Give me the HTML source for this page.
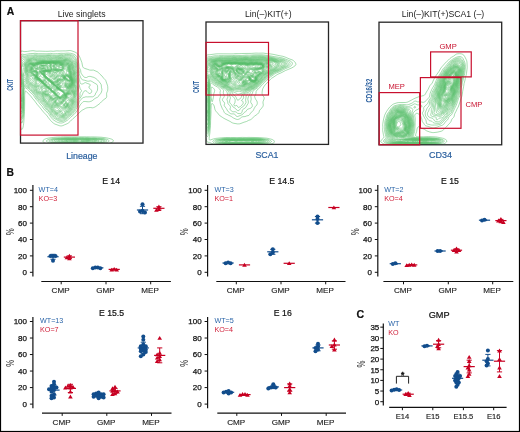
<!DOCTYPE html>
<html><head><meta charset="utf-8"><style>
html,body{margin:0;padding:0;background:#fff;}
svg{display:block;will-change:transform;}
text{font-family:"Liberation Sans",sans-serif;}
</style></head><body>
<svg width="520" height="432" viewBox="0 0 520 432">
<rect x="0" y="0" width="520" height="432" fill="#fff"/>

<clipPath id="c1"><rect x="20.5" y="20.7" width="122.5" height="122.39999999999999"/></clipPath>
<g clip-path="url(#c1)"><g transform="scale(0.1)" fill="none" stroke="#5cc06e" stroke-width="5.5" stroke-opacity="1">
<path d="M435 643l-3 1-4-2 2-2 2-1 4 3-1 1M390 717l-2 2-6-1-8-6-5-5-1-3 0-2 0-2 2-2 5-3 5-1 5 1 5 3 2 4 1 5-1 6-2 4M438 778l-3 1-3 0-7-2-8-5-8-8-3-4 0-8 2-6 2-3 2-1 3 0 5 2 5 5 5 5 5 8 3 8 1 4-1 4M390 775l-5-2-3-3-1-3 1-3 3-2 3-1 5 1 3 2 2 3 0 3-2 2-4 2-2 1M680 783l-3-1-1-2 2 0 2 2 0 1M602 966l-2 0-5-1-3-3-3-5-1-5 5-8 1-4 0-6-2-2-4-5-6-2-11-3-3-3-1-5 2-4 5-6 5-2 6-1 5 1 12 5 13 7 11 8 5 5 3 5 0 5-2 5-14 9-10 11-6 4M442 650l-7 1-8-1-7-3-3-3-1-2 1-2 3-3 5-2 5-1 8 1 6 2 3 3 2 2 0 2-2 3-5 3M490 656l-2 0-3 0-5-3-3-3-2-6 1-2 3-2 6-2 5-1 5 2 2 3 0 2-2 6-3 4-2 2M610 681l-2-1 0-3 0-5 2-3 2 4 1 4-1 3-2 1M498 695l-6 0-3-3 0-2 0-3 1-3 2-3 3 0 3 1 3 5 1 3-1 2-1 2-2 1M425 799l-3 0-2-1-2-2-6-6-4-4-6-3-14-4-6-2-5-5-2-5 0-3 2-4 5-6 7-4 3-4 3-4 0-8-1-2-9-6-13-11-6-5-4-6-1-4 1-3 6-4 10-4 7 0 5 1 6 4 3 6 0 2-4 20 0 8 4 2 16 5 7 5 10 11 13 19 2 5 1 5-1 5-2 3-14 4-6 5M432 702l-2 0-4-2 1-3 3-3 8-2 3 0 1 1 1 1-1 3-2 2-8 3M692 798l-4 0-6-2-6-4-9-8-5-4-2-5-1-3 1-5 4-3 6 1 8 3 7 6 7 8 4 8 0 4-2 3-2 1M605 970l-3 1-4 0-6-2-4-5-6-7-3-7 0-6 3-4 0-3-2-1-8 0-4-2-8-6-4-6-1-5 2-5 8-10 7-5 6-2 4 1 8 1 8 4 12 7 18 12 6 4 4 6 1 2 0 5-1 5-2 2-4 4-12 8-10 11-5 3M448 653l-6 1-4 0-8-1-8-1-6-2-4-3-2-3 0-2 1-2 3-3 8-4 10-1 10 2 9 3 4 3 4 2 2 2-7 6-6 3M500 700l-7 0-5-2-5-4-1-2-1-5 3-13 0-4-5-8-16-18 3-2 9-5 7-2 8-1 8 2 1 1 3 3 1 2 0 2-7 16-1 4 0 3 1 3 9 12 2 5 1 5-3 5-5 3M558 670l-6 0-2-2-2-4-1-2 1-5 2-3 2-2 3-1 3 1 3 2 2 6 0 4-1 3-2 2-2 1M605 692l-5 0-6-2-2-3 0-3 3-10 4-12 1-2 2-3 6-1 4 1 4 3 2 2 2 4 2 6 1 10-3 5-2 2-6 2-7 1M428 807l-6 0-2-1-5-4-11-12-6-4-16-7-4-3-3-4-3-7 1-5 2-4 8-12 1-2 0-5-2-7-4-6-4-4-15-13-4-5-1-2 0-3 2-3 4-2 20-8 5-1 3 0 7 4 12 13 0 2-5 5-2 6-1 7 2 4 5 6 14 7 8 7 19 26 5 10 3 7-1 5-2 2-14 7-10 6M435 705l-7 1-6-1-6-3 0-2 2-3 7-5 10-5 7-1 6 1 2 3 1 2 0 2-2 3-7 5-7 3M695 803l-5 0-8-2-8-7-12-10-4-5-3-7 0-5 1-3 2-3 2-1 2-1 6 1 4 2 10 5 8 8 7 9 3 8 0 5-1 3-1 1-3 2M485 822l-4-2 1-2 3 1 0 3M518 858l-3 1-3 0-2-4 0-3 0-4 2-4 3 0 5 1 3 2 2 3-1 2-2 2-4 4M608 973l-6 1-4 0-6-2-4-4-10-11-11-15-15-18-3-4-2-6 1-2 14-16 6-4 4-1 8 1 10 3 8 3 34 22 6 4 3 6 1 4 0 6-2 4-2 5-4 3-12 7-10 11-4 3M498 702l-6 0-6-2-5-3-3-3-1-2-1-2 3-13-1-7-4-8-6-7-6-2-2 0-18 4-7 0-7-2-13-3-6-2-4-3 0-3 1-2 5-5 4-3 8-2 7-1 12 1 13 4 7 2 18-5 8 0 7 0 5 1 2 2 4 4 0 2-1 5-4 10-2 7 2 6 6 10 3 4 1 8-2 5-2 3-5 1-4 1M562 677l-7 0-5-2-3-3-3-5-1-5 1-8 3-4 3-3 5-1 5 2 5 4 3 5 2 7 0 6-3 4-2 2-3 1M610 695l-10 0-8-1-4-2-4-2-2-3-1-3 1-2 7-10 4-10 3-5 4-3 5-2 5 1 4 1 6 6 4 7 3 13 0 4-1 3-2 3-4 2-10 3M432 810l-4 1-6-1-2-1-5-5-13-13-4-3-18-8-5-6-3-4-1-8 1-7 7-13 1-5-2-7-4-8-9-8-13-9-10-5-4-3-2-5-1-5 1-5 2-4 2 1 4 5 4 4 2 1 5 0 15-5 5-2 7-6 3 0 5 2 15 14 5 2 2 0 6-1 14-7 8-3 8 0 3 1 3 3 2 3 0 2-1 2-5 6-8 4-7 3-7 1-16-2-2 1-5 2-2 3-1 2 0 6 2 4 4 4 14 9 8 7 20 28 6 10 4 8 1 4 0 3-1 1-2 2-16 3-10 7M698 805l-3 1-5 0-8-3-10-6-12-11-4-6-3-8 0-8 0-2 2-3 3-2 2-1 5 1 5 1 10 5 10 9 8 10 4 10 0 5 0 3-2 3-2 2M515 870l-3 1-2-1-4-3-4-4-3-6-2-13-4-4-6-6-13-4-4-5-2-5 0-6 0-4 2-4 2-1 3 0 5 2 5 2 6 5 17 18 17 10 5 5 1 5-1 4-10 11-5 3M678 862l-3 1-3 0-2-3 1-6 1-2 3-1 3 0 2 4 0 5-2 2M608 975l-6 1-4 0-6-2-4-4-17-18-27-35-2-5 1-2 9-9 10-12 6-2 4 1 13 3 10 4 40 25 5 3 3 4 1 5 0 8-2 5-2 5-5 5-10 6-13 11-4 3M515 878l-3 1-4-3-14-14-3-5-1-10-2-3-3-3-5-2-5 0-3 3 0 5-2 1-3-1-5-4-1-3 0-3 2-7 0-10-2-8-1-2-2-3-6-1-4 0-6 1-10 6-2 1-5-1-5-3-5-3-15-16-5-3-13-6-7-6-4-6-2-8 2-8 4-10 2-4 0-8-2-5-6-7-9-8-8-4-14-6-4-2-3-6-1-7 0-10 2-6 3-1 3-1 2 1 3 2 7 10 4 2 6 1 8-2 4-3 3-6 0-2-1-10 0-2 1-3 3-4 2-1 5-2 10-3 13-10 10-5 7-1 7-1 6 0 20 5 4 1 20-4 10-1 10 3 6 3 1 3 0 2-6 15 0 7 1 6 8 12 1 5 0 5-1 5-2 3-4 2-4 1-7 0-10-2-9-4-6-5 0-2 4-10 0-8-1-5-3-4-4-3-4-2-4-1-10 2-8 1-32-8-8 0-2 0-4 5-2 5-1 5 1 5 4 8 8 7 6 4 2 0 6-1 20-9 7-1 5 0 4 2 7 5 1 3 0 2-5 5-12 7-7 4-10 2-16-1-4 1-3 2-1 2 0 6 0 2 4 4 14 10 8 8 18 23 20 27 4 5 10 5 8 6 18 18 7 6 10 6 5 3 3 4 2 5-1 5-14 17-5 4M608 697l-10 1-8-2-9-4-11-6-15-5-8-4-5-5-2-5 0-5 0-5 3-7 2-3 5-3 5-1 5 1 4 3 3 3 4 4 7 13 2 1 2 0 3-2 9-12 3-2 3-1 5-1 5 1 5 1 4 2 4 6 4 7 3 13 0 4 0 3-2 3-6 3-7 3-7 1M698 808l-8 0-8-2-7-5-16-14-5-7-3-8 0-10 1-6 3-2 5 0 10 2 10 5 10 8 9 13 3 7 2 5-1 8-1 2-4 4M678 867l-6 0-2 0-2-3-2-4 2-8 2-5 2-3 3-1 3 1 2 1 2 4 2 5 0 6-1 2-2 2-3 3M608 977l-6 1-4 0-6-3-4-3-18-19-12-16-16-17-3-6-1-4 0-3 3-3 9-6 8-12 2-2 5 0 5 1 15 5 10 4 30 18 15 8 4 4 2 6 0 10-2 7-4 7-3 3-12 7-13 10-4 3M518 890l-3-1-5-4-10-11-8-7-7-4-15-8-5-4-5-5-3-4-2-5 0-5 2-8 0-4-2-6-2-2-3-1-5 0-7 4-6 1-7-1-5-3-5-4-16-16-19-10-6-5-5-7-1-8 1-8 5-14 0-8-1-5-5-7-8-6-8-3-14-5-4-2-4-3-3-7 0-14 0-8 1-2 2-3 5-2 5 1 3 1 4 3 5 7 3 2 5 2 5-1 3-3 1-3-1-10 0-4 3-6 4-4 5-3 18-6 11-7 6-2 10-2 13-1 17 4 7 1 20-3 10-1 11 2 6 2 3 3 1 3 0 2-6 12-1 8 1 5 7 13 2 7-1 7-2 6-3 2-5 3-5 0-5 0-10-2-15-5-5-1-5 1-20 10-8 3-7 1-10-1-5 1-2 1-2 4 1 5 2 2 13 10 6 5 40 51 7 6 15 11 20 20 18 13 8 7 3 7-1 6-1 2-7 8-5 7-5 12-2 1M608 700l-10 0-8-1-20-8-18-6-8-5-5-6-2-2-1-5 1-13 1-4 2-3 2-3 4-2 4-1 5-1 7 2 5 2 11 12 2 1 2 0 3-1 9-6 8-3 6 1 6 2 5 2 3 2 5 6 3 7 3 13 1 7-1 3-2 2-4 2-7 3-12 3M418 687l7-3 13-6 7-3 5 0 10 4 5 1 3-3 1-3-1-4-3-4-5-3-15 1-30-7-7-1-6 1-2 3-3 4 0 6 2 7 4 5 5 4 4 2 6-1M700 810l-8 1-4-1-6-1-7-5-17-15-4-5-2-4-3-10-1-10 1-6 2-2 1-1 6-1 7 2 7 2 10 6 10 9 9 13 3 8 2 4 0 6-1 4-3 4-2 2M678 870l-6 1-4-1-3-3-2-5 0-8 5-12 2-4 2-2 3-1 5 3 4 4 2 5 2 7-1 6-1 4-4 4-4 2M608 980l-6 0-4-1-6-2-4-3-19-20-13-17-16-17-5-8-3-5 0-3 0-2 3-2 7-3 4-3 3-4 4-8 2-3 3-1 4 1 30 12 10 6 23 13 17 7 4 3 2 2 1 5-2 15-2 8-4 7-3 3-13 7-13 10-4 3M608 982l-6 0-4 0-6-2-4-4-20-20-14-19-17-17-15-20-12-10-11-13-7-6-20-11-10-8-4-5-5-7-3-8-1-10-1-2-3-1-7 1-6-1-10-4-8-5-16-17-20-11-6-5-4-7-2-10 1-8 4-15 0-5-1-5-3-5-7-6-8-3-17-4-5-3-4-4-2-8-1-20 1-4 2-6 4-2 2 0 8 0 7 2 11 6 2-1 2-7 4-8 5-4 3-3 5-3 13-4 20-8 13-3 13-1 17 4 7 0 20-3 13 0 14 3 5 2 3 3 1 3 0 2-7 12-2 6 1 4 1 3 7 13 1 4 0 6-1 4-2 6-4 3-2 2-5 2-7 0-10-2-18-5-8 0-7 3-23 10-7 1-10 0-3 0-3 3 0 3 1 2 2 2 10 8 6 5 27 35 13 15 7 6 17 14 18 18 5 4 16 11 7 7 5 10 1 10-1 3-5 2-3 2-3 4-1 4 0 2 1 5 3 1 3 0 2-1 3-5 3-12 2-2 4 1 8 3 15 8 25 11 25 14 7 3 16 4 4 2 3 2 1 2 0 2-5 10-5 20-4 8-4 4-13 7-13 9-4 2M608 702l-10 1-8-1-38-13-8-5-7-4-4-6-1-4 2-20 1-6 3-2 7-3 7-1 6 0 4 1 6 2 12 8 5 0 10-4 7 0 12 2 5 3 4 2 5 5 4 7 6 18 1 5 0 3-2 2-5 4-7 2-17 4M424 682l5-2 7-6 1-2 1-2-1-3-4-3-5-2-10-2-8 0-5 2-3 3-1 5 1 4 3 6 3 2 4 2 6 0 6-2M700 813l-5 1-5 0-5-1-5-2-8-5-17-17-5-9-4-13-1-15 0-2 3-3 2-1 5 0 17 5 10 6 6 4 4 6 6 6 5 9 3 8 2 7 0 5-1 5-2 3-5 3M680 872l-8 2-4-1-6-3-2-6-1-4 1-6 5-20 3-4 2-1 2-1 6 1 2 1 4 4 4 8 2 8 1 7-2 7-4 5-5 3M610 985l-5 0-7-1-6-2-4-3-22-22-10-15-6-8-15-14-13-16-14-13-13-14-7-6-18-10-10-9-8-9-7-13-3-3-4-4-13-5-7-4-6-4-14-16-6-3-14-8-7-6-4-7-2-10 0-10 3-16 0-4-2-6-5-4-6-4-20-4-7-2-3-3-4-5-1-5 0-27 1-6 2-2 4-2 5-1 18 2 5-1 5-4 9-9 9-5 38-12 9-2 7-1 30 4 23-3 13 0 14 3 16 7 2 0 20-3 10 1 7 1 11 5 4 1 16-1 12 2 12 4 8 6 6 10 10 20 1 6 0 4-2 3-5 2-18 3-17 4-7 0-6-1-20-7-20-6-22-9-2 0-3 4-4 10-4 5-5 4-4 2-10 1-26-6-10 0-10 3-20 9-7 1-10 1-3 3 1 2 2 2 13 11 22 29 15 18 10 9 18 13 19 21 23 16 5 6 10 15 8 8 17 10 25 11 21 11 9 3 12 1 8 1 15 5 3 2 1 3-1 3-10 9-5 5-2 6-5 20-1 3-3 4-4 3-10 3-13 10-5 2M523 670l2-2 1-4 1-7-1-5-1-1-3-1-2 1-4 3-1 3-1 5 1 2 3 4 2 2 2 0 1 0M420 680l6-3 2-3 2-2 0-2-2-3-6-3-7 0-5 1-2 2-1 3 1 3 2 4 2 2 3 1 5 0M672 877l-4 0-6-1-2-2-2-2-2-5 0-10 4-27 2-4 3-3 9-6 0-3-5-7-15-15-6-10-9-35 0-3 1-3 2-2 3-1 5 0 5 1 23 11 7 5 7 8 10 14 5 10 3 10 0 5-1 5-1 4-3 3-5 3-10 3-4 2 0 2 5 13 2 7 1 13-2 7-3 6-4 3-5 2-8 2M615 987l-5 2-8-1-10-2-4-3-13-14-10-9-11-18-6-8-13-12-15-17-14-13-11-13-7-6-16-9-10-7-9-10-10-15-3-4-22-13-6-4-11-11-5-6-18-10-7-4-5-8-3-12 0-13 2-15 0-5-2-3-3-3-5-2-5-2-15-2-7-2-6-3-4-6-1-4 1-18-1-15 0-5 2-2 3-3 6-1 20 1 4 0 6-3 11-10 9-4 37-11 10-2 7-1 30 3 23-2 10 0 15 2 20 5 8 0 14-1 10 1 18 4 18 1 14 3 13 5 5 4 4 3 11 17 5 5 7 6 3 5 0 10 1 5 6 10 2 5-1 3-9 7-1 3 1 2 4 5 19 12 8 8 8 10 7 13 4 10 2 7 1 7-2 8-2 4-11 8-2 3 2 23-1 7-1 7-3 6-4 4-6 3-4 2-10 2-8 0-5-3-3-6 0-10 2-18 1-14 1-6 8-10 1-2-2-5-11-13-2-4-4-8-6-21-8-17 0-4 1-3 2-3 7-7 2-3-1-4-2-8-3-5-6-2-7-1-10 2-13 5-4 0-26-11-34-10-6 0-2 0-2 2-10 13-3 2-5 3-5 1-5 0-28-6-10 0-10 2-20 10-12 4-1 1 1 2 10 12 18 24 14 17 10 9 23 18 17 19 24 17 4 4 13 18 15 12 7 5 7 4 33 12 10 2 5 0 10-1 5 1 23 10 4 3 3 2 1 2 0 3-1 3-5 4-10 7-5 6-3 7-4 18-3 7-5 4-12 4-13 10M420 672l-2-1-2 1 2 1 2-1M592 825l-2 0-2-2-1-6 3-5 2-2 3-2 3 0 2 2 2 2 0 2 0 3-4 5-6 3M618 993l-3 1-5 0-18-4-4-2-3-2-10-14-12-10-2-2-6-13-6-10-16-15-13-15-15-14-12-13-6-6-17-9-8-6-7-8-13-17-4-5-16-9-7-5-15-15-6-6-18-10-6-4-4-6-2-4-3-13-1-13 2-14-2-6-3-2-5-2-14-1-10-3-8-4-5-5-1-5 1-20-3-20 1-2 1-3 4-2 4-1 23 1 5-1 5-1 13-10 7-3 34-10 13-4 13-1 27 3 23-2 10 0 13 1 22 5 8 0 14-1 10 1 30 3 13 3 15 5 9 4 6 5 10 11 5 3 5 1 7 1 3 0 3 2 2 6 1 6-1 15 0 5 3 5 10 13 3 4 0 6-4 7 0 3 2 4 16 24 8 14 5 15 1 10-2 5-2 5-6 7-3 6-2 27-2 7-2 6-3 3-4 4-8 4-16 6-3 3-1 2 0 2 2 3 13 9 4 4 2 4-1 6-4 4-14 8-5 5-3 7-4 22-3 6-5 3-10 4-4 3-10 11M608 884l4-7 3-3 3-1 2 0 2 1 8 4 5 1 5-1 2-2 2-2 3-7 2-20 0-7-1-16 2-4 6-8 1-2-2-6-5-8-2-5-10-29-11-18-1-2 1-5 5-10 2-5-1-8-1-2-2-2-5-1-7 1-6 2-10 6-4 0-3-1-8-7-4-3-8-4-10-3-20-5-10-1-5 1-12 14-3 2-5 2-8 0-30-6-10-1-4 1-8 3-10 4-12 8-2 2 1 3 9 15 9 13 15 18 12 12 23 18 18 19 25 18 4 4 12 16 7 7 13 10 14 6 7 3 7 1 3 0 3-3M588 832l-6-2-1-3 0-5 3-8 4-6 4-4 3-1 5 1 5 3 2 3 2 4-1 3-3 5-7 7-6 2-4 1M610 1010l-5-2-7-7-10-5-6-6-5-10-5-6-4-4-11-6-2-2-1-12-2-6-3-4-5-6-13-12-13-15-14-13-12-13-7-6-15-9-9-6-9-10-11-16-5-4-21-14-20-19-7-5-15-8-5-4-4-8-9-30-1-2 0-3 3-5 0-2-1-3-4-3-14-1-13-5-10-6-2-2-2-3 0-5 2-12 0-8-2-8-5-14 0-3 2-3 2-2 5-1 27 2 8-1 5-2 13-9 7-3 37-11 10-2 13-1 27 3 30-2 16 1 24 4 28 0 32 2 23 7 13 5 5 3 12 10 5 2 5 1 13-1 2 1 2 3 3 5 2 12 0 7-1 10 1 5 3 5 9 13 3 4 1 6-2 12 0 5 3 7 11 20 6 13 4 13 0 10-2 7-8 15-4 28-3 10-7 7-16 10-3 3-1 2 0 2 1 3 12 13 2 4-2 6-4 5-18 10-4 5-3 7-3 18-2 8-5 5-10 4-5 4-3 4-4 10-3 3-5 5-5 2M601 882l9-14 5-5 3-2 4-1 6 0 7 3 2-1 3-5 1-5 0-8-1-7-5-7-9-10 0-3 3-3 11-4 5-3 1-3 0-4-4-20-4-14-6-8-10-11-2-5 0-8 4-12 0-2-2-2-2-1-2 1-10 6-6 2-4 1-6-1-2-1-2-3-4-10-6-5-6-3-10-3-17-3-7-1-6 1-2 2-5 4-7 9-3 2-3 2-7-1-30-7-13-1-7 1-7 3-9 5-6 5-1 2 0 6 5 12 13 17 15 17 30 25 20 21 18 12 7 6 16 20 13 12 9 5 10 5 7 1 3 0 3-1M588 837l-6 0-6-3-2-2 1-5 7-16 6-7 4-4 3-1 5 1 5 2 6 5 7 7 1 3-3 3-18 14-6 2-4 1M615 1015l-7 1-6-1-20-12-2-4-5-15-4-7-6-4-13-3-4-3-1-3 1-2 3-10 0-2-1-6-5-7-14-13-12-14-14-13-16-17-7-5-14-8-8-6-8-9-12-16-5-5-21-14-16-17-6-4-20-10-4-4-5-8-6-20-5-7-4-5-9-5-2-3-4-7-3-3-17-10-5-4-1-6 3-12 0-8-2-10-6-10-1-4-1-6 1-2 2-2 5-2 2 0 28 3 10-1 4-1 15-9 6-3 38-10 14-3 13 0 24 2 23-2 10 0 13 1 27 4 23-1 32 2 10 2 28 9 6 3 11 8 5 2 5 1 10-1 5 0 3 0 3 3 2 5 2 10 1 12 0 16 2 4 9 15 3 5 1 8-1 12 0 6 3 7 11 23 5 12 3 10 0 10-2 6-7 16-5 28-3 8-5 7-13 10-3 3-1 2 0 2 1 3 8 10 2 5 0 5-1 3-4 4-3 3-16 9-5 4-3 7-3 20-2 7-4 5-10 6-6 4-7 16-5 6-5 4M597 880l3-4 8-13 4-7 12-9 3-3 1-4-1-6-2-2-3-2-4-2-6 2-10 7-4 3-6 1-7 0-8-1-7-3-2-3 0-2 0-2 15-26 5-4 2-2 5-2 5 1 5 2 13 7 7 2 7-2 6-2 3-4 1-6 0-7-2-7-2-9-3-5-5-7-9-7-6-5-6-10-1-1-6-1-10 1-4 2-10 6-6 4-4 1-6-1-1-1-2-3 0-2 1-2 2-3 12-7 4-3 2-6 0-7-3-4-7-4-12-4-13-2-7 0-6 2-3 2-5 6-2 4 0 3 1 3 5 7 1 3-1 2 0 1-6 2-4-1-3-2-7-10-3-2-5-3-10-3-15-4-10-1-7 1-10 4-9 6-2 2-2 5 0 5 3 8 4 7 5 7 15 18 10 9 23 19 22 22 19 12 6 6 16 20 12 11 8 5 7 3 7 2 5-1M570 1025l-2-1-3-1-2-3 0-3 0-3 2-4 6-8 2-5 0-5-1-5-2-5-2-2-6-4-7-1-7 1-13 4-5 0-2-1-3-2-2-3 0-4 2-3 3-2 7-3 5-3 7-7 1-2-1-6-5-7-12-11-12-15-15-14-14-15-7-5-14-8-9-7-7-7-12-17-5-5-22-16-15-15-6-5-7-4-13-5-4-4-4-4-7-20-5-9-4-5-10-6-4-3-7-10-3-3-14-8-4-4-2-2 0-6 3-14 0-8-2-5-8-13-1-4 0-8 2-3 2-3 2-1 6-1 24 4 13 0 7-2 13-7 7-3 40-10 13-3 13 0 24 2 23-2 10 0 13 1 27 3 47 0 10 1 37 12 19 9 7 1 13-1 4 0 6 2 3 3 2 8 3 38 1 4 8 13 3 7 2 8-1 12 0 8 2 8 14 30 3 10 1 7-1 10-7 20-5 23-2 7-2 5-4 5-10 10-4 5 0 2 1 3 8 13 1 4 0 3-3 5-6 5-18 10-6 5-3 8-1 17-2 7-5 7-10 7-4 4-8 15-6 7-7 5-7 2-6 0-12-4-5 0-3 1-7 5-5 2M555 732l11-5 6-5 3-5 0-3-1-2-2-2-5-3-7-2-15-3-7 1-4 1-4 3-3 5 0 2 1 3 4 6 13 11 5 0 5-2M595 877l3-5 6-12 1-8 0-2-2-3-5-1-26-4-4-1-3-1-3-3-1-3 0-2 2-2 10-13 11-17 6-6 5-2 5 1 5 2 10 6 7 2 8-1 5-3 3-5 1-4 0-6-3-12-3-5-3-4-5-4-17-9-8-3-8 1-27 10-5 1-2-1-4-4-6-11-3-3-3-1-2 0-20 4-5 1-3-1-3-3-5-13-3-5-3-2-4-3-16-5-10-1-10 0-9 3-7 6-2 2-2 5 0 5 2 8 2 4 5 8 15 18 10 10 23 18 23 23 7 5 13 8 7 6 15 20 10 10 8 4 7 4 5 0 5-1M572 1032l-4 0-6-2-2-3-2-6-1-7 2-4 6-10 3-6 0-4-1-3-2-4-5-3-5 0-5 0-15 5-7 0-3-1-4-2-3-6-2-6 0-6 2-5 2-4 2-3 3-2 10 1 5-2 2-2 0-3-2-4-10-8-2-2-8-13-4-5-16-15-12-14-8-6-18-9-4-4-6-6-12-18-5-6-23-15-16-17-6-5-8-4-12-4-5-3-4-6-3-13-3-7-4-8-6-4-13-8-12-15-13-8-6-5-2-2 0-3 0-3 4-12 0-8-1-3-2-4-7-10-2-7 0-6 1-4 4-6 4-2 5-1 25 5 12 1 8-2 14-8 8-3 50-11 13-1 27 2 23-2 10 0 13 1 27 3 47-1 10 0 8 2 15 6 17 5 13 5 5 2 5 0 13-1 7 2 5 2 4 4 3 8 2 40 2 4 8 16 3 7 1 7-1 13 0 7 3 8 12 30 3 8 1 7-1 10-6 20-7 30-3 7-11 13-3 5 1 5 9 15 0 5-4 5-6 5-22 12-6 4-2 4-1 5 0 18-2 7-5 6-10 8-3 3-8 16-6 7-7 5-8 3-8 2-14 0-10 4-6 1M558 724l7-3 3-4 1-3-1-2-3-2-7-3-13-2-7 2-4 3-2 2 1 2 2 4 5 4 5 3 5 1 8-2M592 874l3-4 3-8 0-5 0-3-2-2-4-2-4-2-20-3-8-2-7-3-1-3 1-3 3-4 14-13 5-7 7-14 3-3 5-4 5-1 5 0 5 3 10 6 5 1 8 0 4-3 3-3 1-8-1-7-3-5-2-4-5-4-5-3-12-3-10-2-16 2-10 4-12 5-5 1-3 0-3-4-5-12-2-2-4-3-6 0-4 1-16 6-4-1-4-1-2-2-1-3-1-15-1-5-4-5-3-2-5-3-15-4-10-1-9 2-8 6-2 2-1 5 0 7 1 8 7 11 12 15 10 9 26 21 20 22 10 6 24 14 3 7 4 7 6 8 7 7 10 6 6 1 4-2M488 935l-3 0-5-1-5-2-1-2 3-3 3-1 5 1 3 3 1 2 0 2-1 1M660 1058l-2 1-3 0-3-2-2-3 0-2 1-5 1-4 3-2 3-2 2 0 2 1 2 2 2 5-1 5-3 4-2 2M578 1037l-8 0-8-2-4-3-3-5-1-7 1-8 2-8 4-7 2-5-1-3-2-3-2-1-6-1-20 5-4 0-6-1-4-4-3-4-3-8-4-18-3-5-5-3-42-11-5-3 0-2 1-3 4-2 7-2 13-6 4-1 6 2 14 12 3 1 5-1 8-4 1-2 0-2-2-5-3-5-14-12-10-13-6-5-8-5-14-5-4-4-4-4-12-20-6-7-6-5-20-14-15-16-8-5-6-3-13-3-6-4-2-5-2-12-3-8-5-8-5-4-15-9-4-4-8-10-20-13-3-2-1-2 0-3 5-13 1-7-2-7-9-10-2-8 1-8 1-4 3-6 2-2 6-2 5-1 25 5 12 1 8-2 12-7 8-3 52-11 13-1 27 3 23-3 10 0 13 1 27 3 50-2 10 1 23 7 17 5 13 4 4 1 16 0 7 1 7 4 5 4 1 2 1 5 1 15 2 28 2 4 9 18 2 8 1 7-2 13 1 7 3 7 11 28 2 8 1 7 0 10-6 23-6 27-3 7-9 13-2 5-1 2 2 6 9 12 1 2 0 3-4 5-7 5-26 12-6 5-2 3-1 5 0 20-3 8-3 4-13 11-2 5-7 12-5 7-8 5-12 6-8 2-22 5M558 720l4-3 1-3-2-2-4-2-7-2-5 0-5 2-2 2 0 2 2 3 5 3 7 1 6-1M548 830l14-10 6-4 4-7 10-18 3-3 5-4 5-1 5 1 5 2 10 7 5 2 5 0 5-3 2-2 1-6-1-5-2-6-5-5-5-2-10-2-12-1-18 2-8 2-14 7-6 1-3-1-4-2-2-2-3-12-2-3-3-1-3-1-4 1-10 4-8 2-8-1-4-2-3-3-3-2-1-5 3-13 0-4-1-6-3-2-3-2-12-5-10-1-7 1-6 2-4 3-2 2-2 5 1 13 2 4 2 6 11 13 11 11 27 22 16 18 6 6 8 5 10 4 4 2 3 0 3-1M590 872l3-5 1-5-1-5-3-4-5-2-7-2-13-1-4 2 0 2 2 5 4 5 5 6 6 3 4 2 6 0 2-1M660 1062l-5 1-5-1-2-2-2-3 0-5 1-8 3-4 5-5 5-1 5 2 3 3 1 3 0 5-1 5-2 5-4 3-2 2M588 1042l-10 0-10-1-10-3-5-4-2-4-1-10 2-10 3-13 1-3-1-2-3-2-2 0-22 3-6-1-2-1-5-5-10-23-4-6-3-3-8-4-12-6-23-5-6-5-3-4 0-3 2-3 2-2 12-4 6-2 14-10 6 0 3 1 3 3 6 7 5 3 5 0 2-3-3-5-11-11-9-11-5-6-8-4-14-3-4-3-4-2-4-5-7-17-7-10-8-8-18-12-18-18-4-3-6-2-14-3-5-2-3-2-2-3-1-5-1-10-2-8-2-4-4-6-6-3-15-9-5-5-6-7-6-5-20-11-2-2 0-5 7-15 0-5-3-5-7-8-2-4 0-6 0-7 2-7 3-6 4-4 6-2 7-1 25 6 12 0 8-2 13-7 7-2 45-9 15-3 8 1 22 2 25-3 13 0 40 4 52-2 10 1 20 7 28 6 17 1 7 2 10 3 4 2 3 3 3 5 0 4 1 16 2 28 3 7 7 15 3 8 0 7-1 15 1 8 13 34 3 13-1 10-5 23-4 24-3 8-9 15-1 5 0 2 1 4 10 13 2 3 0 3-2 4-3 3-37 16-4 4-3 2-2 4-1 4 1 18-2 8-4 7-9 8-4 5-8 14-4 6-7 5-20 11-10 4-7 2M547 824l15-8 7-6 5-8 10-22 0-3 0-3-4-1-5 0-20 6-7 1-6-1-2-2-4-5-3-8-3-2-2 0-13 3-7 1-10-1-8-2-5-3-4-3-2-3-2-4 2-6 6-7 3-4 0-3-2-6-2-2-4-2-8-3-4-1-6 0-4 1-6 3-2 2-2 5 0 5 2 10 2 8 5 7 5 6 10 9 26 20 4 5 11 15 8 8 9 5 8 2 4-1 5-2M626 790l2-3 1-5-1-5-3-4-5-2-5-1-6 2-3 2 0 3 1 3 7 7 6 3 2 0 4 0M587 870l2-3 1-5-2-5-3-2-5-2-8-1-4 1-2 1 1 6 5 4 3 3 4 3 3 1 3 0 2-1M660 1066l-2 1-6 0-4-2-4-3-2-2-1-6 2-10 5-8 4-5 8-2 5 1 3 2 3 5 1 7-1 8-2 5-4 5-5 4M592 1048l-7 0-10-1-20-5-5-2-2-3-1-5 2-30-1-2-1-3-5-1-17 0-5-1-2-1-6-6-10-21-3-5-6-5-7-5-8-4-8-3-12-2-6-2-4-3-3-4-3-4 0-3 1-5 2-2 3-2 12-3 5-3 6-5 7-10 7-3 1-2-1-2-3-3-4-3-13-1-7-3-8-6-3-2-4-5-1-5-1-10-2-5-3-5-5-5-22-15-14-15-5-5-8-3-14-2-6-2-4-4-3-3-1-4 0-12 0-5-2-5-4-6-6-3-14-8-6-3-3-2-8-10-3-3-6-3-13-4-4-3-2-3-1-2 0-5 5-13 1-4-2-6-6-10-1-4-1-6 2-7 2-7 2-6 5-4 6-4 7-1 26 6 7 0 7 0 8-2 12-6 8-2 48-10 12-1 8 0 22 2 25-2 13-1 40 3 52-2 10 1 18 5 7 2 30 3 10 2 20 7 5 4 2 2 2 4 1 4 1 18 2 28 3 7 8 17 2 8 0 5-2 15 1 8 3 10 10 27 2 10 0 10-5 25-3 22-3 8-6 12-2 6 0 4 2 3 7 9 3 5 0 3 0 6 0 2-3 4-5 3-31 11-7 3-4 3-2 4-2 4 2 18-1 5-1 5-5 8-9 8-3 4-8 18-2 2-5 4-16 8-16 11-8 3M464 744l12-12 2-2 0-3-1-3-2-2-6-2-7-1-4 1-4 2-1 2-1 6 3 9 3 5 2 3 2-1 2-2M543 822l9-4 8-3 5-5 3-3 4-7 2-8 0-5-2-4-2-1-2-1-18 4-8-1-7-2-10-9-5-1-15 1-4 1-4 3 0 3 0 2 8 12 7 13 6 7 6 6 6 2 8 1 5-1M581 867l1 0 2-3 1-2-2-2-3-3-2 0-6 0 0 3 1 2 2 2 6 3M658 1070l-8 1-4-1-4-3-2-3-3-4 0-8 5-15 4-7 3-3 3-2 8-1 5 0 5 2 3 4 2 7 0 10-2 7-4 8-7 6-4 2M655 1075l-7 0-6-2-5-3-5-6-3-4 0-3 4-13 0-4-1-3-2-2-2 1-6 1-6 5-11 9-5 2-5 1-10 0-20-5-15-1-5-1-3-3-2-4 0-6 3-12 0-10-1-6-2-3-5-2-13 0-4-2-3-1-5-6-6-15-4-7-5-6-5-4-7-6-8-3-23-7-4-2-5-5-3-5-2-5-1-5 1-2 2-3 2-2 13-3 5-3 5-5 1-2 1-5-2-5-2-2-8-6-15-8-5-4-1-2-1-6 2-14-2-6-1-2-5-5-17-9-4-4-5-4-7-10-6-6-6-2-10 0-4 0-6-3-4-3-5-4-3-5 0-5 1-12-1-6-3-4-2-3-5-3-18-7-7-4-5-3-5-8-3-2-17-7-4-3-2-3-1-3-1-4 4-16 0-4-6-16-1-10 1-7 2-7 3-6 5-5 7-5 8-1 8 1 20 5 12 0 8-1 14-7 8-2 48-9 12-1 8 0 22 2 25-2 13-1 40 3 54-3 10 1 23 6 7 0 18 0 8 1 30 12 4 3 3 3 3 5 1 5 0 20 2 26 3 7 8 17 2 8 0 8-2 12 1 10 3 10 9 25 2 10 0 10-5 25-2 22-2 8-6 12-1 6 0 2 2 5 8 13 1 4 0 6-2 7-5 6-5 2-20 4-10 3-6 2-3 3-3 5-1 8 2 14-1 10-2 6-2 4-12 11-2 5 0 2 1 2 4 2 3 0 7-2 3-2 5-8 3-2 4-1 5-1 5 2 3 2 1 6-2 4-9 8-2 2-1 6-2 17-2 7-4 7-2 4-5 5-5 3-5 2M533 820l5-1 7-2 10-4 5-3 3-3 3-5 2-5-1-5-2-2-3-1-20 1-7-1-13-4-4 1-3 4 0 4-1 8 2 5 3 5 3 3 6 3 5 2M655 1080l-7 1-6-1-4-3-16-9-7-3-20-3-30-8-7 0-13-1-5-2-4-4-2-5 0-8 3-14-1-6-1-2-2-2-3-1-12-3-7-4-3-5-6-15-4-8-6-6-7-7-6-4-7-3-17-5-5-2-5-4-4-3-3-6-4-7-1-5 0-5 2-4 3-2 4-2 8-2 5-3 3-2 1-2-1-3-1-3-2-2-5-3-5-2-13-2-2-1-3-2-2-4-1-4 0-22-1-5-2-3-6-4-19-10-2-3-4-12-2-3-6-3-10 0-4-1-8-5-10-9-4-4-2-6 1-4 2-8 0-5-2-5-2-2-4-3-7-2-24-7-6-2-4-4-5-8-13-9-4-5-3-8 2-20-5-20 0-10 1-8 3-7 3-5 5-5 6-4 4-2 8-1 5 1 23 6 12 0 8-2 12-5 8-2 52-9 10-2 8 0 22 3 25-3 13 0 40 3 57-4 8 1 22 5 10 0 15-2 8 0 4 2 13 8 17 7 6 4 3 6 1 7 1 20 2 26 3 7 8 17 1 8 0 8-2 14 1 10 4 13 7 20 2 10 0 10-4 25-1 22-2 7-5 13 0 6 1 4 7 16 1 4 0 6-1 7-2 5-3 4-2 2-8 3-20 2-8 2-7 3-3 4-1 2 0 6 7 25 4 5 10 5 6 4 3 5 0 8-1 4-2 4-8 7-4 5-6 20-3 8-5 6-7 9-5 3-5 2M540 812l7-2 5-4 3-2 2-2 0-2-2-2-3-1-17-1-5 1-4 3-2 2 0 5 1 3 3 2 4 1 8-1M380 840l-2 0 0-3 2-2 2 0 1 2-1 2-2 1M652 1087l-4 1-6-1-20-11-4-1-16-2-20-8-12-4-10-2-15 0-5-1-2-1-5-5-3-8-2-7-1-10-1-5-4-4-12-8-4-6-4-6-4-15-6-8-8-8-9-7-7-3-18-6-5-3-6-6-7-10-4-10-1-8 2-10 0-4-7-9-3-7-1-4-3-18-1-5-3-5-6-4-5-1-5 0-15 5-5-1-5-2-2-3-2-4 1-18-1-4-1-3-6-7-19-18-3-5 0-5 3-12 0-3-2-3-3-2-10-4-7-1-16-2-4-2-6-4-8-12-12-15-2-8 0-22-4-20 0-10 1-8 2-7 3-5 5-5 11-8 7-2 7 0 23 7 13 0 7-1 20-7 20-3 45-7 8 0 22 2 25-2 13-1 40 3 32-2 28-2 7 0 15 3 8 1 7 0 17-3 8 1 5 2 14 9 16 6 5 5 4 6 2 8 2 40 1 8 3 7 7 15 2 8 1 7-3 20 1 10 3 10 7 20 2 10 0 10-5 25 1 25-6 20 1 7 6 16 1 4 0 8-2 8-2 7-3 5-3 3-5 2-5 1-25 2-5 2-2 2-1 3 1 5 9 18 4 4 10 10 4 7 2 6 0 7-2 6-3 4-9 10-3 5-10 21-8 13-7 8-7 4-6 2M655 1097l-5 2-5 0-5-3-12-8-8-3-5 1-3 1-7 5-3 0-2-1-9-11-6-5-5-3-8-2-10-3-22-1-5-3-4-3-5-8-9-22-12-13-5-7-3-8-5-15-4-7-8-8-10-7-18-7-7-5-7-7-10-14-6-10-3-8-7-24-3-20-1-5-2-3-4-3-4-2-23 1-7-2-6-3-3-6 0-17-3-10-2-6-5-4-7-6-10-7-5-5-2-5-1-13 0-2-2-2-4-3-16-2-7-3-7-8-18-26-3-6-2-8 1-22-4-20-1-10 1-10 3-8 3-4 5-6 15-10 7-3 7 1 20 8 10 1 10-1 20-7 23-2 45-7 8 0 22 2 28-3 10 0 40 3 34-2 28-3 8 0 20 3 10 0 17-3 7 0 8 3 10 8 18 7 4 3 5 8 3 12 2 12 1 28 2 8 3 7 7 14 2 9 0 7-3 20 0 7 2 13 8 23 1 10 0 7-4 17 0 8 2 25-5 20 1 7 5 16 0 7-1 10-2 13-1 4-3 6-7 5-17 7-3 3-2 5 0 4 1 6 9 14 4 10 1 6 0 7-3 9-5 8-10 11-5 7-12 23-6 8-7 7-10 7M648 1113l-6 1-2 0-10-12-5-3-5 0-8 5-4 3-6 0-4-1-7-4-3-5-6-10-6-5-6-2-8-2-22-4-5-2-5-4-4-6-11-19-13-14-4-7-7-12-5-18-4-5-7-7-11-8-14-8-8-6-7-9-25-33-5-5-9-7-1-2 0-2 5-13 1-7 0-6-2-4-3-3-4-1-17-2-7-1-6-2-5-4-3-3-2-4-1-18-1-5-3-5-2-3-5-4-12-4-8-6-5-6-9-17-14-11-4-6-21-33-5-10-1-10 0-20-5-28 1-7 1-7 2-6 2-4 6-6 14-13 6-3 4-2 8-1 5 2 15 8 6 2 6 0 10-2 13-6 5-2 25 0 45-6 8 0 22 3 8 0 20-3 10 0 30 2 10 1 34-3 28-4 8 0 14 3 8 0 8 0 22-4 5 1 5 2 15 9 15 6 5 3 2 3 5 10 3 14 2 13 1 23 2 7 3 7 7 14 2 9 0 10-3 20 0 7 2 13 6 23 2 10-1 7-3 17-1 8 4 25-1 5-3 15 0 5 4 12 0 6-1 30-3 10-4 8-5 5-12 9-2 5 0 5 5 18 3 12-1 10-3 10-5 8-12 13-6 7-4 8-7 16-5 8-6 5-9 7-13 9M635 1140l-5-1-3-2-2-5-2-12-1-3-2-2-3-1-17 0-6-2-12-5-4-1-3 0-10 3-5-1-2-2-3-4-7-12-6-6-10-5-4-5-4-4-6-13-6-7-12-11-5-5-5-9-10-23-4-5-14-10-17-18-5-6-18-24-12-14-8-6-14-6-6-4-2-5 0-4 1-6 6-12 0-2 0-3-5-3-20-8-11-6-6-8-4-15-3-5-18-8-9-7-7-7-2-6-6-14-11-17-11-21-12-18-4-10-1-7 0-25-5-28 1-7 1-7 3-8 4-8 7-5 14-13 10-5 6-1 4 1 8 2 12 8 8 2 8-2 3-1 9-8 2-1 6-1 17 3 7 1 48-6 8 0 22 4 8-1 17-3 10-1 10 1 20 3 10 1 40-4 27-5 8 0 15 4 7 0 8-1 18-3 4 0 9 1 17 10 14 5 4 3 4 4 5 11 5 20 2 10 1 20 1 7 3 8 7 12 1 6 1 4 0 10-3 20 0 10 2 13 6 23 1 10 0 7-4 15 0 8 0 7 4 15 1 8-3 17 3 23-3 34-1 8-4 8-5 8-8 9-2 5 0 8 3 17 0 10-1 10-4 10-6 9-12 12-5 6-3 8-5 15-5 8-7 7-20 15-7 7-8 13-5 3M222 757l-2 0-2-3-1-2 0-5 1-5 2-4 2 0 3 2 1 2 1 5-2 7-3 3M755 1412l-5 2-8 0-7-2-3-2 5-3 3-1 10 0 4 1 4 3-2 2-1 0M885 1415l-5 1-8-1-5-3-1-2 4-3 2 0 9 0 6 3 1 2-1 2-2 1M635 1147l-7 1-8-4-3-4-5-13-2-3-5-2-13-3-7-1-15 3-5 0-5-2-7-5-5-7-8-13-15-14-10-18-4-5-5-5-11-8-5-5-5-7-6-12-4-6-5-5-8-5-4-4-10-16-11-14-12-20-7-11-8-7-5-4-5-3-15-6-5-3-4-4-4-5-1-5 0-5 2-13-1-4-3-3-23-15-5-5-11-15-5-4-22-14-6-4-4-6-4-7-5-17-12-30-4-8-10-15-4-10-2-13 0-24-5-23 1-7 1-8 2-8 4-7 4-5 6-7 15-12 10-5 10-2 9 1 16 7 5 0 15-9 7-2 8 1 15 4 7 1 33-2 17-2 8 0 15 3 7 0 10-1 13-3 7-1 10 1 23 4 13 1 39-5 10-2 11-4 7-1 5 1 15 5 7 0 10 0 18-4 5 0 5 1 6 2 12 6 17 7 5 4 3 3 3 5 3 7 5 20 2 13 1 20 2 7 2 6 7 12 2 10 0 8-2 22 0 10 1 10 6 25 1 13-1 7-3 17-1 8 1 8 6 17 1 7-1 13 0 17-2 20-2 23-1 7-3 8-5 9-7 11-1 5-1 7 2 18 0 10-2 8-4 10-4 7-14 15-4 5-3 7-4 16-2 4-3 6-6 5-17 11-5 4-6 7-10 15-4 3-5 2M222 768l-2 0-2-3-3-8-2-10 1-7 2-6 2-3 2-2 2-1 3 1 4 5 2 6 1 4-1 6-2 7-4 8-3 3M758 1417l-13 1-25-2-35 1-15-3-6-2-3-2 1-3 3-1 4-2 9-1 12 0 30 1 25-2 7 0 11 2 6 3 2 3 0 2-4 2-9 3M885 1420l-8 0-10-3-9-5-2-2 2-3 10-3 10-1 7 1 7 3 3 3 2 2-1 2-3 3-8 3M638 1152l-6 1-7 0-6-1-6-2-6-6-5-8-2-4-5-3-7-1-16 0-7 0-7-3-8-5-6-8-11-15-13-15-8-15-4-5-5-5-11-8-4-4-6-6-10-17-4-4-11-8-5-5-9-18-12-17-8-16-7-10-6-5-8-6-17-8-5-3-7-5-4-5-3-5-2-5 0-15-1-5-2-2-5-6-16-11-12-14-5-5-25-14-8-7-5-7-4-9-16-47-3-6-8-12-5-10-3-15 0-20-1-9-3-7-2-4-2-1-3 4-2 7-3 27 1 8 5 15 1 7-3 10-8 20-3 10-1 10 2 36-1 10-1 4-2 3-2-2-3-13 0-15 0-7 4-18 0-5-7-27-1-13 1-10 5-15 1-8-2-24 0-13 2-8 2-6 2-2 3-1 3 1 7 3 3 0 2-3 9-21 5-8 8-10 12-10 11-6 10-4 10 0 15 2 5 0 5 0 15-5 7-1 8 1 15 4 7 1 33-1 20-2 25 4 8-1 17-6 7-1 10 2 21 5 7 1 8 0 37-5 7-2 15-6 8-1 7 1 13 6 7 2 8-1 22-4 10 1 18 8 15 6 7 4 4 6 4 7 3 7 6 20 2 10 0 20 2 8 1 5 8 15 2 8 0 7-2 20 0 10 1 7 5 28 2 18-1 10-3 14-1 8 2 8 7 17 1 13 0 17-5 27-2 26-3 12-11 22-2 6 0 7 1 23-3 12-3 8-5 8-13 16-3 6-3 7-4 13-3 7-4 5-4 6-7 4-12 8-7 4-4 6-7 12-3 4-6 4-4 2M760 1420l-12 0-28-1-30 1-10-1-16-2-9-3-7-2-3-2 1-3 5-3 10-2 9-1 15-1 35 1 25-2 10 1 12 2 17 5 3 3-2 2-5 2-8 3-12 3M885 1422l-7 0-8-1-25-8-25-1-8-2 2-3 8-3 8 0 18 1 17-4 10-1 10 2 9 2 10 6 1 2-1 2-2 3-4 2-8 3-5 0M945 1410l-3 0-2 0 2-1 4 1-1 0M638 1157l-8 2-8-1-9-1-8-3-5-3-10-10-5-3-5-2-18-4-4-1-7-4-6-6-15-19-12-15-13-21-4-4-16-13-6-7-13-18-17-14-4-7-7-13-12-18-8-15-6-7-5-6-6-4-23-14-8-6-6-6-3-4-3-6-1-4-2-13-2-5-1-2-17-15-15-15-8-5-19-11-8-7-6-10-8-15-13-40-6-8-4-3-3 0-3 2-2 3-5 9-3 9-3 10-1 13-1 15 0 25 0 7-2 7-3 5-2 2-2-2-3-6-3-13 0-23 2-30-1-7-4-20 0-10 0-10 4-20-1-30 1-13 1-10 3-7 3-5 5-1 7 0 6-2 2-3 15-23 7-9 7-4 13-7 13-4 7-1 23 0 17-4 8-1 10 1 15 4 7 1 33 0 20-2 23 2 7-1 17-6 8-1 10 1 22 7 10 2 8-1 15-3 20-3 20-7 10-2 7 1 16 7 7 2 7 0 20-4 8 0 5 1 33 13 7 6 5 6 7 13 6 17 3 13 0 22 1 8 3 7 6 13 2 7 0 7-2 20 0 10 6 28 2 28-1 10-3 14 0 8 2 8 7 14 2 8 1 12-1 13-7 27-1 23-1 7-3 10-9 23-2 7-1 8 1 15-1 7-1 8-3 8-7 12-15 20-8 22-6 10-5 6-4 4-20 13-6 6-9 14-5 5-6 4-4 1M898 1423l-8 1-10 0-10-1-18-5-7-1-43-1-10 1-24 4-13 2-37-1-33 0-17-1-48-8-3-1-4-2 4-3 9-3 39-6 17-1 38 1 25-1 13 1 30 4 10 1 27-3 23 1 20-3 10 0 10 2 20 5 7 2 7-1 16-3 7 0 8 1 5 3 3 3 0 2-2 2-7 3-10 0-14-2-8 0-5 1-17 7M640 1163l-10 1-12 0-10-1-8-2-7-4-8-8-6-5-7-3-12-3-8-3-4-3-6-5-7-7-23-30-12-20-20-18-18-22-17-18-13-20-12-15-10-17-5-6-11-10-24-17-13-13-6-10-5-17-5-7-26-26-7-4-17-8-3-3-6-5-7-10-9-17-14-31-2-4-2-2-3-1-3 1-3 4-3 8-2 8-3 20-1 32-2 12-6 14-2 3-2-1-6-14-2-16-1-26 1-30-4-37 0-10 3-20 0-30 2-25 2-10 2-4 3-4 4-3 10-2 6-3 4-6 10-16 8-7 12-6 20-7 10-1 20-2 26-4 10 0 17 4 7 2 33-1 20-2 20 2 7-1 18-7 8-1 10 2 24 7 10 1 20-4 23-2 20-6 10-1 10 1 15 6 8 2 7-1 20-3 7 0 6 1 32 13 8 5 6 8 11 20 5 12 2 13 0 20 1 7 2 8 6 15 2 7 0 8-2 25 1 7 5 20 1 10 1 30-1 26 1 7 6 15 3 9 1 13-1 13-2 7-4 16-2 7-1 23-1 7-12 37-2 10 0 23-2 7-3 8-7 12-15 20-9 25-7 11-10 10-19 12-4 5-9 13-7 6-5 4-7 3M220 1015l-2 0-3-7-2-11 1-13 4-7 2 1 2 4 2 10-1 12-1 4-2 7M902 1425l-12 2-10 0-10-1-22-5-13-1-40 1-27 3-13 1-73 0-42-5-40-3-10-3-5-2-2-2 1-3 6-3 35-5 35-3 22-1 38 1 25-2 50 4 30-1 25 0 25-1 10 0 20 5 7 0 8 0 18-2 7 0 6 1 9 2 10 5 2 3 1 2-2 2-3 3-8 3-12 1-26-1-7 1-13 4M635 1170l-27 1-8-1-5-2-7-5-8-9-6-4-6-4-18-6-6-3-6-5-8-9-11-16-24-32-20-21-18-22-15-15-15-23-19-20-15-20-7-7-26-22-8-8-6-10-10-20-5-7-19-18-7-5-17-9-6-4-4-5-8-9-20-37-2-3-3-1-3 1-2 3-3 9-2 12-2 33-7 25-1 10-1 35-2 43 4 24 1 16-3 30-2 32-2 17-2 6-3-9-1-9-1-17 0-26-3-27 1-10 3-23-2-27 0-35 1-22-1-10-4-20-1-16-1-20 1-32-4-35 1-10 2-23-1-24 1-18 1-12 2-10 3-8 3-6 5-5 12-8 12-16 6-5 10-4 35-10 25-3 30-5 10 0 15 4 7 1 30 0 20-2 20 1 8-1 19-6 9-1 7 1 23 7 12 1 42-4 23-5 13-1 7 0 17 6 8 1 8 0 20-4 7 1 7 1 23 8 10 5 7 6 7 8 14 23 5 12 1 10 0 22 0 8 2 8 6 14 2 8 0 8-2 17 0 10 6 30 3 60 8 30 1 17 0 10-1 8-6 20-1 8-1 27-2 7-6 18-5 15-1 10-1 20-2 10-3 7-8 13-16 23-8 20-4 7-3 5-7 7-22 18-16 17-7 7-5 4-5 2-10 3M905 1427l-13 2-12 0-10-1-22-4-13-1-37 1-40 4-76 0-42-5-48-3-14-4-9-4-2-2 0-3 3-3 2-1 8-2 8-2 17-1 25-3 38-3 17 0 33 1 27-1 50 3 27-1 28 0 25-1 37 5 26-3 7 1 13 2 24 6 6 3 2 3-1 2-8 5-11 5-8 1-12 2-28-1-17 3M630 1177l-25 2-7-1-6-1-4-3-6-3-10-11-4-4-6-3-17-6-7-5-7-5-6-7-11-18-5-8-37-43-17-22-19-19-14-20-7-8-18-15-4-5-8-12-5-8-26-25-9-10-7-10-10-17-7-8-9-9-7-6-23-14-7-6-7-7-16-24-4-5-3 0-3 2-2 7-4 27-5 23-2 12-3 75 3 27 1 13-2 33-2 34-2 38-1 10-3 5-2 1-3-2-3-7 0-7-3-40 0-38-1-30 1-27-1-27 1-63-5-45-1-20 1-28-3-32 0-12 1-26 1-34 1-20 2-13 3-13 6-13 9-17 6-6 8-4 12-4 22-3 26-6 24-3 30-6 8 1 15 3 7 0 46-2 24 2 8-1 20-5 8-1 10 1 20 6 10 1 17-2 25-1 25-4 10-1 10 0 20 5 7 1 8-1 15-4 7-1 8 1 8 2 12 4 12 6 8 4 8 6 8 10 14 24 5 14 2 12-1 20 0 8 2 7 6 15 2 8 0 7-2 17-1 10 6 28 2 28 2 17 1 13 7 32 4 35-1 10-5 17-1 8 0 8 2 14 0 8-2 5-10 17-7 16-2 12 0 20-3 10-10 18-16 22-4 8-6 14-4 8-9 10-25 21-17 17-10 9-5 3-5 3-5 1-10 1M888 1432l-13-1-25-4-15-1-35 1-42 3-78 0-38-3-42-2-12-1-13-3-24-7-6-2-2-2 0-3 4-3 7-2 18-5 10-2 23-1 25-2 38-2 50 0 27-1 47 3 30-1 26 1 27-2 37 4 33-2 10 2 25 4 32 4 7 2 3 3 1 3-1 2-4 3-23 4-30 8-13 1-30-1-24 4-10 1M620 1190l-10 1-8 0-10-3-10-4-10-6-12-11-22-12-13-10-8-11-12-22-5-6-12-12-8-8-31-42-19-20-18-22-7-6-15-11-5-4-4-7-5-12-5-8-33-34-26-33-13-13-27-17-17-18-5-4-2 1-3 3-3 5-7 23-3 13-1 14-1 60 2 33 0 13-4 107-2 13-4 11-2 4-2 1-3-3-3-5-2-8-2-10-1-10-1-46 0-32-1-25 1-30-1-27 1-66-5-44-1-18 1-30-3-30-1-15 1-23 0-32 2-28 2-12 4-18 9-27 5-11 4-4 6-2 40-2 25-6 33-3 20-5 7-1 27 4 38-2 30 1 10-1 20-3 10-1 8 1 17 5 7 1 23-1 20 0 10-1 23-4 10-1 10 1 17 3 7 1 8-2 15-5 10-1 7 1 10 2 10 4 13 6 17 10 7 6 5 7 5 8 3 9 8 20 3 11 1 10 0 18 0 7 2 7 7 18 2 8 0 7-3 17 0 10 6 26 2 27 5 27 7 26 8 32 3 8 10 12 2 4 0 4-2 4-9 10-4 8 0 5 0 17-1 6-3 7-5 7-14 18-5 7-2 5-2 10 1 20-3 10-10 18-18 25-4 7-4 13-4 7-10 10-28 25-26 24-7 6-5 3-8 3-22 5M895 1435l-17 0-30-4-13-1-30 1-45 2-40 0-32 1-46-3-47-2-17-2-40-7-8-3-5-3-2-2-1-2 1-3 2-3 4-2 6-2 43-8 27-1 25-3 38-2 47 1 30-1 45 2 30-1 28 1 27-1 37 3 26-1 10 0 27 4 30 2 15 2 8 3 5 2 3 2 2 3 0 3 0 2-2 2-2 3-6 3-8 2-22 2-36 7-12 0-25 0-30 4M625 1202l-10 2-7-1-10-2-13-5-15-8-25-16-13-9-7-6-5-5-6-8-12-21-3-6-7-6-13-11-7-8-11-15-12-20-8-10-20-20-16-20-7-7-16-10-5-6-4-7-9-17-10-13-35-37-14-18-7-8-8-6-18-12-14-12-6-3-2 0-2 1-3 2-5 9-3 9-2 12-2 70 2 33 0 15-4 110-4 28-2 20-2 10-3 5-2 2-3-3-3-8-2-24-4-25-2-15-2-105 1-30-1-27 1-66-4-44-1-18 0-30-4-32-1-16 1-50 2-32 2-15 4-20 10-35 3-7 5-6 2-1 6 0 14 2 16-1 10-1 24-7 13-1 23 0 7-1 13-4 7 0 7 0 13 3 7 1 30-1 40 0 38-4 10 1 22 4 26 0 17 1 10-1 23-4 10-1 10 0 17 3 7 0 23-6 13-1 10 1 10 2 12 4 12 5 10 6 7 4 6 6 5 7 5 9 3 8 11 38 2 10 0 17 1 10 2 7 7 18 2 8 0 10-2 17 1 7 7 26 3 22 5 15 3 17 2 8 3 3 5 4 5 1 7 0 8-2 5-2 14-9 6-1 5 2 12 6 20 6 5 2 5 5 1 5 0 2-2 3-11 7-3 6 1 3 2 5 12 9 10 12 4 5 1 6 0 7-3 7-5 6-7 4-4 1-3 0-5-1-2-2-6-4-12-14-8-5-4-2-6 0-4 1-6 3-4 6-7 10-3 7-5 13-4 7-17 26-17 19-5 8-2 5-1 5 0 20-3 10-9 17-17 26-10 22-5 8-10 10-33 26-30 29-8 5-10 6-10 4-7 2M900 1437l-20 1-32-4-18-1-22 1-46 2-40 0-34 1-40-3-58-2-40-5-25-5-8-2-5-3-4-3-1-2 0-2 2-3 6-5 10-5 10-3 30-4 15-2 22 0 30-3 46-2 37 1 30-1 40 2 33-1 27 1 27-1 40 3 36-1 30 3 30 2 14 2 10 3 10 4 4 2 3 2 1 3 1 3-1 2-5 5-7 5-10 3-30 4-33 5-13 0-27 0-25 3M618 1215l-10-1-8-1-8-2-12-6-38-21-10-7-10-9-7-8-6-8-12-22-5-7-4-5-15-11-7-7-16-20-15-26-20-20-17-22-8-8-13-10-7-7-5-7-11-20-16-21-8-8-17-17-15-17-7-7-31-24-8-4-2 0-2 1-3 2-3 4-2 8-2 16-3 61 2 33 0 17-3 106-5 54-3 16-4 10-2 4-2 1-3-2-3-3-2-7-2-11-2-30-4-35-2-57 0-176-5-60-1-32-4-35-1-17 0-43 3-43 2-17 3-15 9-35 4-10 4-5 4-3 2-1 5-1 17 3 10 0 8-1 20-6 12-2 13-1 23 1 7-1 13-4 7 0 27 4 80 0 36-3 7 0 23 4 40 1 10-1 27-5 10-1 17 3 8 0 25-5 15 0 12 0 10 2 23 7 15 7 10 8 7 10 7 15 3 10 10 40 1 25 1 7 3 8 7 18 2 7 1 7 0 20 1 8 15 36 4 9 8 7 8 5 20 4 24 8 8 1 5 0 17-3 6 0 4 2 10 5 20 13 20 11 6 4 4 6 3 7 1 15 0 18-3 17-3 8-9 9-4 6-6 20-6 7-10 7-10 4-7 0-18 0-25 1-17-1-10 4-16 3-7 4-7 7-10 12-12 12-3 4-3 8-3 18-6 14-8 16-15 26-10 18-8 11-12 12-35 27-23 23-8 7-17 11-10 6-7 2-10 2M905 1440l-13 0-12 0-35-3-17-1-66 3-40 0-34 0-40-2-63-2-37-4-38-7-10-3-7-4-3-3-1-2 0-2 1-3 3-3 11-4 16-6 15-4 43-5 24-1 30-2 46-1 34 0 33-1 37 2 33-1 30 1 27-1 38 3 35-1 30 3 30 1 20 2 21 5 9 4 8 4 3 2 2 3 0 3-1 2-7 5-18 9-12 4-32 3-33 4-15 1-25 0-20 2M615 1230l-10 0-10-1-10-3-10-3-12-6-23-14-8-5-4-4-23-27-21-33-4-4-19-16-20-22-8-10-11-18-20-22-16-22-18-19-8-9-9-12-14-23-8-10-7-7-20-17-17-21-8-8-17-13-5-3-3-1-2 0-2 2-3 5-3 10-1 13-2 45 2 52-3 108-4 58-4 25-6 27-2 5-2 4-2 0-3-4-5-14-4-16-3-13-1-12-4-62-1-53 0-87-1-98-7-60-2-28-7-42-1-20 0-28 3-32 1-28 3-22 7-28 7-17 4-7 5-8 3-4 6-4 2-1 5-1 15 3 8 0 54-9 28-1 20-2 10 1 22 3 40 0 48 1 25-3 10-1 23 3 10 1 17-1 20 0 35-4 28 1 24-2 23-1 10 1 10 1 13 3 20 6 10 5 10 7 8 10 8 13 5 17 9 43 2 27 2 10 14 28 1 8 2 14 2 8 5 8 18 24 4 4 4 3 8 3 8 1 7 0 15-8 5-2 10-1 7 0 8 2 29 8 9 5 10 6 10 8 7 6 13 14 21 27 2 4 2 6 1 22 5 20 0 8-1 7-4 13-4 10-5 7-13 15-7 12-3 3-6 5-25 12-8 6-18 15-8 5-9 3-13 4-13 1-30-3-10 0-7 1-5 3-5 5-13 13-10 12-7 13-12 28-4 7-26 33-15 16-34 28-20 20-9 8-37 21-13 5-10 2M900 1445l-20 0-55-4-60 3-40-1-40 1-33-2-64-1-30-2-50-7-18-4-9-4-9-4-6-6-1-2 0-2 2-6 3-2 10-5 12-4 38-8 45-5 27-1 33-2 45-1 32 1 33-1 37 1 33-1 27 1 28 0 40 2 35-1 30 2 35 1 30 5 30 7 8 3 6 4 4 3 2 4 0 3-2 4-5 6-5 2-8 3-35 10-10 1-25 2-32 3-43 2-25 2M220 1294l-2 0-3-1-3-4-4-9-3-13-3-17-8-70-3-73-1-55-1-128-2-54-5-24-7-24-7-18-10-17-3-7-2-8-3-35 1-33 6-52 1-10-2-18 0-4 2-8 11-28 12-22 24-40 5-6 5-4 3-1 4 0 16 4 10 1 27-2 30-5 25-2 10 1 18 3 10 1 24-1 63 2 25 0 28-2 24 2 33-4 30 1 30-1 33 0 40-4 10 1 10 3 32 12 12 6 13 11 12 14 9 15 7 17 16 43 7 37 4 8 5 6 5 3 7 3 25 8 23 8 13 2 20-1 7 0 5 2 32 14 6 3 5 4 18 20 19 16 16 22 15 15 6 7 17 48 3 12 1 20-1 13-1 10-2 7-6 13-2 7 0 8 1 18 0 7-2 7-5 7-20 14-14 12-11 10-14 15-9 8-34 25-13 7-10 4-7 2-8 0-10-3-8 0-14 1-18 2-12 4-17 10-16 8-13 10-30 28-23 24-27 22-28 28-19 17-7 5-8 4-22 9-20 9-13 3-7 0-10-1-48-17-8-4-7-5-21-18-9-10-21-27-20-27-26-26-18-22-20-25-30-35-22-31-21-24-19-25-20-21-23-24-5-5-2-1-3 0-3 3-2 7-3 26 0 67-2 103-3 55-5 60-3 22-4 20-5 13-3 4-2 3M915 1452l-30 1-65-2-58 1-37 0-35 0-38-1-62-1-40-2-52-6-20-4-23-5-10-4-10-7-4-5-1-5 0-2 1-6 4-4 10-7 17-7 23-5 53-7 32-3 35-1 30-2 53 0 177 0 40 1 40 0 67 3 50 6 23 5 17 4 15 5 8 4 7 6 2 5 0 5-2 2-2 3-5 4-27 12-18 5-52 8-76 5-37 1"/>
</g></g>
<clipPath id="c2"><rect x="206.0" y="22.0" width="122.5" height="122.4"/></clipPath>
<g clip-path="url(#c2)"><g transform="scale(0.1)" fill="none" stroke="#5cc06e" stroke-width="5.5" stroke-opacity="1">
<path d="M2348 671l-6 1-4-1-16-8-4-2-6 0-10 3-7 1-13-2-7-2-5-2-4-4 0-3 0-2 2-2 3-3 7-3 7-1 10 1 20 7 5-1 12-4 8-1 5 0 7 1 9 4 3 2 1 2-1 3-3 5-5 5-4 3-4 3M2415 673l-5 1-2-1-3-1-3-2-2-2-2-6 1-2 1-2 4-3 6-1 6 1 5 3 2 2 1 2-1 3-2 5-6 3M2468 680l-8-1-5-3-4-4-3-4 0-3 1-3 2-2 7-2 7 1 7 2 6 4 1 3 0 2-2 5-5 4-4 1M2348 678l-6 0-4-1-16-7-4-1-6-1-12 1-8 0-19-4-13-5-3-2-1-3 0-3 4-4 7-6 11-3 10-2 7 1 20 5 7-1 18-3 14 1 10 2 6 3 4 3 6 4 0 3-10 6-18 14-4 3M2470 688l-5 0-7-3-16-9-4-3-6 1-10 4-7 2-7 0-6-1-4-4-4-3-11-17 5-3 8-2 9-2 7 0 8 1 15 4 15-1 10 0 12 3 8 2 5 3 2 2 2 3 0 5-3 5-6 7-5 4-5 2M2542 673l-10 2-7-2-4-3-2-2 0-6 2-2 3-2 4-3 4-1 13-2 7 0 6 1 2 2 2 3 0 2-1 2-1 3-8 5-10 3M2535 798l-5 0-5-2-3-1-4-3-3-3-1-4 0-5 2-2 4-3 5 0 7 2 6 3 2 4 2 4 0 4-2 4-2 1-3 1M2470 695l-5 0-5-1-15-9-7-4-6 0-17 4-7-1-6-1-4-2-5-3-11-10-4-2-3 0-5 2-5 3-13 11-2 1-5 1-5-1-15-7-7-3-23 0-37-7-18 2-2-2-2-1 0-3 2-2 5-5 10-7 7-6 13-4 7-2 8-1 7 1 20 4 7-1 18-2 12 0 13 2 15 5 8 1 24-1 38 3 32 6 6 2 12 6 2 0 6-2 9-7 5-1 36-5 4 1 5 3 3 2 3 6 0 4 0 3-2 3-3 3-10 4-23 6-7 1-6-1-7-3-10-7-3 0-2 1-5 3-17 17-8 3M2610 665l-5 1-4-1-2-3-1-2 1-2 2-3 4-1 3 0 3 1 2 3 1 2-1 2-3 3M2535 803l-5-1-8-2-5-2-5-6-3-4-1-8 2-5 2-3 3-2 5 0 10 1 8 2 5 5 3 4 1 6 0 7-2 4-3 2-2 1-5 1M2240 783l-2 1-4-2 0-2 1-3 3-1 2 0 1 2 1 2-2 3M2470 703l-5 1-5-1-2-1-11-10-5-3-4-2-8 0-18 1-7-1-5-2-6-3-12-8-4-2-6 0-4 2-4 4-9 9-3 2-4 2-6-2-14-8-8-3-8-1-14-1-28-5-12-1-16 5-7 0-5-2-2-2-2-3 0-3 2-5 5-5 21-13 8-3 10-3 8-2 8-1 7 1 20 3 7 0 18-2 12 0 10 1 20 5 8 1 22 0 33 1 27 5 28 4 5 0 15-5 18-1 17-3 5 0 8 2 14 10 3 1 3-1 10-5 7-2 8 2 3 2 4 6 0 4-2 5-6 4-4 2-8 0-10-2-5 0-17 7-16 3-17 5-5 1-10-1-15-6-5 1-8 4-14 14-8 4M2242 734l-2-1-1-3 0-2 1-2 2 1 2 3 0 2-2 2M2240 791l-5-1-3 0-2-2-3-6 1-6 2-6 2-2 6-3 4 1 6 4 2 3 1 5 0 4-2 3-4 4-5 2M2540 805l-8 0-10-2-7-3-5-5-4-7-1-8 1-8 2-3 1-1 3-2 6-1 14 2 8 2 5 4 3 5 2 6 1 6-1 5-2 6-3 2-5 2M2458 719l-3 1-3 0-2-2-2-6-1-7-2-5-4-5-3-2-8-2-18 0-10-2-9-4-11-7-4-2-6 0-4 3-4 3-9 13-3 2-2 1-5-2-16-11-9-4-5-1-17-1-23-6-7 0-8 0-5 1-13 6-7 0-7-3-6-4-1-3 0-5 3-5 4-5 4-4 7-3 23-11 16-4 10-1 7 1 20 3 7 0 18-3 12 1 13 1 20 5 7 0 20 0 33 0 27 6 23 2 7 0 16-4 20-1 22-3 8 2 12 6 5 1 5 0 12-4 8 1 8 4 2 2 3 6 1 4-1 3-3 4-5 4-7 3-23 2-15 4-17 3-15 5-8 2-8-1-17-5-5 0-2 1-6 3-12 15-22 14M2242 751l-2 1 0-2-5-7-3-11-1-4 1-6 3-4 3-2 2 0 2 0 5 4 4 5 3 7 0 6-2 4-10 9M2280 770l-2 2-3 0-5-1-3-1-4-2-1-3 1-10 1-5 3-5 5-3 3-1 3 1 2 2 2 6 1 5 0 7-1 6-2 2M2245 793l-7 1-6-1-2-1-4-4-2-6 0-7 4-9 4-7 8-6 2 0 4 5 13 10 1 2-1 8-3 7-5 5-6 3M2545 806l-7 1-10-1-10-3-8-4-4-7-3-10-1-10 1-4 2-3 5-3 8 0 20 1 4 2 3 2 3 3 3 8 1 6 1 6 0 5-2 5-2 2-4 4M2455 728l-5 1-2-2-3-3-2-6-3-16-2-3-3-3-3-1-4-1-16-1-10-2-8-3-16-8-6 0-4 2-2 3-7 13-4 9-3 3-2-1-9-11-5-6-8-6-8-3-5-1-15 0-20-6-12-2-6 1-4 1-13 7-3 1-4 0-8-2-10-6-3-4 0-4 2-6 5-7 6-5 4-2 17-8 11-4 16-4 10-1 7 1 20 3 7 0 18-3 12 0 13 2 20 4 7 1 53 0 7 1 20 5 13 1 13-1 20-3 20 0 17-3 7 0 6 1 12 5 5 1 5 0 12-3 8 1 5 2 5 4 5 5 1 3 0 4-4 8-4 4-8 4-5 1-17 2-16 4-16 3-18 6-8 2-8-1-14-5-8 0-4 2-3 3-8 13-3 2-12 7-10 8-5 3M2192 689l-2 1-2 0-3-1-3-3-2-4-2-4 0-3 2-2 5-1 5 1 4 2 3 3 1 2-1 2-2 4-3 3M2245 795l-7 1-8-2-5-4-2-2-1-6 0-4 1-8 6-15 1-5 0-5-2-15 0-8 2-4 1-3 4-4 3 0 4 0 6 4 12 15 2 3 3 0 3 0 12-4 2 3 3 11 2 12 0 15-2 5-2 3-5 2-10 1-3 1-10 9-5 3-5 1M2542 808l-7 1-10-2-10-3-6-4-4-5-3-7-2-10 0-10 0-3 2-4 6-2 22 1 11-2 2-3-2-10 0-5 1-4 3-1 3 0 2 0 5 3 3 2 1 2 1 3-3 5-9 8 0 2 6 22 1 8-1 8-2 3-2 3-2 2-6 2M2378 743l-3 0-3 0-2-2-8-11-14-14-11-18-5-6-7-4-9-3-16-1-20-6-12-2-8 2-5 2-13 8-4 1-6-2-16-9-4-3-1-3 1-2 4-8 5-7 4-4 5-4 18-7 14-5 16-3 10-2 7 1 20 3 7 0 18-3 12 0 40 7 53-1 7 1 18 5 12 1 13-1 20-3 23 1 17-3 7-1 6 1 12 5 5 1 5 0 12-2 8 1 6 2 6 5 3 2 3 6 0 4-3 8-7 7-8 4-20 2-18 5-14 2-8 3-12 6-8 2-8-1-14-5-7 0-3 3-2 2-1 5-1 7-14 4-5 3-5 3-12 10-8 3-5-1-3-4-2-5-4-20-4-5-2-2-5-1-15-3-8-2-22-9-5 0-3 0-4 5-5 7-2 7 0 8 1 5 3 7 13 16 1 2-1 3M2190 696l-2 0-3-1-3-3-12-17-2-3-8-5-2-2 0-3 2-1 10 5 21 4 8 2 4 3 1 3-4 7-5 7-5 4M2252 795l-10 2-10-1-3-1-4-3-3-3-1-4-1-5 1-8 5-24-1-23 0-5 2-5 5-7 6-3 2 0 5 3 15 15 5 3 3 0 4-2 13-12 5-2 2 0 2 2-1 3-4 13-1 4 0 8 2 28 0 7-2 5-2 2-4 2-12 3-18 8M2545 809l-5 1-5 0-10-1-10-3-7-5-5-6-2-7-4-18-1-8 2-4 2-2 2-1 6 0 17 2 5-1 2-1 3-3 0-2-1-12 1-6 3-3 4-1 8 2 6 2 8 6 3 2 1 2 0 3-1 3-10 10-3 4 0 6 2 17 0 10-2 5-2 3-2 3-5 3M2542 810l-10 1-10-2-10-3-5-4-4-4-2-6-8-30-1-4 1-3 2-2 3-2 7 0 13 2 4 1 6-1 2-3 1-5-2-7-4-8-3-2-17 0-5-2-10-5-8-1-4 1-6 2-12 11-5 3-7 2-6 0-2-2-1-2-6-27-3-5-2-3-6-2-20-4-20-8-4-1-3 0-5 3-5 7-2 7 0 8 3 8 4 4 12 13 3 5 1 2 0 3-2 3-4 1-5 1-3 0-2-1-2-3-9-14-14-14-11-20-5-6-7-3-7-2-13 1-4-2-8-4-8-3-7-1-7-1-8 2-5 3-15 14-2-1-9-7-7-4-7-4-5 0-2 1-3 2-13 16-2 2-2 0-3-1-3-3-12-17-5-4-10-7-3-4-1-5 1-2 2-3 4-1 2 1 15 9 23 6 7 0 3 0 2-2 12-17 8-5 30-11 18-4 10-1 7 0 20 3 7 0 18-2 12 0 40 6 53-1 7 1 18 4 10 2 12-1 23-4 23 2 22-4 8 1 12 5 5 1 17-2 6 0 4 1 6 3 7 5 4 5 1 5-1 5-3 5-4 5-4 4-6 2-4 2-18 2-35 9-5 2-12 7-10 5-4 2 0 2 1 6 3 3 2 1 15 2 7 3 13 7 5 1 5 0 10-6 3 0 1 1 1 2-4 6-8 5-6 4-11 11-3 4-2 3 0 5 1 18-1 10-2 4-2 3-4 3-6 2M2250 798l-12 0-8-1-6-5-2-2-2-5-1-7 0-8 5-28-1-20 1-4 2-6 4-6 5-5 3-2 2-1 18 20 4 3 6 1 4-3 11-9 7-5 5-2 3 1 1 4 0 2-7 18-2 7 2 37 0 6-2 4-2 4-3 2-13 2-12 5-10 3M2422 758l-2 1-2-1-1-3 1-3 2-1 2-1 4 0 1 2-1 3-4 3M2545 810l-10 1-12-1-11-3-4-2-3-3-4-7-6-21-7-16 0-6 1-2 3-3 6-2 4 0 16 4 4 0 2-1 1-3-2-5-2-2-6-3-10 0-5-2-10-7-5-2-3 0-4 1-6 2-12 11-19 10-8 10-6 4-7 4-5 0-3-1-2-3-2-4 0-6 2-2 4-2 16-8 2-4 2-4 0-7-2-10-2-6-2-4-6-4-42-14-5 1-3 1-3 3-3 8-1 8 2 4 4 8 17 18 4 4 1 3 0 3-2 2-6 2-10 3-5 0-2-1-3-3-8-16-15-17-3-6-4-10-3-4-4-4-6-3-4-1-6 0-7 2-2 3 0 7 0 6-10 22-1 5 0 7 2 36-1 4-2 6-6 3-25 7-18 1-7 0-5-1-5-3-5-5-2-5 0-7 0-23 3-15 0-20 2-8 8-12 0-2 0-3-1-3-5-4-5-3-5-2-5 1-2 1-5 5-8 13-3 3-2 1-2 0-3-2-3-2-7-13-5-7-5-4-10-5-4-4-1-2-2-6 0-4 0-3 2-3 2-1 6 0 4 2 10 7 8 3 18 4 7 0 5-3 12-15 8-5 30-10 18-4 10-1 7 1 20 3 7-1 18-2 12 0 40 6 53-1 7 1 18 4 10 2 12-1 20-4 8 0 18 2 22-4 8 1 12 4 5 1 17-1 6 0 4 1 8 4 6 5 5 5 1 3 0 2-1 5-3 5-6 6-4 5-8 3-20 4-35 9-9 5-5 6-2 2 0 2 1 3 2 3 16 9 7 3 5 1 2-1 10-5 6-1 4 1 3 3-1 4-4 7-5 4-15 10-8 7-2 3-2 7 0 20-1 8-2 4-3 4-2 2-5 2M2269 718l6-4 23-19 0-3-1-2-6-5-4-3-7-2-8-1-4 0-6 1-4 2-8 8-3 5 0 3 1 4 3 6 5 4 4 4 5 2 4 0M2198 751l-6 1-4-2-3-2-1-3 0-3 1-2 3-2 2 0 5 1 3 2 2 4 1 3-1 2-2 1M2450 826l-2-1-1-3 3-1 2 1-1 3-1 1M2548 810l-10 2-16-1-12-4-4-2-2-3-4-7-8-23-8-12-2-5 0-3 0-3 7-9 1-2 0-3-2-3-3-2-5-2-5 2-13 11-15 9-11 10-6 5-10 5-5 2-3 0-2-1-1-1-7-10-2-3-2-2-6 0-4 1-18 4-5 0-3-2-1-3-3-13-2-4-4-6-13-14-9-18-5-5-5-2-2 0-6 1-3 4-4 12-7 12-3 8-1 5 0 7 3 36-2 7-2 5-3 2-5 2-19 6-24 1-7-1-5-1-8-5-2-3-2-3-1-8-2-18-2-10 0-2 4-8 1-4 0-20 2-6 7-12 0-5-1-3-4-3-4-2-6-1-2 1-4 3-3 5-5 12-3 4-3 3-2 0-2 0-3-1-3-3-6-15-6-9-5-4-13-7-4-5-2-5-1-5 0-5 1-3 2-2 2-2 2-1 3 1 7 2 10 8 8 3 12 4 10 0 6-1 2-2 10-13 2-2 6-4 32-10 18-3 10-1 30 3 22-2 12-1 40 6 56-1 7 1 15 4 10 1 12-1 20-4 8 0 18 3 22-3 8 0 17 5 17-1 6 0 4 1 8 4 8 6 4 5 1 3 1 2-2 5-2 5-5 6-7 7-8 3-21 4-31 10-5 2-3 3-3 5 0 2 1 3 2 3 7 4 5 3 6 1 2 0 12-5 8-1 5 1 2 1 1 3 1 3-2 4-5 8-7 6-17 12-7 7-2 7 0 18-1 9-4 6-2 3-4 2M2272 712l15-12 4-5 1-3 0-2-2-2-5-4-7-3-8-1-8 2-4 3-6 7-1 6 0 2 2 5 4 5 3 3 5 2 3 0 4-3M2415 742l10-4 3-3 2-5 1-5-1-7-2-7-3-4-3-3-4-2-33-12-7-1-6 3-3 6-2 7 2 7 4 8 7 7 20 17 2 1 6 0 7-3M2205 753l-5 1-5 1-8-3-3-2-4-5 0-5 1-2 2-3 5-2 2-1 5 2 5 4 6 7 2 5-3 3M2450 830l-2 1-3-1-2-2-1-3 1-3 2-4 3-2 2 0 2 0 3 2 2 4 0 3-2 3-5 2M2542 813l-10 0-12-1-10-3-6-4-5-7-5-18-3-8-3-4-9-8-4-5-1-5 2-8-1-2-23 12-12 10-8 6-14 8-6 2-2 0-3 0-2-3-5-10-2-3-6-2-4 0-6 1-14 5-6 0-2-1-3-3-1-2-1-15-2-7-4-6-14-14-7-16-3-3-5-2-3 1-3 2-5 10-8 12-4 8-1 8 0 7 3 35-1 8-3 4-3 2-4 3-13 5-5 2-32-3-10-2-6-4-4-5-2-8-2-14-2-5-2-4-2-1-13-1-7-2-6-3-3-4-3-6 0-4 2-6 3-7 0-3-7-24-4-8-5-5-14-7-6-6-2-4-1-6 0-4 1-6 2-3 3-2 3-2 4 0 7 3 13 9 7 3 13 3 7 0 7-3 11-14 2-2 6-2 32-10 18-3 10-1 30 3 22-2 12 0 40 5 56-1 7 1 15 4 10 1 10-1 22-4 8 0 18 2 24-2 8 1 15 4 20-2 5 1 5 2 9 5 6 5 4 5 1 3 1 2-2 5-6 10-8 8-8 5-4 2-16 2-9 3-23 9-4 4-1 2 0 2 1 3 2 3 4 2 6 1 2 0 12-4 10-1 6 1 2 2 2 1 0 2 1 3-3 7-8 10-7 6-15 11-6 6-3 7-1 20-3 10-4 6-3 2-8 3M2271 710l7-4 6-6 3-5 1-3 0-2-2-2-3-3-5-3-8 0-4 0-4 2-4 5-4 6 0 3 1 4 3 5 2 2 5 2 6-1M2212 738l2-3 0-3 0-14 2-6 6-10 1-4 0-3-2-3-3-2-3 0-3 0-2 1-2 2-3 4-2 5-1 10-4 10-1 3 3 5 5 5 5 3 2 0M2410 740l5-1 5-3 4-4 2-2 1-5 0-5-2-7-3-4-4-4-4-3-24-9-5-1-5-1-5 2-4 5-2 7 2 7 3 6 8 8 16 11 4 3 8 0M2452 833l-4 1-3 0-3-2-2-2 0-5 1-5 3-5 4-2 4-1 3 2 3 2 2 4 0 5-1 3-7 5M2545 813l-10 1-10 0-13-2-7-3-3-2-2-5-8-22-4-8-8-6-15-9-5 0-5 2-40 23-7 2-3 0-3-2-1-2-3-10-2-2-3-3-3-1-8 1-10 5-4 1-6 0-5-1-4-2-3-6-1-4 2-8 0-5-2-7-4-6-12-12-8-13-3-2-2 0-2 1-3 2-10 12-3 5-3 7-1 13 3 27 1 10-2 8-3 5-5 4-20 9-4 0-13-3-20-3-7-2-8-5-3-5-2-5-3-15-2-5-2-3-3-1-13-2-7-3-5-4-4-4-3-6-1-4 0-6 1-10 1-7-1-10-2-7-2-6-5-4-4-3-12-6-5-4-3-5-1-8-1-4 1-6 3-4 3-3 5-2 5 0 6 2 14 10 7 3 10 3 8 0 4-1 4-2 10-13 7-4 35-9 18-4 10-1 30 4 22-3 12 0 40 5 56-2 7 1 17 5 8 1 10-1 22-5 8 0 18 3 24-3 8 1 15 4 20-1 5 1 5 2 11 6 9 7 3 6 0 2-2 5-4 7-7 9-5 5-5 4-7 4-13 1-8 3-8 4-5 6 1 2 3 1 27 2 3 2 1 3-1 2-4 10-9 12-7 7-18 13-5 5-3 8-2 20-2 7-3 5-3 2-7 4M2273 705l5-3 4-4 2-6 0-2-2-2-4-3-6-1-4 1-6 2-2 3-2 5 0 5 3 5 4 2 5 0 3-2M2414 735l6-4 2-3 1-3 0-5-1-3-1-5-3-3-10-7-18-7-5-1-5 0-2 1-3 2-3 5 0 6 3 7 4 5 11 9 10 6 8 1 6-1M2216 702l1-2 0-2-2-2-3 0-1 2-1 2 0 4 2 1 4-3M2452 835l-4 2-6 0-3-2-2-3 0-2 0-8 3-6 2-4 6-3 4 0 6 3 5 6 1 4 0 3-4 5-8 5M2538 815l-10 0-13-1-7-1-6-2-2-2-2-4-6-19-2-6-2-4-3-3-5-3-10-4-8-1-7 1-25 12-17 10-8 1-5 0-2-2-4-5-2-7-2-3-2-1-6 0-10 4-7 2-7-1-8-3-8-5-3-6 1-4 5-10 1-6-2-4-4-6-15-15-5-3-5 1-5 4-5 6-3 7-1 6 0 7 3 27 1 10-2 10-3 6-2 2-20 12-6 1-4 0-16-7-17-3-7-2-7-3-5-6-3-7-2-13-3-5-6-3-12-4-8-3-5-5-6-7-3-5-1-8 0-7 3-15-1-8-1-4-3-5-3-3-4-3-13-5-6-4-2-6-2-7 0-7 1-6 3-4 5-6 6-2 5 0 7 3 13 9 7 4 10 3 8-1 3 0 4-3 10-13 5-3 38-8 28-4 30 3 22-3 12 0 40 5 58-2 8 1 14 4 8 1 10-1 22-5 8 0 18 4 24-3 8 1 15 4 20-1 10 2 7 4 14 9 3 2 2 6-1 4-2 6-17 22-4 8-1 2 1 2 3 8-1 5-25 30-6 6-16 12-4 5-3 4-1 6-2 14-2 8-4 8-2 2-4 2-5 2-7 1M2273 700l5-5 0-3-1-2-2-1-5-1-2 1-3 2-2 4 0 3 2 3 3 1 2-1 3-1M2413 730l3-2 1-3 1-5-1-2-2-6-5-4-8-6-12-4-8-1-2 1-3 2-2 5 1 5 2 5 5 5 9 7 8 3 8 1 5-1M2445 840l-5 0-4-2-2-3-1-3 1-4 2-10 4-8 5-4 5-1 5 1 5 4 7 8 3 4-1 3-1 3-6 4-10 6-7 2M2275 818l-6 0-17-9-22-5-8-4-4-4-4-4-2-4-3-13-1-3-3-3-5-3-12-5-8-3-7-6-4-4-6-10-2-8 0-5 4-13 1-4-1-6-1-4-2-3-4-4-16-5-4-4-3-3-3-5-1-12 0-7 4-7 5-6 5-3 5-1 8 0 4 2 19 12 7 3 7 1 5-1 5-3 10-12 5-3 20-3 20-4 25-4 7 0 18 2 8 1 22-3 12-1 40 6 33-1 25-2 8 1 14 4 8 1 8-1 20-4 7-1 5 0 18 4 24-2 8 0 15 4 17-1 8 1 8 3 19 11 7 4 2 3 0 3-2 4-14 20-4 8-1 8 2 12-1 5-4 5-12 10-18 20-17 14-5 5-2 3-2 6-3 17-2 7-3 6-2 2-6 4-8 2-10 1-30-1-4-1-2-3-1-2-3-20-4-9-3-3-3-3-4-2-6-1-7 0-10 2-23 8-20 10-10 2-4 0-4-2-4-2-5-6-3-2-2-1-22 1-10-1-6-2-4-3-6-4-3-4-2-6 0-4 2-3 8-10 1-3-1-4-4-6-8-8-5-3-2 0-5 1-3 3-3 5-2 5 0 11 4 19 0 7 0 16-1 7-3 4-3 3-12 7-10 7-5 2M2680 658l-3 0-5-2-3-4-1-2 1-2 2-3 4-2 5 0 4 2 2 3 0 4-1 3-3 2-2 1M2403 725l5-1 1-2 1-2-1-5-3-5-7-5-7-3-7-1-4 1-1 3-1 3 1 2 3 5 5 4 4 3 6 2 5 1M2448 843l-8 0-5-1-4-2-1-2-1-3 3-13 5-14 3-5 2-2 6-2 4 1 6 3 14 13 6 4 2 2-1 3-7 5-17 10-7 3M2445 845l-7 1-6-1-4-3-2-2-1-2 1-6 12-37 0-3-3-2-7 1-18 5-8 2-4 0-6-2-3-1-11-6-6-1-12 0-6 2-6 3-3 0-5-2-15-14-5-3-2 1-2 3-4 17-2 5-2 2-6 4-10 5-14 9-6 1-4-1-18-10-20-5-8-3-5-4-4-6-6-17-4-5-4-2-14-6-8-4-9-8-6-8-4-7-2-7 1-6 4-12 1-5-1-5-2-2-4-4-15-6-5-3-3-3-3-7-2-10 0-7 3-8 4-5 6-5 5-3 5-1 5 0 5 1 22 14 8 2 5 0 3-1 4-2 10-12 3-2 5-1 18-2 20-4 27-4 7 0 18 2 8 1 22-3 10-1 12 1 20 4 10 1 33-2 27-2 8 1 15 4 7 1 8-1 18-4 7-1 7 1 16 3 7 0 17-2 8 1 15 3 20 0 7 1 6 2 34 17 2 3-2 3-16 20-6 10-1 7 3 15-2 5-4 5-16 13-18 19-15 13-5 5-4 8-6 24-5 8-7 5-8 2-10 1-20 0-10 2-14 8-18 6-18 9-7 2M2685 660l-7 1-8-1-9-5-2-3 3-4 8-7 3-1 5-1 4 1 6 4 2 6 0 5-1 3-4 2M2398 718l2-2 1-1-1-3-2-3-3-2-5-1-2 0-2 2 0 2 1 2 3 3 5 2 3 1M2320 750l5-5 2-3 1-2 0-2-1-3-3-5-4-2-2-1-3 0-3 3-3 5 0 5 1 5 2 5 3 2 3-1 2-1M2486 812l3-2 1-2 1-6 0-4-1-6-2-6-6-7-2-1-5-2-7 0-6 2-6 2-7 5-1 3 1 2 21 19 8 4 4 1 4-2M2448 848l-8 0-10 0-7-3-3-3-1-2 0-2 7-18 3-12-1-7-3-2-3-1-17 3-7 1-8-1-15-4-5 1-4 2-6 10-3 2-5 1-4-1-3-1-17-14-3-1-3 0-13 12-17 7-12 8-5 1-5 0-4-2-14-8-4-3-18-4-9-5-6-4-4-6-6-14-3-6-4-2-20-10-8-5-8-7-7-10-4-8 0-5 1-5 4-10 1-5-1-3-1-2-3-2-12-5-5-3-3-2-3-6-4-9-1-11 0-7 3-5 4-5 7-6 7-4 5-1 5 0 5 1 22 12 6 2 4 0 6-1 2-1 10-11 6-4 22-1 20-3 30-4 30 2 22-2 12-1 10 1 20 3 10 1 36-1 24-3 8 1 15 4 7 1 10-2 18-3 8-1 22 5 22-2 8 0 15 3 23 0 10 3 17 9 13 3 7 0 15-7 8-2 7 2 5 4 3 6 1 4-1 6-3 4-5 2-5 1-5 0-15-2-5 1-7 5-8 8-5 8-1 5 0 5 2 13-1 4-2 6-5 4-16 12-20 21-14 13-5 4-4 8-5 22-3 6-4 4-5 3-7 3-27 3-9 1-20 10-19 6-15 7-7 3M2485 805l2-5 0-5-2-6-3-4-2-2-5-1-5 0-5 3-2 3 0 4 2 6 4 4 3 3 6 2 4 0 3-2M2450 851l-12 1-13-1-10-3-4-3-3-3-1-2 0-2 1-3 10-10 3-7 0-6-1-2-2-2-3-1-30 0-5 1-5 2-10 10-5 3-5 1-5 0-8-2-17-9-7 0-18 4-6 3-12 7-7 2-5-1-5-2-17-12-20-6-8-3-6-5-4-5-8-15-3-5-4-3-20-10-11-7-8-7-10-13-3-5-1-5 1-5 3-10-1-5-2-3-11-7-4-5-4-8-3-7-1-7-1-8 1-5 2-5 4-5 9-7 7-5 8-2 5 0 5 1 5 2 15 8 5 1 5 1 5-2 13-10 7-3 23 0 47-6 7-1 18 3 8 0 30-4 12 1 22 3 10 1 36-2 27-3 7 1 16 4 7 0 7 0 18-4 8-1 4 1 18 4 25-1 20 2 23 1 10 2 17 8 10 2 10-1 17-6 8 0 8 2 6 5 3 5 2 7-1 8-3 5-4 3-6 1-7 1-16-1-4 1-6 2-6 6-4 4-2 6 0 4 2 10 0 6-1 4-3 6-7 7-19 12-20 21-15 14-3 6-3 4-6 23-5 7-5 4-7 3-23 4-10 3-23 10-22 6-20 9M2445 855l-13 0-12-1-25-6-5-3-2-3-2-2 0-2 1-3 2-3 6-4 4-6 0-2-4-2-5 0-5 1-3 1-10 9-7 3-7 2-10 0-13-2-7-2-13-6-7-2-6 1-4 1-16 8-7 1-5-1-5-2-20-13-17-6-10-5-6-4-4-4-3-6-5-10-5-5-6-5-21-11-8-4-13-12-8-10-3-7-1-16-1-4-2-6-10-14-3-8-3-8-1-7 1-7 1-6 2-4 5-6 9-7 9-5 8-2 5 0 5 0 18 8 7 1 5 0 15-9 7-3 26 1 50-5 30 2 30-4 12 1 20 3 10 1 40-3 25-3 7 0 16 4 7 1 10-1 17-3 8 0 22 4 23-1 23 2 20 1 10 2 17 7 7 1 10-1 18-4 10-1 5 1 5 2 7 6 5 7 1 7 0 10-2 6-3 3-6 1-30 4-4 2-6 3-2 4-2 5 1 12-1 6-2 4-3 6-8 8-17 11-6 4-17 19-15 15-4 5-2 5-6 17-2 6-6 7-5 3-5 2-27 8-33 14-18 5-17 6-10 2M2460 858l-12 2-23 0-35-5-8-2-17-6-40-7-5-2-10-5-5-1-5 0-15 6-5 0-5 0-10-3-23-15-17-7-7-4-7-4-5-5-4-5-7-11-5-5-9-7-19-8-7-5-13-11-9-10-3-9-1-14-2-7-11-23-4-13-1-7 0-7 1-6 2-4 7-8 10-8 11-5 10-3 9 1 17 5 4 0 8-1 15-7 7-1 26 2 52-5 20 2 8 0 22-3 10-1 10 1 22 3 10 1 38-3 20-4 8-1 7 1 15 4 8 1 7 0 17-3 8-1 25 5 20-1 23 1 20 0 10 3 17 5 7 2 10-1 20-4 10 0 8 2 5 2 5 3 5 6 3 4 1 10 0 13-1 5-2 2-2 3-4 2-25 4-7 2-6 4-3 5-3 16-5 7-6 7-6 6-19 12-6 5-30 33-7 10-8 20-3 4-4 5-7 4-23 8-20 10-22 8-30 11M2460 865l-8 1-32-1-20-3-18 0-11-2-33-9-8-1-15 2-5 0-12-5-20-3-10-3-10-5-18-12-22-11-15-11-5-4-10-13-5-5-8-5-17-8-8-5-13-12-9-10-2-5-1-5-2-15-2-7-12-26-3-10-1-7 1-7 2-8 2-5 8-8 12-8 12-6 10-2 8 0 20 3 5 0 15-5 8-2 7 0 23 2 50-3 27 1 7-1 18-3 8 0 12 0 20 4 10 0 40-3 20-4 8-1 7 1 15 4 8 1 7 0 17-3 8-1 8 1 12 3 8 1 20-1 20 1 20 0 10 1 17 5 10 1 10 0 20-2 7 0 10 1 18 7 15-1 5 2 2 2 0 3-2 3-8 5-4 7-1 5-2 15-3 8-3 2-4 2-5 2-18 2-4 2-6 4-2 3-7 15-6 8-15 12-18 12-7 6-31 34-6 9-8 19-3 5-4 4-7 5-23 8-16 10-19 7-30 13-10 3M2460 873l-8 0-17-3-20 1-17-2-20 1-8-1-8-1-17-6-7-1-8 1-10 4-8 1-7-3-15-9-20-8-12-6-18-11-25-14-18-14-20-20-7-4-17-8-7-5-16-15-6-8-3-4-1-6-3-17-3-10-4-10-8-15-3-8 0-7 2-10 2-7 3-6 7-7 12-8 15-7 12-3 8 0 20 2 20-5 10-1 28 3 52-4 25 2 23-4 7-1 13 0 22 4 10 0 20-2 20-2 20-4 8 0 7 0 17 5 8 1 8 0 17-3 7 0 26 3 22 0 40 0 30 5 10 2 32-2 26 4 17-1 7 1 5 2 13 8 6 5 2 3 0 3-3 4-3 2-4 2-13 3-5 2-2 2-4 6-4 16-2 4-3 2-7 5-18 4-8 3-4 5-9 11-8 8-16 13-20 14-7 5-16 20-14 17-6 8-7 15-4 6-5 4-6 4-20 9-18 12-22 8-30 15-10 3M2462 881l-10 0-17-2-20 0-20-3-25 3-8-1-12-4-8-1-4 0-16 4-7 0-10-4-23-14-33-17-29-18-27-19-21-19-6-4-14-6-7-5-19-19-7-7-4-10-5-24-5-12-7-11-6-3-7-4-2-3 1-6 6-8 7-16 4-8 5-5 4-4 10-6 18-8 14-3 28 0 20-4 8-1 30 3 32-2 20-1 22 1 8-1 18-4 7 0 10 0 23 3 10 1 42-4 20-4 8-1 10 1 17 5 7 1 30-3 28 3 55-2 15 2 35 5 30-1 20 1 20 0 10 3 23 10 4 3 6 4 2 6 0 4-4 8-6 7-8 5-14 6-5 4-6 10-7 7-8 5-17 6-7 4-22 18-21 17-16 11-6 5-5 7-13 17-15 16-12 20-8 9-8 5-17 9-15 11-5 3-25 9-10 5-18 11-10 4M2532 1418l-7-1-11-2 2-3 12-1 10 1 3 3-3 2-6 1M2458 888l-8 0-15-1-17 1-18-4-8-1-17 2-7 0-23-4-5 0-15 3-7-1-13-5-30-18-35-18-53-37-19-16-23-13-25-24-4-4-4-8-3-8-4-19-5-11-2-3-6-2-2 0-8 3-2-1-2-2-3-6-2-11 1-8 2-7 12-12 8-13 6-8 8-6 8-4 17-7 15-4 8-1 20 0 27-4 10 0 15 2 8 1 32-2 18-1 22 1 10-1 18-4 7-1 10 1 23 3 10 0 42-3 28-5 10 1 17 5 7 1 8 0 22-3 30 2 58-2 22 3 26 4 30-1 37 2 10 2 27 11 6 3 5 5 4 5 0 3 0 4-5 10-7 10-7 6-16 10-18 14-9 6-20 9-7 4-58 43-8 8-14 20-16 17-14 21-7 8-6 3-17 10-20 15-8 3-20 7-8 4-22 14-8 3-4 1M2078 763l-3-2 0-3 0-3 3-3 2 3 0 3 0 2-2 3M2075 1025l-3-3-2-12 2-10 0-2 3-2 3 4 1 10-1 11-3 4M2075 1126l-3-1 0-5-1-5 1-11 3 1 1 7 0 8-1 6M2328 1423l-13-1-10-1-5-1-5-2-1-3 3-3 5-1 6-1 12-1 18 0 22 4 15-3 10-1 25 0 25-1 27 3 63-4 16 1 14 2 7 2 3 3-1 3-8 2-21 2-13 0-30-3-27 0-23 2-27-2-30 2-25-2-18 3-14 1M2448 895l-28 2-8-1-12-4-8-2-24 2-20-3-6-1-14 2-8-1-8-2-8-5-37-22-25-12-7-4-28-22-26-17-16-13-17-10-10-8-23-22-6-7-4-7-5-18-2-5-3-2-3-1-2 1-8 8-2 1-2-3-3-5-3-9-2-15-1-10 1-12 1-6 3-4 11-12 13-15 7-7 7-4 7-2 26-8 10-2 23-1 20-3 10-1 30 3 32-2 18-1 22 1 8-1 17-4 7-1 10 0 23 4 10 0 43-3 22-4 10 0 8 0 18 5 9 1 27-3 30 2 56-3 24 2 28 5 30-1 25 1 10 1 7 2 33 12 10 6 8 7 2 6 0 2-1 5-8 13-8 9-10 8-30 20-10 6-26 13-12 8-15 10-30 23-7 8-17 22-16 17-15 20-8 8-22 13-15 12-7 5-30 12-23 14-7 4-10 3-10 2M2080 773l-2 2-3-1-3-2-2-7 0-7 0-6 2-7 6-8 2-1 2 2 3 4 2 6 0 4-2 10-3 7-2 4M2075 868l-3-5 0-8 0-8 3-2 3 6 0 7 0 7-3 3M2075 1138l-3-1-2-4-2-8-1-10 2-47 2-28-3-25 0-10 2-13 2-5 3-2 3 3 2 6 2 8 0 8-3 32 1 30-1 28 1 22-2 10 0 3-3 3M2540 1425l-15 0-33-2-47 1-27-1-30 1-26 0-22 1-28 0-7 0-12-3-23-6-12 0-6-1 3-2 3 0 12 0 28-5 20-2 17 0 25 2 25-2 23 0 24-1 30 2 63-3 20 1 35 6 12 1 4 3-4 3-27 4-25 3M2432 905l-7 1-7 0-8-2-12-5-8-1-5 0-15 3-8-1-14-3-23-2-7-2-10-4-18-10-26-17-24-10-8-5-27-22-24-15-19-14-20-13-40-37-2-1-2-1-3 2-6 19-7 13-4 7-3 1-3-3-2-6-2-9-1-8 0-10 4-15 1-7-5-38-1-20 2-10 2-5 2-4 22-23 10-8 14-6 32-8 28-2 30-4 30 3 32-2 18-1 22 0 8-1 17-4 7 0 10 0 23 4 10 0 43-3 30-4 10 0 20 5 7 1 30-3 33 1 22-1 28-1 24 1 23 5 7 0 36-1 20 2 14 3 36 13 14 8 7 5 6 5 1 3 1 2-1 2-20 23-8 8-21 15-15 10-24 13-20 10-10 6-11 8-29 24-8 7-18 23-14 16-14 17-12 11-20 13-17 14-7 5-28 10-25 15-13 7-12 4-18 4M2075 889l-5-17-1-10-1-10 2-21 2-8 3 0 3 7 2 12 2 18-2 14-5 15M2075 1196l-3 0-2-4-1-4 0-13 3-17 0-6-6-22-1-15 2-75-2-32 1-10 3-16 1-7-2-23 1-30 1-14 2-11 3-5 3 12 1 24-1 44 0 6 5 17 1 15-2 35 0 53 1 27-2 10-4 17 2 18 0 10-1 11-3 5M2538 1428l-43-2-47 0-30-1-30 2-78 1-10-1-25-4-25-2-8-2-2-1-1-3 0-3 3-2 9-2 27-1 34-3 23 0 25 1 25-2 23 1 24-2 30 2 23-1 40-1 17 0 30 4 24 2 9 2 3 2 1 3-1 3-3 1-7 3-40 4-20 2M2075 1211l-3 0-2-4-2-7-2-8 0-12 1-28-3-22-1-10 2-82-2-30 3-28-1-32 1-33 2-27-3-28 0-12 1-18 4-22 0-8-1-10-4-20-1-10 0-10 3-22-4-46 0-14 2-13 5-10 16-17 8-8 8-5 7-3 36-8 60-8 10 0 23 3 50-3 20 1 10-1 17-4 7-1 8 0 22 4 10 1 46-3 22-4 10 0 10 1 18 4 10 1 27-4 47 1 28-3 10 0 25 2 27 5 38-1 10 1 12 2 10 3 36 12 24 12 19 5 4 2 2 3 2 5-1 2-2 3-4 3-12 5-7 5-15 14-6 6-19 12-43 26-25 12-15 10-32 28-23 26-35 40-10 8-18 11-17 14-10 6-25 9-28 17-27 14-13 6-7 2-5 0-8-1-17-5-5-1-22 2-13-2-10-3-15-5-30-14-12-6-20-14-8-5-22-10-8-4-28-23-25-16-36-24-21-20-10-8-5-2-3-1-2 1-2 1-6 8-7 15-3 13-2 10 1 17 4 38-1 10-3 18 0 7 2 35-1 40 4 28 0 10-1 40-1 52 1 22-3 30 1 20-1 13-2 13-2 9-3 4M2322 1430l-17 0-30-4-27-1-8-2-6-3-2-2-2-3 0-3 2-2 8-4 8-2 10-1 70-2 34 2 20-2 26 0 22-1 32 2 23-2 40-1 15 1 32 3 28 2 8 1 4 3 5 3 1 3-1 3-2 2-5 2-8 3-57 5-17 0-33-2-47 1-30-1-30 1-66 1M2075 1247l-3-6-7-36-2-10 0-13 1-30-3-32 1-82-1-30 2-30-1-28 1-35 2-27-2-40 0-20 3-28-1-10-4-30 0-10 3-25-5-50 0-10 2-13 4-9 10-13 13-13 10-6 12-4 42-8 56-7 30 2 47-2 23 0 10-1 17-4 7 0 8 0 22 4 10 0 43-2 25-3 10-1 10 1 18 3 10 1 30-4 44 1 28-3 10 0 22 1 30 6 10 1 28-1 20 3 12 3 36 11 24 10 27 4 6 3 4 5 4 8 0 4-3 6-5 4-7 5-16 5-4 3-14 13-6 4-46 25-22 15-22 10-10 6-38 34-46 50-12 13-7 6-20 14-20 16-10 5-17 6-8 4-34 22-17 12-9 5-20 8-22 5-16 5-4 0-3-1-10-9-5-3-12-3-8-4-20-15-8-6-27-13-25-19-8-4-17-6-7-5-26-21-30-18-32-23-28-23-7-4-5 1-2 2-6 8-4 11-2 12-2 12 1 16 2 32-3 35 1 37 0 38 3 28 0 12-1 35 0 50 0 30-2 25 0 25 0 13-7 53-3 6M2578 1430l-40 2-43-1-45 0-32-1-73 2-40 0-30-3-23 0-10-2-7-2-10-5-3-2-2-3 0-3 2-2 4-2 5-3 11-3 16-2 72-1 32 1 68-2 30 1 62-2 18 1 30 2 22 1 10 1 16 4 7 4 2 2 1 3-1 3-2 2-4 2-6 3-13 3-24 2M2075 1276l-3-1-2-5-1-8-3-30-4-30-1-12 0-38-2-34 1-83-1-27 2-28-1-25 0-37 2-30-2-43 3-47-4-38 1-38-5-60 2-12 4-10 9-13 12-14 10-6 13-5 23-3 24-4 26-3 30-5 7 0 20 2 47-2 26 0 10-1 17-3 7 0 10 0 20 4 10 0 18-1 25-1 25-3 10-1 10 1 18 3 10 1 32-5 42 0 28-2 10-1 22 2 23 5 10 2 35 0 15 2 15 4 38 11 24 9 8 1 18 0 4 1 8 4 7 6 6 7 3 8-1 5-2 3-5 4-13 9-23 11-12 10-7 6-45 22-26 18-22 8-10 6-18 18-27 24-34 38-16 16-10 8-19 14-19 15-7 4-20 9-9 4-27 18-19 17-21 11-10 7-5 5-3 5-1 13-2 4-2 3-16 18-6 5-7 2-4 1-3-1-4-2-2-6-7-17-4-7-5-6-15-12-5-5-3-5-10-20-4-5-5-5-8-5-21-10-17-15-7-6-9-4-17-6-7-4-6-5-17-15-7-5-20-11-18-12-22-15-23-19-4-3-3 0-5 1-5 6-3 8-3 12-1 13 0 15 2 32-3 33 1 40-1 33 3 42-1 88 0 30-1 24 0 30-4 36-2 31-2 16-2 8-3 3M2578 1433l-40 2-43-2-45 1-32-1-70 2-46 0-27-3-23-1-10-1-10-3-18-7-6-2-2-3 0-3 3-2 10-5 16-5 17-2 80-2 30 1 68-2 30 2 28-2 42 0 40 3 28 0 12 2 15 4 7 4 4 2 2 2 0 3-1 3-2 2-7 4-8 3-18 4-24 2M2075 1293l-3-1-2-4-2-8-2-10-1-10-2-28-4-30 0-12 0-38-2-34 1-83 0-27 1-28-1-28 0-37 2-27-2-30 0-18 2-42-3-40 1-28-1-12-5-58 2-12 4-10 12-19 10-11 5-4 5-2 12-4 26-3 22-4 30-4 28-4 7 0 20 2 43-2 30 0 34-4 10 0 18 3 10 1 20-1 25-1 25-3 12-1 10 1 18 3 8 0 7-1 17-4 8-1 42 1 26-2 12 0 22 2 33 6 33 1 10 1 22 5 40 11 22 8 8 1 15-1 7 1 8 2 6 4 6 5 7 8 6 7 2 5 1 2-2 6-4 4-24 15-18 9-22 16-43 18-10 6-20 15-7 4-16 6-7 4-6 5-14 15-30 26-31 34-29 27-35 26-8 5-24 12-23 15-8 8-9 12-6 5-4 3-14 4-7 6-3 4-1 6 4 14-1 8-2 5-3 3-13 11-3 3 0 3 2 3 8 3 3 2 2 4 1 5 1 6-2 10-3 4-5 6-12 10-12 12-6 3-4 2-3 0-4-3-9-13-2-3-2-1-3 0-10 3-5 1-5-2-3-2-2-3-1-4 1-6 7-10 2-4 3-23-1-10-2-5-3-5-11-15-7-7-13-8-5-5-2-5-1-3 1-12 0-5-1-5-4-5-7-5-11-7-7-5-20-18-9-5-19-7-8-4-5-4-17-16-7-4-21-11-20-12-17-13-23-18-4-3-3 0-3 1-2 1-2 3-3 4-2 8-2 10-1 12 1 40-2 33 1 40-1 33 3 30 0 14-1 86 0 30-1 24 0 30-3 33-1 30-1 15-3 14-2 10-2 6-3 3M2572 1435l-34 2-43-2-47 1-30-1-68 2-50 0-25-2-23-1-12-2-25-7-22-5-4-2-2-3 2-3 4-2 22-8 17-4 20-3 80-1 33 1 65-2 30 2 28-2 42 0 70 3 15 3 16 3 12 6 3 2 2 2 0 3-1 3-2 2-9 5-11 4-10 3-10 1-33 2M2075 1307l-3-1-2-3-1-3-3-10-3-12-1-16-1-30-4-40 0-40-2-34 1-83 0-27 1-28-1-28 0-40 2-24-2-40 2-50-4-40 1-30-1-13-6-57 1-10 5-13 14-21 10-12 4-3 6-3 12-3 25-3 23-4 34-3 28-5 25 2 40-2 30 1 40-4 30 3 25-1 20 1 10-1 22-3 10-1 8 1 18 2 7 1 7-1 18-4 10-2 42 1 26-2 12 0 20 2 35 6 33 2 10 1 10 2 74 20 8 1 18 0 7 1 10 3 8 5 9 8 12 12 5 8 0 5-2 5-5 5-7 4-17 9-22 12-24 16-9 4-27 10-11 5-8 5-19 15-8 4-15 6-5 3-6 4-19 20-30 25-27 31-30 28-36 26-24 13-8 5-21 18-6 7-5 13-3 4-12 13-2 5-1 18-3 14-1 8 1 8 3 12 0 5-2 5-14 22-6 8-6 5-12 7-8 6-7 7-12 17-3 3-5 1-7 0-8-4-5-4-10-13-3-3-12-6-8-5-7-9-11-17-12-12-4-5-2-8 0-10 2-12 6-16 0-4-1-6-5-11-5-11-2-10 0-15-2-5-3-5-14-12-14-15-6-6-7-3-17-7-8-4-8-5-11-11-6-4-23-12-24-15-36-27-4-2-3 0-3 0-2 3-2 3-3 7-2 10-1 13 1 34-2 33 1 43-1 27 3 45-2 88 1 30-1 24 0 28-3 35 0 33-3 22-4 22-2 8-2 5-3 2M2568 1438l-28 1-45-2-47 1-28-1-112 2-53-3-15-1-25-6-27-5-6-2-5-2-2-2-1-3 1-3 3-2 5-2 7-3 32-7 30-5 13-1 33 1 37-1 30 1 65-2 30 1 28-1 42 0 70 3 22 3 21 5 12 6 4 2 2 2 0 3-1 3-3 2-10 5-19 7-10 2-13 2-37 2M2075 1323l-3-1-2-2-2-5-3-7-3-16-3-24-1-36-4-37 0-43-1-30 0-54 1-86-1-27 1-37 1-33-1-43 1-44-4-40 0-33-1-15-2-21-6-24-1-10 2-10 5-13 20-29 7-9 7-4 10-3 28-3 28-6 34-1 28-5 28 2 32-2 38 0 40-3 30 3 24-1 18 1 10-1 20-3 12-1 8 1 18 2 7 0 7 0 18-5 10-1 42 0 28-1 12 0 18 2 32 5 43 4 45 11 42 9 8 1 18 1 10 1 12 5 10 6 26 20 5 4 3 6 0 2-1 5-4 7-9 8-9 5-23 10-45 27-33 13-12 5-8 5-22 17-18 8-8 4-30 29-24 21-24 26-17 15-19 20-28 20-25 15-12 10-6 8-4 7-8 23-11 20-4 12-2 10 0 5 5 17 1 8-1 8-2 7-11 17-8 16-5 7-7 6-16 9-6 5-4 7-3 16-3 8-6 6-7 3-13 1-12-1-5-2-12-11-8-4-7-1-16 1-7-2-6-4-17-14-2-3-1-5 5-12 1-6-1-4-2-6-4-6-14-14-3-4-2-6-3-20-6-12-1-5 1-5 8-18 1-10-1-7-6-28-2-7-3-5-15-20-8-7-29-15-7-5-20-15-40-22-36-27-4-1-3 0-3 2-2 3-2 8-2 16 0 30-2 43 1 33-1 30 2 47-1 83 0 32-1 52-2 33-1 35-3 30-3 21-5 16-2 4-3 2M2572 1440l-32 1-50-1-42 1-30-1-110 2-56-3-14-2-23-5-25-2-12-2-7-3-5-3-3-2-1-2-1-3 1-3 2-2 3-2 5-3 7-3 39-7 32-5 15-1 35 1 35-1 33 1 60-1 30 1 30-1 44 0 70 2 30 5 26 5 14 6 5 3 2 2 0 3-1 3-3 2-5 2-14 6-21 5-13 3-12 2-38 2M2075 1341l-3 0-3-3-3-8-3-10-4-20-3-32-1-33-3-43-1-70 0-140 0-64 1-33-1-33 1-54-4-40-1-33-1-17-4-17-8-29-2-10 1-7 5-10 17-25 10-16 7-9 6-3 7-2 27-3 30-6 16-2 24 0 28-4 28 2 24-1 53-1 35-2 32 2 40 0 40-4 8 0 18 2 7 0 7-1 18-3 10-1 82-1 18 1 75 10 30 7 25 5 35 6 20 2 10 2 13 4 14 6 23 13 17 8 6 4 2 4 1 3 0 8-2 5-3 5-7 8-17 10-32 14-42 25-10 4-25 9-13 6-10 6-18 14-24 14-8 7-28 26-22 19-21 23-19 17-18 20-7 6-33 22-6 5-4 5-3 5-5 17-12 21-2 7-1 5 3 25-1 8-4 14 0 8 1 5 2 5 10 12 3 8 0 5 0 5-1 5-3 5-4 5-7 6-10 4-18 6-8 5-4 5-10 14-3 3-10 5-5 4-10 13-6 5-6 3-30 13-10 4-8 0-5-2-3-2-4-5-8-11-3-3-4-2-5-1-16 0-7 0-10-3-7-5-16-14-5-7-14-25-19-25-2-5 0-5 4-15-1-7-3-6-10-8-3-4-4-8-1-4 1-6 2-4 10-13 3-5 2-5 1-5-1-8-7-15-2-7 0-8 3-14-1-8-3-5-9-7-21-13-22-17-28-14-10-7-27-20-5-2-2 0-3 1-3 3-1 3-2 10 0 33-2 30 0 73 2 32 0 25-2 73 1 34-1 50-2 33-1 37-3 38-4 22-4 16-3 7-2 4-3 2M2585 1443l-45 1-50-1-185 2-53-3-12-1-28-5-27-2-15-3-10-3-5-3-5-5-2-5 2-5 6-5 6-3 10-3 46-8 34-4 16-1 32 1 38-1 30 1 60-1 30 1 30-1 37 0 73 2 34 4 23 4 13 2 10 3 7 4 5 4 3 3 0 3-1 3-2 2-3 2-7 4-12 4-46 10-14 1-23 2M2075 1366l-3-1-2-2-2-3-5-10-3-12-4-23-5-50 0-30-3-43-1-67 0-60 1-35-1-112 1-33 0-90-5-37-3-38-2-12-6-16-10-20-4-7-2-7-1-8 1-8 3-4 13-15 10-12 18-26 8-9 7-6 7-2 26-2 24-5 18-3 12 0 23 0 23-3 7 0 25 2 82-1 36-3 32 2 40-1 32-3 33 1 25-2 28-2 72 0 18 2 72 10 32 6 40 6 40 7 30 10 28 12 20 8 10 5 7 6 4 5 2 5 1 5-1 5-2 5-3 5-4 5-5 5-14 9-20 9-25 11-50 27-31 12-11 5-10 5-20 15-22 15-18 15-23 23-23 20-17 20-14 14-16 19-27 23-3 6-3 4-1 6-1 12-1 8-3 7-9 15-1 5 1 5 7 18 4 7 10 14 4 11 1 8 0 7-2 7-3 8-16 17-4 7-5 8-7 16-4 7-7 7-18 18-6 8-6 9-5 6-5 2-17 4-18 7-20 1-8 2-6 3-18 15-8 4-8 3-7 1-7-1-8-2-25-12-7-4-10-8-8-5-22-10-18-10-13-5-5-3-5-5-5-7-7-18-11-17-16-38-4-12-3-20-4-16 0-7 0-5 6-18 1-10 0-10-4-24 1-8 3-15-2-7-3-6-5-4-17-16-7-4-30-17-22-18-6-2-3 1-1 2-2 4-2 7-3 53 0 70 2 32 0 28-1 70 0 37-3 75-1 45-4 47-5 33-3 13-4 8-3 6-4 4M2565 1448l-25 1-48-2-110 1-77 1-55-3-38-5-34-2-20-4-13-4-10-6-5-5-2-5 1-5 6-5 9-5 8-3 18-4 50-7 45-4 37 1 38-1 30 1 55-1 35 1 32-1 50 0 56 2 64 7 18 4 18 6 10 7 5 4 1 3-1 3-1 2-7 5-15 6-20 5-48 9-17 1-40 2M2000 617l12-4 10-7 13-13 19-25 8-10 8-6 5-3 5-1 18-1 62-8 22-1 138 1 15-1 25-2 30 1 28-2 94-1 48-3 28 1 44-1 40 6 30 2 28 4 70 15 28 5 24 8 39 17 29 10 8 4 7 5 12 11 4 4 5 8 2 8 1 4-1 6-3 4-4 6-6 4-13 9-12 7-30 13-35 14-45 24-31 13-13 8-26 18-23 14-9 8-8 8-17 20-22 20-9 10-14 20-8 14-6 18-3 22 0 13 2 10 5 10 11 15 2 5 1 5 0 5-2 7-8 20-2 8 0 10 3 18-1 7-2 7-4 8-6 8-18 18-5 6-3 8-5 15-5 7-8 8-31 22-30 28-10 7-20 7-20 11-25 7-30 12-12 4-10 1-13 0-37-6-10-3-8-3-18-12-10-5-52-26-18-12-16-10-7-4-7-8-18-22-15-16-4-6-4-8-3-10-6-28-5-10-15-16-2-1-2 3-3 7-3 12-2 41 0 36-4 73-1 50-6 73-8 54 1 10 0 3 3 4 3 1 4 0 30-10 26-6 54-6 46-3 50 0 32 0 30 1 55-2 35 1 30-1 60 1 48 1 70 6 24 5 28 7 8 4 7 4 3 3 4 5 2 5 0 5-3 5-2 3-4 3-5 2-12 4-66 12-20 2-20 2-70 3-42-1-200 1-52-2-36-4-44-3-13-2-15-3-15-5-10-4-20-9-5-1-10 0-5-2-3-2-4-7-3-9-7-23-4-20-5-35-4-57-4-113-1-237 2-38-1-48-1-30-2-16-7-31-5-27-3-13-4-7-6-8-5-5-8-3M2123 1015l4-10 6-27 2-10 2-26 3-10 5-17 2-10-1-5-2-5-7-10-12-12-5-3-2 0-3 2-3 7-1 19-1 14 2 28 0 25 0 13 6 34 2 5 3-2"/>
</g></g>
<clipPath id="c3"><rect x="379.0" y="22.2" width="122.69999999999999" height="122.60000000000001"/></clipPath>
<g clip-path="url(#c3)"><g transform="scale(0.1)" fill="none" stroke="#5cc06e" stroke-width="5.5" stroke-opacity="1">
<path d="M3982 1270l-7-1-5-2-2-4-2-3-1-6 0-4 2-8 3-8 6-14 5-6 4-1 3-1 4 2 3 2 5 6 4 8 3 7 1 5 0 5-1 5-5 5-12 9-8 4M4480 877l-2 0-3-3-1-2 1-2 3-4 2-1 2 0 3 2 1 3 0 2-1 3-3 2-2 0M4015 1282l-5 1-15-4-20-2-7-3-3-3-3-4-2-5-1-8 1-12 10-31 2-4 6-5 4-2 8-1 5 1 5 1 5 5 7 11 9 10 3 5 6 20 0 10-2 8-4 4-4 5-5 3M4480 890l-5-1-3-1-4-6-3-8 0-7 3-6 4-5 8-3 8 0 4 2 4 5 2 4-1 8-3 8-4 5-5 3-5 2M4018 1295l-6 1-4 0-6-2-12-7-20-6-8-5-3-4-2-5-2-7-1-8 0-8 2-7 9-33 3-4 7-5 7-3 16-3 4 0 3 1 3 1 2 3 6 13 12 15 2 5 8 27 1 8-1 5-3 9-5 9-5 6-7 4M4482 900l-7 1-5-1-2-2-4-6-4-10-1-8 0-7 1-5 2-5 8-8 8-4 4-1 6 0 7 2 7 4 4 4 0 8-3 12-5 13-8 8-8 5M4015 1305l-7 1-8-2-15-11-17-7-6-4-4-5-3-5-3-8-2-10 0-12 5-20 2-15 2-5 3-5 5-5 5-3 26-9 7-1 5 1 2 1 3 3 6 18 3 5 8 10 3 5 10 38 0 4-1 8-4 10-5 9-5 6-3 3-5 2-7 3M4535 755l-5-1-2-2 0-2 2-5 2-3 3-1 3 0 2 2 1 1 1 6-2 3-5 2M4468 930l-6-1-2-1-3-6 1-25-3-27 0-6 3-5 4-7 6-7 4-4 8-3 5-1 7 1 10 3 8 3 4 3 0 3 0 4-6 20-5 13-8 12-13 15-7 10-3 3-4 3M4008 1312l-8 0-7-2-13-12-12-7-8-5-5-7-5-9-3-13-1-10 6-40 3-7 3-6 7-6 7-4 26-10 7-1 5 0 5 1 3 1 3 5 4 20 3 4 7 10 4 8 4 18 5 14 2 8-1 8-4 11-5 11-5 7-5 5-5 3-7 3-10 2M4535 762l-10 2-5-1-2-1-2-2 0-3 2-7 6-8 6-6 5-2 3-1 2 1 2 1 3 4 3 5 0 8 0 4-3 3-5 2-5 1M4470 938l-8 0-7-3-3-3-2-5 0-7 4-26-2-27 1-5 2-5 5-8 8-9 4-4 8-4 5-1 5 1 22 4 6 2 2 2 1 2 1 2-1 6-13 34-10 21-6 10-11 15-6 5-5 3M4005 1317l-10 0-5-2-5-3-12-10-11-8-4-6-6-8-5-13-3-13 0-10 5-40 3-7 4-5 9-8 10-5 23-8 7-2 7-1 6 1 4 2 4 3 1 3 2 20 2 5 8 12 2 6 5 20 6 14 1 6 0 4-2 8-6 16-5 11-5 5-5 5-7 3-11 4-7 1M4525 772l-7 2-6-1-2-3-1-3-1-5 2-8 6-10 12-11 7-4 5-1 2 0 4 4 4 8 2 10 0 7-2 4-5 3-20 8M4475 942l-7 2-13-2-7-2-3-3-1-3 0-4 0-6 6-32 0-22 0-6 2-7 6-9 10-13 4-5 6-3 4-1 6 0 17 2 15 1 2 1 4 4 1 6 0 4-2 8-9 18-11 30-5 14-2 6-4 4-12 13-7 5M4002 1322l-7 0-10-3-16-7-6-5-11-19-6-16-4-15-1-13 5-40 3-7 6-8 5-5 8-4 20-10 14-4 8-2 8 0 4 1 6 2 2 3 3 4 2 6-1 12 1 5 9 20 5 20 6 17 1 6 0 4-3 10-8 22-3 6-3 5-6 5-8 4-13 4-10 2M4520 785l-2 0-6-2-4-4-4-5-2-7 1-5 2-6 3-6 4-6 7-7 9-8 4-3 6-2 4-1 3 1 3 3 1 3 4 12 2 10 0 8-3 3-2 3-17 8-11 10-2 1M4475 948l-5 1-5 0-17-3-6-2-2-2-1-2 0-8 9-40 0-8 0-14 1-10 5-10 11-18 5-5 3-3 5-2 7-1 20 0 5-1 10-2 2 0 3 1 3 2 2 6 1 7 0 8-2 8-9 16-5 11-7 23-3 17-4 7-16 17-5 4-5 3M4010 1325l-8 1-10 0-27-6-5-2-2-2-3-4-4-18-10-30-3-10 0-7 3-20 1-17 1-6 5-9 6-8 6-5 8-5 20-10 17-5 7-1 8 0 7 1 5 2 4 6 3 4 1 6 0 12 0 5 7 20 5 20 6 17 1 8-2 10-12 32-3 6-4 3-6 3-22 9M4475 952l-7 1-26-3-4-2-4-4-1-4 1-6 11-44 1-20 1-10 4-8 11-21 3-4 5-5 5-3 5-2 22-3 5-2 3-3 2-5 1-2-1-5-3-5-9-12-2-6 0-7 3-10 4-7 3-6 14-14 8-5 5-3 5-2 5 0 3 1 2 3 2 6 5 17 1 10-2 5-3 5-3 3-10 5-5 4-4 5-2 6-1 4 0 6 5 14 2 10 0 13-2 10-2 5-9 15-5 13-5 17-2 20-2 5-4 5-19 19-5 4-5 2M4468 996l-3 1-3 0-3-3-2-2 0-2 2-3 3-2 3-1 3 1 2 2 1 3 0 2-1 2-2 2M4002 1330l-7-1-17-3-16-2-4-1-6-4-2-3-1-4-2-20-11-32-1-8 0-5 4-20 1-15 1-8 5-10 6-8 6-5 7-5 10-6 10-5 10-4 10-2 10-2 7 1 8 2 5 3 5 5 3 6 2 8 1 18 5 17 4 20 6 17 0 8-1 8-8 20-5 17-2 4-3 3-7 5-20 8-7 2-6 1M4475 958l-5 0-15-2-15-1-3-1-4-2-3-5-1-5 1-5 5-17 8-30 1-23 1-7 3-8 14-25 5-7 8-5 20-6 4-2 2-3 1-2 0-5-1-5-6-11-1-4 0-5 1-8 3-7 7-13 9-10 16-12 10-6 5-1 3 1 2 1 3 5 6 25 1 10-2 7-3 5-5 4-9 7-2 2-3 5-1 5 0 5 3 17 1 8-1 12-2 10-3 8-10 18-4 10-5 17 0 20-3 7-3 6-23 21-5 4-5 3M4470 1000l-2 1-6 0-4-1-5-3-2-3-1-4 2-6 2-2 6-3 5-1 5 1 2 2 3 3 1 3 0 5-3 5-3 3M4010 1332l-5 1-7 0-20-3-16-1-7-3-6-4-2-2-2-6-2-24-3-10-7-20-1-6 0-4 4-20 2-18 1-8 4-10 7-8 12-11 10-7 10-5 10-4 10-3 10-1 8-1 8 1 7 4 7 8 5 7 2 8 1 18 5 17 2 17 7 18 0 8-1 7-9 25-4 18-2 5-3 3-5 3-30 11M4465 1005l-7-1-8-4-4-3-1-3-1-4 0-6 4-5 4-5 7-4 1-3-1-3-4-1-15-1-5-2-6-6-3-7 0-5 0-5 6-18 9-29 0-8 1-15 1-7 3-8 7-12 7-16 3-4 2-3 5-4 20-9 2-2 2-2 0-6-3-10-1-4 0-8 5-15 7-13 9-10 19-15 8-5 4-2 6-1 2 0 2 1 2 2 2 6 2 14 3 16 1 10-2 4-2 6-3 3-11 9-2 3-1 5-1 7 2 15 0 8-2 17-3 13-12 20-5 12-3 15 0 20-1 5-2 5-4 5-22 23-14 12-1 3 1 2 4 7 1 5 0 8-1 4-3 4-5 3-5 2M4015 1335l-5 1-8 1-22-3-18-2-9-2-7-6-3-4-2-6-2-27-3-10-6-17-1-8 5-22 1-18 2-8 4-10 8-10 13-12 13-9 7-4 10-4 10-2 10-2 8 0 5 1 5 1 8 5 7 8 5 8 3 10 1 16 5 17 2 15 5 18 1 7-2 10-7 17-2 8-2 10-1 12-2 6-3 2-3 1-15 5-15 7M4468 1007l-8 1-8-2-7-4-6-5-1-3-2-4 0-6 2-7-1-5-10-12-3-6-2-7 0-5 1-5 7-20 8-27 1-8 1-15 1-7 19-43 5-6 5-4 10-5 3-2 1-3 1-5 0-12 1-8 7-18 7-12 10-10 22-18 8-5 5-2 7 0 3 0 2 3 2 4 1 18 4 20 0 8-2 5-2 5-2 4-10 10-3 6 0 7 1 20-2 13-2 12-3 8-12 20-4 12-3 15 1 17-1 8-2 5-3 5-15 15-16 17-2 6-1 2 2 15-2 7-5 8-4 3-4 2M4018 1340l-6 1-7 0-23-4-20-1-10-3-8-6-4-5-3-8-2-30-3-10-6-14-1-6 1-4 6-20 1-18 1-8 5-10 8-10 8-8 7-7 13-9 7-4 8-4 8-2 10-2 10 0 10 1 7 3 5 4 5 6 7 10 4 12 3 18 4 15 3 17 4 14 1 6-2 10-9 20-2 8-2 10 1 15-2 5-2 2-3 2-18 6-14 8M4468 1010l-6 1-4 0-10-2-9-5-8-7-4-7-1-18-5-15-2-7-1-8 1-5 8-20 8-30 2-20 1-7 3-8 8-15 6-17 3-7 4-6 11-10 3-5 6-18 5-12 5-13 6-9 10-10 20-16 10-7 10-5 4-1 6 1 3 2 3 6 0 4-1 18 3 20 0 10-4 10-10 15-2 5-1 8 0 14 0 8-6 25-3 7-10 16-5 12-2 15 1 17 0 8-2 5-4 7-20 20-9 13-2 7-1 16-1 4-3 6-7 7-7 3M4020 1345l-5 1-5 0-25-5-23-2-10-3-10-6-4-6-4-7-1-7-1-18-1-10-2-8-7-14-1-6 1-4 5-13 2-7 2-20 1-6 3-7 7-10 16-16 14-13 8-6 8-3 7-3 17-2 13 1 5 1 5 3 10 9 9 12 3 7 3 10 10 45 4 12 1 8-1 5-1 7-10 20-3 10-1 8 2 15-1 5-1 2-2 3-4 3-15 5-18 10M4465 1015l-7 0-8-1-8-2-7-3-5-3-5-5-4-7-2-4 0-20-4-20-1-10 2-8 7-15 9-30 3-27 3-8 9-18 5-17 3-7 3-5 13-18 19-40 6-10 9-9 35-27 10-5 5-1 5 1 2 1 4 3 2 2 1 5 0 5-3 18 0 7 2 15 0 10-3 10-8 15-3 7-2 28-6 25-5 10-10 15-3 10-2 12 2 20 0 6-1 4-3 6-4 6-18 21-7 10-3 7-2 16-5 10-5 6-5 4-5 3-5 2M4022 1350l-4 1-6 0-27-6-23-2-4-1-8-4-9-6-7-8-4-7-1-7-1-20-1-8-2-8-6-12-2-5 1-7 6-16 2-4 3-26 2-4 4-8 15-17 25-24 10-7 10-3 23-1 7 1 5 1 5 3 5 4 10 11 8 12 5 12 15 63 1 7-2 8-3 8-8 14-3 10-1 8 3 18-2 7-6 5-17 7-12 8-6 3M4460 1020l-8 0-12-2-5-1-5-2-5-4-6-7-4-7-2-7-1-8 0-18-2-20 0-7 2-7 7-16 9-27 4-27 3-8 8-18 6-22 3-8 20-30 16-30 5-10 7-7 42-33 6-3 4-1 6-1 4 1 5 2 3 3 3 5 1 4-1 8-4 18 0 7 2 15-1 10-2 11-10 21-1 8-1 20-7 25-4 10-10 15-4 10-2 12 2 20-1 10-2 7-4 6-18 23-6 7-3 7-4 18-6 10-5 5-7 7-7 4-8 2M4020 1355l-10 0-22-5-20-3-8-1-12-5-10-8-6-6-5-10-2-10-1-17-1-8-2-8-6-12-2-5 0-5 2-5 8-17 3-26 5-10 14-17 30-32 7-6 8-2 8-1 22 1 10 1 5 3 5 4 11 12 9 13 7 14 3 8 5 28 7 27 0 7-2 10-2 6-9 14-2 8-1 10 2 18-1 4-2 6-3 3-4 3-16 6-14 11-8 2M4422 1053l-2-1-2-2-3-6 0-5 4-12 1-5-1-5-9-20-2-10-1-7 0-18-1-18 0-7 2-7 7-16 8-24 2-8 3-22 3-8 7-12 3-8 6-25 5-10 20-30 15-30 8-10 45-37 5-3 5-2 5-1 7 1 6 1 4 3 3 3 3 5 1 5-1 8-4 14-1 8 1 20-1 8-3 13-9 24-3 27-7 26-4 10-10 14-3 8-2 12 2 23-2 10-7 13-15 20-4 7-4 7-5 18-5 8-5 7-9 9-10 7-8 2-20 2-5 2-3 4-2 11-2 6-3 2-3 1M4025 1358l-7 1-8 0-25-6-23-3-7-2-7-4-13-9-7-8-4-10-3-10-1-17-1-8-2-8-6-12-1-5 0-5 1-5 7-13 2-7 3-23 5-10 7-10 27-30 13-16 5-4 5-1 10-1 33 2 4 2 6 3 10 10 9 11 5 7 9 17 3 10 5 28 6 22 1 8-2 10-4 9-9 16-2 7 0 8 2 18 0 4-2 6-4 4-5 4-15 7-13 9-7 4M4428 1060l-6 1-4-2-6-5-3-7 0-10 2-17 0-6-6-19-2-11-1-47 1-7 8-18 9-25 2-7 1-16 2-7 4-7 7-13 3-7 5-23 6-13 20-30 14-30 8-10 33-26 17-15 6-2 7-2 7 1 6 1 7 5 5 6 3 8 0 7-7 25 0 20-1 12-3 10-8 26-3 22-2 10-8 25-2 5-9 12-4 10-1 10 2 23-2 10-6 13-19 27-3 7-6 18-9 12-12 14-10 8-8 4-14 4-5 3-3 4-7 13-5 6M4020 1362l-5 1-7-1-46-9-7-2-7-4-8-4-7-6-5-5-3-5-4-10-3-10-2-25-7-18-2-7 0-5 1-5 8-17 2-6 2-17 1-5 4-8 7-10 28-32 12-18 6-4 7-2 37 2 8 1 8 4 7 7 18 22 6 10 5 10 3 10 4 26 7 24 1 8-2 10-4 10-8 15-2 7-1 8 2 18-1 7-2 5-3 4-6 4-14 8-18 11-10 3M4010 1410l-5 2-5-1-5-1-1-3 5-3 6 0 6 3 0 3-1 0M4070 1417l-8 1-7-1-6-3-3-2 0-2 4-3 2-1 10-1 10 2 7 3 1 2-2 2-8 3M4425 1067l-3 0-4-1-6-4-4-8-3-7-1-10 1-20-6-35 0-25-1-17 0-8 2-5 9-20 8-20 1-7 2-16 2-7 3-7 10-18 2-8 3-14 2-8 24-38 13-27 7-10 9-9 29-24 14-12 4-3 6-3 7-1 7 1 8 2 8 4 5 8 3 7 0 10-6 25-1 20-2 10-3 15-7 23-3 22-3 10-8 28-11 17-4 10 0 10 2 20-2 10-6 13-18 27-3 7-6 18-7 10-13 15-13 12-7 6-13 6-4 3-14 18-4 3-5 2M4022 1365l-7 1-10 0-43-9-7-3-7-4-10-6-6-4-4-5-5-5-5-13-3-13-2-22-8-22 0-8 1-5 7-17 2-8 2-15 1-5 4-8 6-7 28-35 13-20 6-5 7-2 8-1 18 2 20 1 7 2 7 6 23 27 6 10 5 10 4 10 4 28 7 24 0 10-2 10-4 10-7 13-2 7-1 8 2 18-2 7-3 7-4 6-6 4-14 7-16 10-10 4M4072 1420l-10 1-10-1-8-3-9-4-5-1-5 0-17 4-10 0-7-2-6-2-3-2-1-3 1-3 6-3 7-2 7-1 10 2 13 4 7 1 23-3 7 0 8 1 9 1 8 3 4 3 1 2-2 2-6 3-12 3M4138 1415l-6 1-4-1-5-1-3-2 5-2 5 0 7 2 1 3M4430 1073l-2 1-6 0-2-1-5-3-7-8-4-8-3-7-1-7-1-30-4-30-1-40 1-10 3-8 10-19 4-13 2-8 2-18 2-7 3-7 9-15 2-5 5-20 3-10 22-36 15-30 7-10 14-13 24-19 18-16 5-3 7-1 10 0 8 2 5 2 5 4 6 7 3 10 1 10-7 25-2 20-1 10-11 38-3 22-3 12-7 26-4 7-8 13-3 7 0 10 1 20-2 10-6 13-16 27-4 7-5 18-4 8-33 35-7 6-15 10-12 15-8 7M4018 1370l-10 0-10-1-36-9-14-7-10-6-8-6-8-9-4-8-3-7-3-13-2-22-7-22-1-8 1-5 8-20 3-20 2-5 3-8 5-7 30-37 13-20 5-6 8-2 10-1 18 2 22 1 8 3 5 5 23 28 6 10 7 12 4 10 3 25 8 27 0 8-2 10-4 10-6 15-3 7-1 8 1 12 0 8-2 8-2 4-5 7-8 6-12 6-20 13-8 2-4 2M4072 1422l-10 1-7-1-20-5-7 0-23 2-13-1-10-2-8-4-3-2-1-3 1-3 3-2 8-5 8-2 10-1 10 1 18 4 7 1 30 0 13 1 24 5 20 0 10 0 18 4 9 2 1 2-5 3-15 3-12 0-23-3-7 1-26 4M4430 1081l-5 1-3 0-4-3-8-6-5-7-4-9-3-7-2-13-2-15-3-42 0-48 3-10 10-20 5-12 2-8 2-18 2-7 4-10 10-17 2-6 3-17 3-7 20-33 17-33 8-12 20-19 20-16 13-11 5-4 5-2 7-2 10 0 8 2 5 2 5 3 4 5 4 4 4 10 1 6 0 7-6 25-4 25-11 43-5 27-7 29-3 8-10 16-3 7-1 10 2 20-2 10-5 10-18 33-8 22-5 10-32 36-7 7-16 11-14 19-8 6M4012 1375l-10 1-10-2-32-11-10-5-10-6-8-5-5-5-8-10-6-15-3-13-3-22-5-18-2-7 0-7 1-6 7-17 4-20 2-7 3-6 33-45 14-22 6-5 5-2 5-1 8-1 20 2 22 1 8 2 7 6 24 31 8 12 6 12 3 10 3 26 5 17 2 7 0 8-2 10-12 32-1 8 0 20-3 10-3 7-5 5-5 4-30 18-10 5-13 4M4142 1422l-12 0-25-2-30 4-13 0-10 0-17-4-7-1-23 2-10 0-19-4-17-5-4-2-1-3 2-3 5-2 21-11 8-2 8-1 12 2 25 7 7 0 26 0 34 6 28 0 35 5 8 2 6 2 0 2-6 3-10 3-21 2M4220 1417l-8 1-9-1-7-3-1-2 7-3 13-1 10 1 15 3 22-3 6 1 3 2-1 2-8 2-17-2-3-1-2 0-3 1-17 3M4428 1090l-6 1-4-2-8-8-8-12-4-9-4-13-4-17-1-13-1-33 1-54 2-10 11-20 4-10 2-8 2-18 2-7 4-10 9-15 2-5 5-20 3-7 13-23 21-40 10-15 21-21 20-15 18-16 7-4 7-1 10 0 8 1 5 2 6 4 5 5 4 5 2 5 3 7 1 13-8 40-14 53-4 27-8 30-3 10-10 15-2 8-1 7 1 20-2 10-5 10-17 33-9 27-6 10-16 16-16 19-21 18-5 7-8 11-4 6-6 3-4 3M4085 1425l-25 1-10-1-22-3-23 1-15-1-38-6-3-2-4-2-2-2 0-3 1-3 3-2 21-9 9-6 2-3 2-2-1-2-1-3-8-5-19-9-17-11-10-8-6-7-6-13-5-14-4-28-6-22 0-10 2-8 6-18 4-20 4-10 5-7 15-20 26-40 5-5 7-4 6-2 7-1 25 2 18 1 10 2 7 5 27 35 13 22 4 12 3 26 6 22 1 8-1 7-4 13-9 24-2 30-2 8-3 7-6 7-7 6-17 10-30 18-2 2 1 2 7 6 6 2 12 2 28 1 30 5 28 1 57 6 7 0 20-2 28 2 28-1 7 2 4 2 2 2-1 2-3 3-7 2-5 1-27-1-28 2-22-2-46 5-12 0-25-1-20 2M4425 1100l-5 0-3 0-3-3-6-8-8-13-6-16-8-26-2-12-2-12 0-13 3-30 0-33 1-7 1-7 2-6 9-14 4-10 2-8 2-18 2-7 4-10 11-20 5-20 3-7 13-20 17-36 11-17 5-7 23-23 20-15 12-12 6-4 7-4 7-1 10 0 8 1 8 4 4 3 6 4 4 7 3 5 2 7 2 8 0 7-7 37-15 56-5 27-8 33-3 10-9 13-2 7-1 7 1 20-2 7-4 10-19 38-7 25-6 13-4 5-13 12-16 17-21 20-4 6-7 12-5 6-7 6-10 6M4078 1427l-23 0-27-3-33 0-37-4-8-1-8-2-4-3-3-4 2-6 4-4 24-13 3-4 0-3-4-6-26-16-10-7-8-8-5-8-6-15-5-16-3-22-5-22-1-8 1-5 7-23 4-20 6-12 15-22 10-18 17-25 7-7 6-4 4-2 8-1 8-1 40 2 7 1 7 4 7 5 11 16 14 17 13 23 5 12 2 25 6 23 1 10-2 12-10 32-3 26-3 12-2 5-3 7-8 8-8 5-17 10-14 10-2 3-1 2 1 2 2 3 5 3 9 2 23 1 32 4 25 1 23 3 32 3 10 0 22-2 28 2 30-1 6 1 8 3 5 3 3 2-1 2-4 3-6 3-9 2-7 1-27-1-28 1-22-1-46 4-37-1-27 2M4420 1110l-5 0-3-1-4-4-6-8-5-10-18-60-3-13-1-12 0-8 5-24 1-38 2-10 3-10 9-16 4-9 2-7 1-16 3-10 4-10 11-20 5-17 3-7 12-20 15-30 13-23 7-10 23-23 20-14 12-13 8-6 7-3 10-2 10 1 7 1 6 3 7 5 5 4 5 7 4 7 2 8 1 8 0 10-5 32-9 29-8 29-5 27-9 35-2 8-8 14-3 8-1 8 1 17-2 10-21 43-4 10-7 24-3 8-4 5-28 30-19 17-6 8-7 15-4 6-18 13-5 2-5 2M4158 1427l-20 1-33-1-45 2-10 0-22-3-36 0-44-4-8-2-5-2-5-5-1-3 0-3 3-5 6-6 13-9 3-3 1-2 0-2-1-3-5-5-19-14-8-7-5-7-5-10-8-20-3-12-3-20-5-22 0-13 2-7 4-16 4-17 5-13 16-24 10-20 10-16 7-10 9-7 5-3 7-3 16-2 40 1 7 2 7 3 6 3 3 4 9 12 15 19 14 24 5 13 2 7 1 20 6 23 1 10-2 10-9 32-4 28-2 10-5 12-7 10-5 5-5 4-17 9-7 4-4 6 0 2 2 2 4 3 7 1 20 2 30 5 25 1 27 4 33 2 27-2 28 2 25-1 7 0 23 5 23 3 6 3-1 2-7 3-18 2-28 6-82 0-30 2M4422 1117l-4 2-6 0-4-1-6-2-4-4-6-8-4-4-2-8-1-20-1-10-11-35-4-15-1-10 1-10 5-15 2-10 2-40 2-13 3-7 8-13 3-7 2-7 2-16 3-10 4-10 10-20 8-22 15-24 11-26 20-32 7-8 20-20 19-15 15-15 8-5 7-4 10-2 10 0 7 2 8 3 8 5 5 6 6 7 3 8 2 8 1 10 0 10-5 34-10 28-7 28-14 64-3 8-7 15-2 5-1 8 0 17-2 10-12 23-8 20-4 12-8 28-3 7-4 6-5 6-16 15-24 23-5 7-7 16-5 7-6 5-14 10-11 5M4150 1430l-15 0-27-1-50 2-30-3-30 0-40-2-11-2-11-2-6-3-6-5-1-4 1-6 6-7 13-13 1-2 0-2 0-3-4-5-15-13-7-8-5-7-4-7-8-23-3-12-7-40-1-8 1-7 9-40 2-7 4-8 13-22 9-20 6-10 11-16 5-4 7-6 8-4 7-2 10-2 13-1 30 1 10 1 7 3 6 3 4 5 25 32 14 24 6 13 2 10 2 20 5 23 1 10-1 7-9 33-4 24-2 13-5 15-8 12-6 7-4 4-17 9-2 3-1 3 2 2 8 2 40 8 24 2 28 3 35 2 27-1 28 2 25-1 10 0 20 3 24 2 11 2 10 4 3 2 0 2-4 3-8 3-16 2-20 1-25 4-82 0-38 3M4415 1127l-7 2-8-1-5-1-7-5-6-4-4-6-3-8-2-7 0-7 2-18 0-8-11-42-2-12 0-10 1-10 6-16 2-7 2-15 1-28 2-12 3-8 11-20 2-7 3-17 2-8 5-10 9-18 8-22 15-25 11-25 23-35 5-7 22-22 18-14 17-17 8-6 7-3 10-3 10 0 10 2 7 4 9 6 7 6 4 7 3 7 3 10 1 10 0 13-3 24-2 10-2 8-8 20-8 28-15 67-2 7-7 16-1 4-1 8-1 15-2 10-15 33-10 26-8 28-3 8-3 6-8 9-9 10-19 15-7 8-5 7-7 17-6 8-9 7-13 9-10 6-10 3M4090 1432l-35 1-30-3-27 0-46-2-12-2-10-3-7-3-5-6-1-4 1-6 4-4 10-13 3-5 0-2-1-3-3-5-13-14-7-8-4-8-3-8-8-24-3-13-5-37 0-10 0-8 8-32 3-10 4-10 12-23 9-20 11-18 7-9 8-6 12-6 10-4 13-2 10-2 10-1 13 1 12 2 10 3 8 3 7 6 24 30 10 18 10 20 3 10 2 25 6 23 0 12-9 32-4 30-6 23-3 10-6 9-14 18 0 3 1 3 11 4 15 5 50 6 40 2 27-1 28 1 25 0 10 0 23 3 27 2 15 2 9 3 4 3 2 2-1 2-2 3-5 3-8 2-17 2-27 2-25 3-82 0-43 3-35-1-20 1M4405 1140l-7 1-10-2-13-5-8-4-3-6-2-14-3-16-1-20-3-22 0-50 2-12 7-18 2-8 2-20 1-22 3-12 3-8 11-20 2-8 3-17 3-7 13-28 8-22 14-23 12-25 26-40 25-26 20-16 16-17 10-8 10-5 10-2 12-1 10 2 8 4 8 7 6 7 6 9 2 8 2 10 0 13 0 15-2 22-1 10-3 8-8 22-8 25-11 48-4 20-10 27-1 8-1 15-2 10-14 30-12 36-8 27-5 9-7 11-10 13-17 13-6 6-6 8-8 17-6 7-4 5-10 9-10 6-33 16M4068 1435l-18-1-25-2-65-1-15-2-15-3-11-4-6-5-3-5 0-2 2-6 13-17 2-5 0-2-1-3-2-5-14-16-6-9-3-10-11-37-5-38 0-12 1-16 7-30 6-14 19-43 14-22 6-7 7-6 13-6 10-4 30-8 12-1 18 4 17 5 7 4 5 4 21 23 4 7 16 30 6 17 2 10 2 20 5 23 0 12-8 32-3 28-5 20-5 15-13 25 0 2 0 3 2 3 9 4 10 3 50 6 30 2 32-1 28 1 32 0 60 5 14 2 10 2 5 3 3 3 1 2 0 2-2 3-11 5-12 3-18 2-27 1-30 3-30 0-45 0-45 2-33 0-44 2M4405 1150l-7 1-10-1-13-2-20-5-10-4-3-2-2-5 0-8 5-14 1-10 0-20-5-38 0-10 6-20 4-22 8-26 3-22 2-22 3-10 4-10 10-20 8-30 13-28 10-25 13-21 11-24 14-20 14-22 4-6 24-22 17-15 19-21 10-8 10-5 17-4 13-1 10 2 4 1 6 4 6 7 6 11 5 14 1 10 1 10-3 45-1 10-2 8-9 24-10 30-10 42-4 21-8 25-2 10-1 18-3 10-13 27-7 25-15 42-7 14-8 14-7 8-15 11-4 5-5 6-12 20-6 8-10 10-10 8-18 9-15 10-7 3M4160 1435l-20 0-28 0-54 1-36-2-70-2-14-1-16-4-10-5-6-5-2-5 0-5 3-5 8-10 3-5 2-5 0-2-4-8-12-15-5-10-11-37-3-16-3-32-1-12 1-10 4-20 5-20 4-13 15-35 5-10 17-25 6-6 4-4 13-5 23-7 20-7 7-1 10 1 10 3 17 6 8 3 8 4 6 6 16 16 8 11 13 30 6 17 2 10 3 20 4 20 1 10-1 13-7 27-2 26-2 7-7 25-12 28 1 4 1 3 3 3 4 2 10 3 35 5 12 2 30 1 30-1 28 2 32-1 68 5 15 3 13 3 5 3 2 3 1 2 0 2-2 3-4 3-6 2-16 5-13 2-67 4-43 0-65 2M4408 1162l-10 1-13-1-27-7-20-3-8-3-2-3-2-4-1-8 1-10 7-34 2-16-1-14-5-23 0-7 2-8 9-19 7-26 8-35 3-20 2-10 4-10 12-25 3-7 3-18 3-8 13-24 10-26 11-20 12-22 16-22 13-23 7-7 38-36 5-6 12-17 11-9 12-6 25-8 10-1 5 0 5 2 10 5 8 8 6 10 5 12 2 13 1 13-3 50-1 10-2 10-9 24-12 36-13 57-8 25-1 10-2 20-2 10-12 25-8 27-16 43-6 15-9 16-6 6-17 16-17 24-16 19-7 8-7 6-13 6-5 4-12 12-6 2-4 1M4152 1437l-37 0-25 1-32 1-38-3-70-1-18-3-17-4-10-5-7-6-2-5 0-5 3-5 11-15 1-3 0-4-3-8-11-15-4-7-10-40-3-18-2-35 0-13 1-12 3-15 5-20 9-27 7-16 6-12 21-30 5-6 5-4 10-4 25-7 20-8 7-2 10 1 16 4 22 8 10 5 8 5 12 11 7 7 3 5 4 7 10 26 7 22 9 52 1 10-1 13-5 20-2 10-1 23-1 7-8 25-9 25 0 5 1 2 3 4 4 2 8 2 28 6 14 1 28 1 32 0 28 1 32-1 73 6 17 2 13 4 5 2 3 3 2 3 1 2 0 2-2 3-2 3-5 2-16 5-23 4-70 4-56 0-60 2M4372 1198l-4 0-3-1-3-3-1-4 2-10 0-3-2-3-2-2-7-3-22-2-8-2-4-2-5-3-3-3-2-5-1-5 6-23 0-22 0-5 3-7 6-16 2-7 0-5 0-8-5-20-1-7 1-5 3-8 10-17 6-12 2-11 3-17 5-17 4-23 4-10 15-33 8-30 3-7 10-18 12-29 18-33 6-10 14-19 12-21 6-7 18-17 19-19 6-7 14-20 5-6 8-6 12-6 28-10 10-1 5 0 5 1 8 4 9 7 5 6 6 7 4 9 3 12 2 13 1 13-3 24-2 28-2 15-3 10-7 20-13 42-10 45-9 30-2 10-1 20-3 10-11 26-8 27-18 47-10 20-7 13-16 17-11 16-16 20-14 20-5 4-15 12-7 11-4 5-6 4-5 2-5 1-15 1-7 2-5 3-10 10-6 3M4108 1440l-18 0-35 1-37-3-60 0-16-1-20-4-14-4-8-4-4-3-7-8-2-4 1-6 13-17 1-4 1-3-2-6-10-14-5-10-8-38-2-20-3-40 0-12 2-16 3-14 5-18 8-25 6-13 7-12 12-18 12-18 4-6 8-5 10-4 20-4 25-11 7-1 10 1 16 3 37 15 21 13 5 5 4 5 5 11 9 29 5 17 3 16 7 40 2 14-1 16-7 27 0 23-1 7-8 25-8 22 0 6 0 2 4 4 8 4 10 2 17 3 13 2 25 1 34 0 28 1 35-1 77 6 18 3 12 4 7 3 3 3 3 5-1 2-1 3-2 3-9 5-17 5-17 3-13 1-67 3-50 0-70 2-40 1M4388 1217l-8 2-10-1-12-3-8-3-6-5-9-15-5-6-8-4-20-6-10-5-10-8-3-3-2-6-2-5-1-9 1-8 1-5 10-15 4-15 3-7 5-8 10-12 4-8 0-8-4-22 0-8 2-7 4-10 11-15 5-10 2-8 3-22 9-32 4-10 12-23 5-11 3-9 3-17 3-10 14-24 10-26 6-13 17-30 19-24 11-21 7-8 17-15 16-17 7-8 12-20 8-7 6-5 14-8 30-13 12-2 10 1 8 4 10 7 7 8 6 8 5 10 4 13 3 14 0 13-3 25-2 28-2 14-3 13-8 20-12 40-10 45-8 28-3 12-1 25-2 10-3 7-10 20-8 28-19 48-5 12-9 17-13 18-12 20-17 17-15 24-14 14-13 15-19 15-14 13-13 8-7 4M4102 1442l-50 1-42-2-55-1-17-1-23-5-15-4-9-6-7-4-6-6-1-2-1-2 1-6 14-17 1-3 1-4-2-6-8-14-4-10-7-36-1-20-2-47 0-15 2-15 15-50 6-15 6-10 14-20 13-22 7-7 8-5 8-3 22-5 18-7 7-3 7-1 10 0 16 3 20 8 44 16 7 4 5 4 3 8 3 22 7 26 4 22 8 48 1 14-1 16-6 30 0 20-1 7-14 47 0 6 2 2 3 2 7 4 15 4 20 3 23 1 32 0 30 1 35-1 83 5 17 3 13 4 10 6 4 6 2 2 0 2-3 6-7 4-6 3-16 4-34 6-18 1-50 1-55 1-113 2M4392 1232l-7 2-10 0-27-3-8-1-8-4-10-10-4-4-7-2-16-3-7-4-8-9-18-25-5-9-3-10-2-10 0-10 2-8 9-20 6-15 2-5 4-6 13-15 3-7 2-7 2-17 2-13 6-13 15-19 4-8 1-7 3-23 8-27 5-10 11-19 5-11 5-13 5-20 3-10 3-7 11-20 11-28 5-10 16-25 19-25 10-20 5-8 5-4 15-14 9-9 12-15 14-20 7-8 8-6 10-7 32-17 10-3 8-2 7 0 7 1 8 3 8 6 12 13 7 10 5 12 4 13 3 15 0 12-3 30-2 26-2 14-4 13-7 20-5 20-7 20-3 13-6 30-9 30-3 14-1 28-1 10-4 8-7 12-4 10-9 28-20 52-10 20-13 22-11 22-6 7-13 11-13 18-22 28-20 17-14 16-8 7-10 8-10 4M4105 1445l-53 1-42-3-55 0-17-1-23-4-15-4-30-13-6-4-2-3-1-4 2-6 16-17 1-3 2-4-1-8-7-15-3-10-5-23-1-12-1-18 0-27-1-27 1-16 2-12 8-28 5-20 3-7 4-7 6-10 15-20 10-18 5-8 8-8 10-6 8-3 20-5 24-8 10-2 13 0 15 2 22 8 26 7 10 1 14-2 8 1 5 2 6 3 5 6 2 4 0 6-2 7-4 15-1 5 0 7 8 50 6 50 1 16-1 12-5 28 0 20-1 7-13 45 1 5 1 3 2 2 8 4 10 3 20 3 20 1 32 0 28 1 40-1 84 5 18 4 15 5 14 7 6 6 1 2 0 2-1 3-5 5-5 3-10 5-17 4-38 6-20 1-50 1-165 3M4148 1080l-6 0-2-3 0-3 0-2 2-5 3-3 3-1 2 1 2 1 3 3 1 4-1 2-2 3-3 2-2 1M4370 1250l-8 0-17 0-17 1-13-1-10-2-30-7-5-1-3-3-3-5-2-20-4-15-5-7-12-20-17-36 0-4 1-3 9-15 4-10 0-8-2-12 1-5 4-7 9-10 18-15 5-5 5-8 8-20 5-10 18-25 4-10 2-20 1-7 5-16 6-14 13-22 5-10 7-18 11-30 12-25 10-25 8-13 21-33 13-17 9-17 5-8 7-7 18-18 34-43 8-7 12-9 30-18 8-4 10-3 10-3 10-1 7 0 7 2 7 3 6 7 14 19 6 12 5 12 3 13 2 15 1 12-6 53-3 17-3 13-7 20-5 23-7 20-7 37-11 35-2 18-1 27-2 10-3 7-9 16-3 7-11 33-17 44-25 50-8 18-4 8-4 4-18 16-12 14-13 20-5 6-16 12-16 20-10 10-8 6-10 5-12 3-18 4M4110 1447l-20 1-38 0-47-2-47 0-18-1-25-4-15-3-35-12-7-3-5-3-3-6-1-2 1-5 5-7 13-13 3-5 1-5-1-7-6-16-2-10-4-20-2-12-1-15 2-30-2-30 1-13 2-12 9-28 6-24 5-13 7-10 14-19 12-21 6-7 10-11 12-8 10-4 40-10 10-2 12-1 10 0 8 1 40 10 8 2 7-1 6-2 14-6 15-5 20-13 8-2 7 2 15 7 8 2 7 0 13-4 5-1 5 2 2 2 5 6 2 6 1 4 0 3-2 3-4 1-12 5-5 4-6 7-6 5-21 9-10 7-7 6-5 6-5 6-2 6-1 8 0 8 6 39 4 53 0 12-4 35-1 25-12 45 0 5 1 5 2 3 3 2 7 3 10 3 14 1 76 2 42-1 70 4 20 2 20 5 30 11 4 2 3 3 1 3 0 4-3 6-5 4-8 4-10 4-22 5-40 6-25 1-205 3M4078 1452l-33 0-45-2-48 0-17-1-17-3-18-3-42-11-8-4-6-4-4-3-4-4-1-5 0-2 2-6 4-4 16-16 3-4 1-3-1-7-6-23-8-35 0-15 2-27-1-23 0-10 2-20 2-13 8-22 6-25 3-7 5-10 19-27 14-21 7-10 9-9 10-8 8-5 8-3 44-11 20-2 16 0 37 4 7 0 8 0 8-3 30-13 8-5 16-13 6-2 4-1 8 0 12 6 6 2 4 0 13-2 7 0 20 5 8 1 5 0 5-1 5-3 7-4 10-9 12-14 14-15 6-7 3-10 2-16 2-10 15-37 29-51 16-39 18-37 21-30 14-23 11-20 7-10 20-21 16-20 21-24 21-18 15-11 30-17 13-5 10-3 10-2 12 0 10 2 8 3 4 4 6 7 14 28 5 12 2 8 3 12 2 22 0 13-5 47-2 13-5 20-7 23-4 20-8 27-5 30-8 26-2 11-3 18-1 22-1 10-4 13-14 27-9 30-14 40-14 28-25 52-4 8-4 5-17 14-6 6-5 7-6 16-4 7-5 4-10 9-5 4-5 6-8 14-6 8-6 4-7 5-10 4-23 7-22 10-30 7-10 1-12-3-38-13-20-5-5-2-5-4-5-6-9-15-10-12-3-6-2-4-2-16-2-7-5-13-4-11-9-11-7-8-7-5-5-3-5-2-5-1-8 1-4 3-6 4-2 3-2 6 0 10 3 17 1 10-1 40 0 25-4 58-1 7-7 20-3 17 0 8 2 5 4 3 8 3 8 1 12 2 68 1 30-1 14 0 73 4 17 2 18 3 28 8 12 4 7 5 4 5 1 5-2 5-4 5-6 5-8 4-10 4-27 6-40 5-30 2-190 2-47 2M4088 1460l-48 1-35-2-53 0-14-1-26-3-34-7-30-7-13-5-14-6-7-6-5-4-1-3-1-5 2-5 1-3 5-4 19-18 3-5 2-5 0-8-6-22-6-35 0-13 2-22-2-25 1-10 6-37 11-43 7-17 12-23 17-25 15-20 24-22 8-6 7-4 33-11 14-3 28-1 42 0 10-1 10-2 10-4 31-16 25-14 22-10 30-11 45-11 10-5 4-4 4-5 11-22 11-17 5-8 16-33 5-8 14-15 7-9 5-10 8-20 7-13 22-37 26-36 19-34 9-11 35-39 12-13 21-17 14-16 8-6 7-5 20-11 17-13 10-7 8-3 8-1 17-1 17 1 8 3 8 3 10 8 7 10 18 35 3 7 2 8 2 15 2 50-7 57-3 16-7 22-5 30-9 32-5 33-9 45-4 32-7 28-11 31-19 57-4 10-12 20-9 22-11 20-4 10-4 20-4 10-5 5-10 10-4 5-4 8-6 17-4 6-5 6-20 21-17 20-7 7-26 25-5 4-7 4-8 3-38 9-34 4-10 0-8-1-25-6-25-9-8-4-12-9-8-5-24-8-10-5-16-10-4-2-3 0-5 3-2 3-5 9-3 10-3 22-7 20-3 10-1 10 2 6 2 2 5 2 12 3 15 1 46 0 47-2 70 3 17 2 53 11 13 3 9 5 9 4 6 6 4 4 2 6 0 4-3 6-4 4-7 6-12 6-12 5-18 5-32 5-62 5-58 0-70 2-38-1-64 3"/>
</g></g>
<rect x="20.5" y="20.7" width="122.50" height="122.40" fill="none" stroke="#262626" stroke-width="1.3"/>
<rect x="206.0" y="22.0" width="122.50" height="122.40" fill="none" stroke="#262626" stroke-width="1.3"/>
<rect x="379.0" y="22.2" width="122.70" height="122.60" fill="none" stroke="#262626" stroke-width="1.3"/>
<rect x="20.5" y="20.7" width="57.50" height="114.40" fill="none" stroke="#c8102e" stroke-width="1.2"/>
<rect x="206.0" y="42.4" width="62.50" height="52.60" fill="none" stroke="#c8102e" stroke-width="1.2"/>
<rect x="379.2" y="92.6" width="40.50" height="52.20" fill="none" stroke="#c8102e" stroke-width="1.2"/>
<rect x="420.4" y="77.6" width="40.60" height="50.70" fill="none" stroke="#c8102e" stroke-width="1.2"/>
<rect x="430.6" y="51.9" width="40.65" height="25.00" fill="none" stroke="#c8102e" stroke-width="1.2"/>
<text x="6.8" y="15.0" font-size="10.4" fill="#111" text-anchor="start" font-weight="bold" stroke="#111" stroke-width="0.2" >A</text>
<text x="81.6" y="17" font-size="8.7" fill="#222" text-anchor="middle" font-weight="normal" >Live singlets</text>
<text x="268.3" y="16.8" font-size="8.7" fill="#222" text-anchor="middle" font-weight="normal" >Lin(&#8211;)KIT(+)</text>
<text x="443" y="16.8" font-size="8.7" fill="#222" text-anchor="middle" font-weight="normal" >Lin(&#8211;)KIT(+)SCA1 (&#8211;)</text>
<text transform="translate(9.6,84.75) rotate(-90) scale(0.56,1)" x="0" y="0" font-size="9.2" fill="#2a5f9e" font-weight="bold" text-anchor="middle" dominant-baseline="central">CKIT</text>
<text transform="translate(195.6,86.9) rotate(-90) scale(0.56,1)" x="0" y="0" font-size="9.2" fill="#2a5f9e" font-weight="bold" text-anchor="middle" dominant-baseline="central">CKIT</text>
<text transform="translate(368.7,90.6) rotate(-90) scale(0.66,1)" x="0" y="0" font-size="9.2" fill="#2a5f9e" font-weight="bold" text-anchor="middle" dominant-baseline="central">CD16/32</text>
<text x="81.85" y="158.6" font-size="8.8" fill="#2a5f9e" text-anchor="middle" font-weight="normal" stroke="#2a5f9e" stroke-width="0.2" >Lineage</text>
<text x="267" y="158.2" font-size="8.8" fill="#2a5f9e" text-anchor="middle" font-weight="normal" stroke="#2a5f9e" stroke-width="0.2" >SCA1</text>
<text x="440.5" y="158.3" font-size="9" fill="#2a5f9e" text-anchor="middle" font-weight="normal" stroke="#2a5f9e" stroke-width="0.2" >CD34</text>
<text x="396.7" y="88.75" font-size="7.6" fill="#c8102e" text-anchor="middle" font-weight="normal" >MEP</text>
<text x="448.1" y="48.6" font-size="7.6" fill="#c8102e" text-anchor="middle" font-weight="normal" >GMP</text>
<text x="473.9" y="106.5" font-size="7.6" fill="#c8102e" text-anchor="middle" font-weight="normal" >CMP</text>
<text x="6.5" y="175.5" font-size="10.3" fill="#111" text-anchor="start" font-weight="bold" stroke="#111" stroke-width="0.2" >B</text>
<text x="356.6" y="317.6" font-size="10.6" fill="#111" text-anchor="start" font-weight="bold" stroke="#111" stroke-width="0.2" >C</text>
<line x1="32.9" y1="185.1" x2="32.9" y2="276.5" stroke="#111" stroke-width="1.2"/>
<line x1="29.9" y1="272.30" x2="32.9" y2="272.30" stroke="#111" stroke-width="1"/>
<text x="27.0" y="275.15000000000003" font-size="8.0" fill="#111" text-anchor="end" font-weight="normal" stroke="#111" stroke-width="0.25" >0</text>
<line x1="29.9" y1="255.90" x2="32.9" y2="255.90" stroke="#111" stroke-width="1"/>
<text x="27.0" y="258.75" font-size="8.0" fill="#111" text-anchor="end" font-weight="normal" stroke="#111" stroke-width="0.25" >20</text>
<line x1="29.9" y1="239.50" x2="32.9" y2="239.50" stroke="#111" stroke-width="1"/>
<text x="27.0" y="242.35" font-size="8.0" fill="#111" text-anchor="end" font-weight="normal" stroke="#111" stroke-width="0.25" >40</text>
<line x1="29.9" y1="223.10" x2="32.9" y2="223.10" stroke="#111" stroke-width="1"/>
<text x="27.0" y="225.95000000000002" font-size="8.0" fill="#111" text-anchor="end" font-weight="normal" stroke="#111" stroke-width="0.25" >60</text>
<line x1="29.9" y1="206.70" x2="32.9" y2="206.70" stroke="#111" stroke-width="1"/>
<text x="27.0" y="209.55" font-size="8.0" fill="#111" text-anchor="end" font-weight="normal" stroke="#111" stroke-width="0.25" >80</text>
<line x1="29.9" y1="190.30" x2="32.9" y2="190.30" stroke="#111" stroke-width="1"/>
<text x="27.0" y="193.15" font-size="8.0" fill="#111" text-anchor="end" font-weight="normal" stroke="#111" stroke-width="0.25" >100</text>
<line x1="41.3" y1="281.5" x2="170.9" y2="281.5" stroke="#111" stroke-width="1.2"/>
<line x1="61.2" y1="281.5" x2="61.2" y2="284.3" stroke="#111" stroke-width="1"/>
<text x="60.6" y="292.8" font-size="8.1" fill="#222" text-anchor="middle" font-weight="normal" stroke="#222" stroke-width="0.15" >CMP</text>
<line x1="106.0" y1="281.5" x2="106.0" y2="284.3" stroke="#111" stroke-width="1"/>
<text x="105.4" y="292.8" font-size="8.1" fill="#222" text-anchor="middle" font-weight="normal" stroke="#222" stroke-width="0.15" >GMP</text>
<line x1="150.7" y1="281.5" x2="150.7" y2="284.3" stroke="#111" stroke-width="1"/>
<text x="150.1" y="292.8" font-size="8.1" fill="#222" text-anchor="middle" font-weight="normal" stroke="#222" stroke-width="0.15" >MEP</text>
<text x="111.1" y="184.20000000000002" font-size="8.7" fill="#111" text-anchor="middle" font-weight="normal" stroke="#111" stroke-width="0.2" >E 14</text>
<text x="38.6" y="192.4" font-size="7.2" fill="#2a64a8" text-anchor="start" font-weight="normal" >WT=4</text>
<text x="38.6" y="201.4" font-size="7.2" fill="#d0203a" text-anchor="start" font-weight="normal" >KO=3</text>
<circle cx="53.0" cy="255.9" r="2.0" fill="#124d8c"/>
<circle cx="50.5" cy="255.9" r="2.0" fill="#124d8c"/>
<circle cx="55.5" cy="255.9" r="2.0" fill="#124d8c"/>
<circle cx="53.0" cy="260.8" r="2.0" fill="#124d8c"/>
<line x1="47.4" y1="256.7" x2="58.6" y2="256.7" stroke="#124d8c" stroke-width="1.2"/>
<line x1="53.0" y1="254.3" x2="53.0" y2="259.2" stroke="#124d8c" stroke-width="1"/>
<line x1="50.4" y1="254.3" x2="55.6" y2="254.3" stroke="#124d8c" stroke-width="1"/>
<line x1="50.4" y1="259.2" x2="55.6" y2="259.2" stroke="#124d8c" stroke-width="1"/>
<path d="M67.1,257.7 L69.4,253.8 L71.7,257.7Z" fill="#c70022"/>
<path d="M64.6,259.3 L66.9,255.4 L69.2,259.3Z" fill="#c70022"/>
<path d="M67.1,260.2 L69.4,256.3 L71.7,260.2Z" fill="#c70022"/>
<line x1="63.8" y1="257.1" x2="75.0" y2="257.1" stroke="#c70022" stroke-width="1.2"/>
<line x1="69.4" y1="255.9" x2="69.4" y2="258.4" stroke="#c70022" stroke-width="1"/>
<line x1="66.8" y1="255.9" x2="72.0" y2="255.9" stroke="#c70022" stroke-width="1"/>
<line x1="66.8" y1="258.4" x2="72.0" y2="258.4" stroke="#c70022" stroke-width="1"/>
<circle cx="97.8" cy="267.4" r="2.0" fill="#124d8c"/>
<circle cx="95.3" cy="267.4" r="2.0" fill="#124d8c"/>
<circle cx="100.3" cy="268.2" r="2.0" fill="#124d8c"/>
<circle cx="92.8" cy="268.2" r="2.0" fill="#124d8c"/>
<line x1="92.2" y1="267.8" x2="103.4" y2="267.8" stroke="#124d8c" stroke-width="1.2"/>
<line x1="97.8" y1="267.4" x2="97.8" y2="268.2" stroke="#124d8c" stroke-width="1"/>
<line x1="95.2" y1="267.4" x2="100.4" y2="267.4" stroke="#124d8c" stroke-width="1"/>
<line x1="95.2" y1="268.2" x2="100.4" y2="268.2" stroke="#124d8c" stroke-width="1"/>
<path d="M111.9,270.8 L114.2,266.9 L116.5,270.8Z" fill="#c70022"/>
<path d="M109.4,271.6 L111.7,267.7 L114.0,271.6Z" fill="#c70022"/>
<path d="M114.4,271.6 L116.7,267.7 L119.0,271.6Z" fill="#c70022"/>
<line x1="108.6" y1="269.4" x2="119.8" y2="269.4" stroke="#c70022" stroke-width="1.2"/>
<line x1="114.2" y1="269.0" x2="114.2" y2="269.8" stroke="#c70022" stroke-width="1"/>
<line x1="111.6" y1="269.0" x2="116.8" y2="269.0" stroke="#c70022" stroke-width="1"/>
<line x1="111.6" y1="269.8" x2="116.8" y2="269.8" stroke="#c70022" stroke-width="1"/>
<circle cx="142.5" cy="204.2" r="2.0" fill="#124d8c"/>
<circle cx="142.5" cy="210.8" r="2.0" fill="#124d8c"/>
<circle cx="140.0" cy="211.6" r="2.0" fill="#124d8c"/>
<circle cx="145.0" cy="212.4" r="2.0" fill="#124d8c"/>
<line x1="136.9" y1="210.0" x2="148.1" y2="210.0" stroke="#124d8c" stroke-width="1.2"/>
<line x1="142.5" y1="206.3" x2="142.5" y2="213.7" stroke="#124d8c" stroke-width="1"/>
<line x1="139.9" y1="206.3" x2="145.1" y2="206.3" stroke="#124d8c" stroke-width="1"/>
<line x1="139.9" y1="213.7" x2="145.1" y2="213.7" stroke="#124d8c" stroke-width="1"/>
<path d="M156.6,208.5 L158.9,204.6 L161.2,208.5Z" fill="#c70022"/>
<path d="M156.6,211.0 L158.9,207.1 L161.2,211.0Z" fill="#c70022"/>
<path d="M154.1,211.8 L156.4,207.9 L158.7,211.8Z" fill="#c70022"/>
<line x1="153.3" y1="208.3" x2="164.5" y2="208.3" stroke="#c70022" stroke-width="1.2"/>
<line x1="158.9" y1="206.7" x2="158.9" y2="210.0" stroke="#c70022" stroke-width="1"/>
<line x1="156.3" y1="206.7" x2="161.5" y2="206.7" stroke="#c70022" stroke-width="1"/>
<line x1="156.3" y1="210.0" x2="161.5" y2="210.0" stroke="#c70022" stroke-width="1"/>
<line x1="207.6" y1="185.1" x2="207.6" y2="276.5" stroke="#111" stroke-width="1.2"/>
<line x1="204.6" y1="272.30" x2="207.6" y2="272.30" stroke="#111" stroke-width="1"/>
<text x="201.7" y="275.15000000000003" font-size="8.0" fill="#111" text-anchor="end" font-weight="normal" stroke="#111" stroke-width="0.25" >0</text>
<line x1="204.6" y1="255.90" x2="207.6" y2="255.90" stroke="#111" stroke-width="1"/>
<text x="201.7" y="258.75" font-size="8.0" fill="#111" text-anchor="end" font-weight="normal" stroke="#111" stroke-width="0.25" >20</text>
<line x1="204.6" y1="239.50" x2="207.6" y2="239.50" stroke="#111" stroke-width="1"/>
<text x="201.7" y="242.35" font-size="8.0" fill="#111" text-anchor="end" font-weight="normal" stroke="#111" stroke-width="0.25" >40</text>
<line x1="204.6" y1="223.10" x2="207.6" y2="223.10" stroke="#111" stroke-width="1"/>
<text x="201.7" y="225.95000000000002" font-size="8.0" fill="#111" text-anchor="end" font-weight="normal" stroke="#111" stroke-width="0.25" >60</text>
<line x1="204.6" y1="206.70" x2="207.6" y2="206.70" stroke="#111" stroke-width="1"/>
<text x="201.7" y="209.55" font-size="8.0" fill="#111" text-anchor="end" font-weight="normal" stroke="#111" stroke-width="0.25" >80</text>
<line x1="204.6" y1="190.30" x2="207.6" y2="190.30" stroke="#111" stroke-width="1"/>
<text x="201.7" y="193.15" font-size="8.0" fill="#111" text-anchor="end" font-weight="normal" stroke="#111" stroke-width="0.25" >100</text>
<line x1="216.3" y1="281.5" x2="345.5" y2="281.5" stroke="#111" stroke-width="1.2"/>
<line x1="236.3" y1="281.5" x2="236.3" y2="284.3" stroke="#111" stroke-width="1"/>
<text x="235.70000000000002" y="292.8" font-size="8.1" fill="#222" text-anchor="middle" font-weight="normal" stroke="#222" stroke-width="0.15" >CMP</text>
<line x1="281.0" y1="281.5" x2="281.0" y2="284.3" stroke="#111" stroke-width="1"/>
<text x="280.4" y="292.8" font-size="8.1" fill="#222" text-anchor="middle" font-weight="normal" stroke="#222" stroke-width="0.15" >GMP</text>
<line x1="325.7" y1="281.5" x2="325.7" y2="284.3" stroke="#111" stroke-width="1"/>
<text x="325.09999999999997" y="292.8" font-size="8.1" fill="#222" text-anchor="middle" font-weight="normal" stroke="#222" stroke-width="0.15" >MEP</text>
<text x="281.85" y="184.20000000000002" font-size="8.7" fill="#111" text-anchor="middle" font-weight="normal" stroke="#111" stroke-width="0.2" >E 14.5</text>
<text x="214.4" y="192.4" font-size="7.2" fill="#2a64a8" text-anchor="start" font-weight="normal" >WT=3</text>
<text x="214.4" y="201.4" font-size="7.2" fill="#d0203a" text-anchor="start" font-weight="normal" >KO=1</text>
<circle cx="228.1" cy="262.5" r="2.0" fill="#124d8c"/>
<circle cx="225.6" cy="263.3" r="2.0" fill="#124d8c"/>
<circle cx="230.6" cy="263.3" r="2.0" fill="#124d8c"/>
<line x1="222.5" y1="263.0" x2="233.7" y2="263.0" stroke="#124d8c" stroke-width="1.2"/>
<line x1="228.1" y1="262.5" x2="228.1" y2="263.5" stroke="#124d8c" stroke-width="1"/>
<line x1="225.5" y1="262.5" x2="230.7" y2="262.5" stroke="#124d8c" stroke-width="1"/>
<line x1="225.5" y1="263.5" x2="230.7" y2="263.5" stroke="#124d8c" stroke-width="1"/>
<path d="M242.2,266.7 L244.5,262.8 L246.8,266.7Z" fill="#c70022"/>
<line x1="238.9" y1="264.9" x2="250.1" y2="264.9" stroke="#c70022" stroke-width="1.2"/>
<circle cx="272.8" cy="249.3" r="2.0" fill="#124d8c"/>
<circle cx="272.8" cy="252.6" r="2.0" fill="#124d8c"/>
<circle cx="270.3" cy="254.3" r="2.0" fill="#124d8c"/>
<line x1="267.2" y1="251.8" x2="278.4" y2="251.8" stroke="#124d8c" stroke-width="1.2"/>
<line x1="272.8" y1="249.3" x2="272.8" y2="254.3" stroke="#124d8c" stroke-width="1"/>
<line x1="270.2" y1="249.3" x2="275.4" y2="249.3" stroke="#124d8c" stroke-width="1"/>
<line x1="270.2" y1="254.3" x2="275.4" y2="254.3" stroke="#124d8c" stroke-width="1"/>
<path d="M286.9,265.1 L289.2,261.2 L291.5,265.1Z" fill="#c70022"/>
<line x1="283.6" y1="263.3" x2="294.8" y2="263.3" stroke="#c70022" stroke-width="1.2"/>
<circle cx="317.5" cy="216.5" r="2.0" fill="#124d8c"/>
<circle cx="317.5" cy="219.0" r="2.0" fill="#124d8c"/>
<circle cx="317.5" cy="223.1" r="2.0" fill="#124d8c"/>
<line x1="311.9" y1="219.8" x2="323.1" y2="219.8" stroke="#124d8c" stroke-width="1.2"/>
<line x1="317.5" y1="216.5" x2="317.5" y2="223.1" stroke="#124d8c" stroke-width="1"/>
<line x1="314.9" y1="216.5" x2="320.1" y2="216.5" stroke="#124d8c" stroke-width="1"/>
<line x1="314.9" y1="223.1" x2="320.1" y2="223.1" stroke="#124d8c" stroke-width="1"/>
<path d="M331.6,209.3 L333.9,205.4 L336.2,209.3Z" fill="#c70022"/>
<line x1="328.3" y1="207.5" x2="339.5" y2="207.5" stroke="#c70022" stroke-width="1.2"/>
<line x1="377.8" y1="185.1" x2="377.8" y2="276.5" stroke="#111" stroke-width="1.2"/>
<line x1="374.8" y1="272.30" x2="377.8" y2="272.30" stroke="#111" stroke-width="1"/>
<text x="371.90000000000003" y="275.15000000000003" font-size="8.0" fill="#111" text-anchor="end" font-weight="normal" stroke="#111" stroke-width="0.25" >0</text>
<line x1="374.8" y1="255.90" x2="377.8" y2="255.90" stroke="#111" stroke-width="1"/>
<text x="371.90000000000003" y="258.75" font-size="8.0" fill="#111" text-anchor="end" font-weight="normal" stroke="#111" stroke-width="0.25" >20</text>
<line x1="374.8" y1="239.50" x2="377.8" y2="239.50" stroke="#111" stroke-width="1"/>
<text x="371.90000000000003" y="242.35" font-size="8.0" fill="#111" text-anchor="end" font-weight="normal" stroke="#111" stroke-width="0.25" >40</text>
<line x1="374.8" y1="223.10" x2="377.8" y2="223.10" stroke="#111" stroke-width="1"/>
<text x="371.90000000000003" y="225.95000000000002" font-size="8.0" fill="#111" text-anchor="end" font-weight="normal" stroke="#111" stroke-width="0.25" >60</text>
<line x1="374.8" y1="206.70" x2="377.8" y2="206.70" stroke="#111" stroke-width="1"/>
<text x="371.90000000000003" y="209.55" font-size="8.0" fill="#111" text-anchor="end" font-weight="normal" stroke="#111" stroke-width="0.25" >80</text>
<line x1="374.8" y1="190.30" x2="377.8" y2="190.30" stroke="#111" stroke-width="1"/>
<text x="371.90000000000003" y="193.15" font-size="8.0" fill="#111" text-anchor="end" font-weight="normal" stroke="#111" stroke-width="0.25" >100</text>
<line x1="383.4" y1="281.5" x2="513.3" y2="281.5" stroke="#111" stroke-width="1.2"/>
<line x1="403.5" y1="281.5" x2="403.5" y2="284.3" stroke="#111" stroke-width="1"/>
<text x="402.9" y="292.8" font-size="8.1" fill="#222" text-anchor="middle" font-weight="normal" stroke="#222" stroke-width="0.15" >CMP</text>
<line x1="448.3" y1="281.5" x2="448.3" y2="284.3" stroke="#111" stroke-width="1"/>
<text x="447.7" y="292.8" font-size="8.1" fill="#222" text-anchor="middle" font-weight="normal" stroke="#222" stroke-width="0.15" >GMP</text>
<line x1="492.7" y1="281.5" x2="492.7" y2="284.3" stroke="#111" stroke-width="1"/>
<text x="492.09999999999997" y="292.8" font-size="8.1" fill="#222" text-anchor="middle" font-weight="normal" stroke="#222" stroke-width="0.15" >MEP</text>
<text x="449.9" y="184.20000000000002" font-size="8.7" fill="#111" text-anchor="middle" font-weight="normal" stroke="#111" stroke-width="0.2" >E 15</text>
<text x="384.2" y="192.4" font-size="7.2" fill="#2a64a8" text-anchor="start" font-weight="normal" >WT=2</text>
<text x="384.2" y="201.4" font-size="7.2" fill="#d0203a" text-anchor="start" font-weight="normal" >KO=4</text>
<circle cx="395.3" cy="263.3" r="2.0" fill="#124d8c"/>
<circle cx="392.8" cy="264.1" r="2.0" fill="#124d8c"/>
<line x1="389.7" y1="263.7" x2="400.9" y2="263.7" stroke="#124d8c" stroke-width="1.2"/>
<line x1="395.3" y1="263.3" x2="395.3" y2="264.1" stroke="#124d8c" stroke-width="1"/>
<line x1="392.7" y1="263.3" x2="397.9" y2="263.3" stroke="#124d8c" stroke-width="1"/>
<line x1="392.7" y1="264.1" x2="397.9" y2="264.1" stroke="#124d8c" stroke-width="1"/>
<path d="M409.4,266.3 L411.7,262.4 L414.0,266.3Z" fill="#c70022"/>
<path d="M406.9,266.7 L409.2,262.8 L411.5,266.7Z" fill="#c70022"/>
<path d="M411.9,266.7 L414.2,262.8 L416.5,266.7Z" fill="#c70022"/>
<path d="M404.4,267.1 L406.7,263.2 L409.0,267.1Z" fill="#c70022"/>
<line x1="406.1" y1="264.9" x2="417.3" y2="264.9" stroke="#c70022" stroke-width="1.2"/>
<line x1="411.7" y1="264.5" x2="411.7" y2="265.3" stroke="#c70022" stroke-width="1"/>
<line x1="409.1" y1="264.5" x2="414.3" y2="264.5" stroke="#c70022" stroke-width="1"/>
<line x1="409.1" y1="265.3" x2="414.3" y2="265.3" stroke="#c70022" stroke-width="1"/>
<circle cx="440.1" cy="251.0" r="2.0" fill="#124d8c"/>
<circle cx="437.6" cy="251.0" r="2.0" fill="#124d8c"/>
<line x1="434.5" y1="251.0" x2="445.7" y2="251.0" stroke="#124d8c" stroke-width="1.2"/>
<line x1="440.1" y1="250.7" x2="440.1" y2="251.2" stroke="#124d8c" stroke-width="1"/>
<line x1="437.5" y1="250.7" x2="442.7" y2="250.7" stroke="#124d8c" stroke-width="1"/>
<line x1="437.5" y1="251.2" x2="442.7" y2="251.2" stroke="#124d8c" stroke-width="1"/>
<path d="M454.2,250.3 L456.5,246.4 L458.8,250.3Z" fill="#c70022"/>
<path d="M451.7,252.0 L454.0,248.1 L456.3,252.0Z" fill="#c70022"/>
<path d="M456.7,252.0 L459.0,248.1 L461.3,252.0Z" fill="#c70022"/>
<path d="M454.2,253.6 L456.5,249.7 L458.8,253.6Z" fill="#c70022"/>
<line x1="450.9" y1="250.2" x2="462.1" y2="250.2" stroke="#c70022" stroke-width="1.2"/>
<line x1="456.5" y1="248.9" x2="456.5" y2="251.4" stroke="#c70022" stroke-width="1"/>
<line x1="453.9" y1="248.9" x2="459.1" y2="248.9" stroke="#c70022" stroke-width="1"/>
<line x1="453.9" y1="251.4" x2="459.1" y2="251.4" stroke="#c70022" stroke-width="1"/>
<circle cx="484.5" cy="219.8" r="2.0" fill="#124d8c"/>
<circle cx="482.0" cy="220.6" r="2.0" fill="#124d8c"/>
<line x1="478.9" y1="220.2" x2="490.1" y2="220.2" stroke="#124d8c" stroke-width="1.2"/>
<line x1="484.5" y1="219.8" x2="484.5" y2="220.6" stroke="#124d8c" stroke-width="1"/>
<line x1="481.9" y1="219.8" x2="487.1" y2="219.8" stroke="#124d8c" stroke-width="1"/>
<line x1="481.9" y1="220.6" x2="487.1" y2="220.6" stroke="#124d8c" stroke-width="1"/>
<path d="M498.6,220.8 L500.9,216.9 L503.2,220.8Z" fill="#c70022"/>
<path d="M496.1,222.4 L498.4,218.5 L500.7,222.4Z" fill="#c70022"/>
<path d="M498.6,223.3 L500.9,219.4 L503.2,223.3Z" fill="#c70022"/>
<path d="M501.1,224.1 L503.4,220.2 L505.7,224.1Z" fill="#c70022"/>
<line x1="495.3" y1="220.6" x2="506.5" y2="220.6" stroke="#c70022" stroke-width="1.2"/>
<line x1="500.9" y1="219.4" x2="500.9" y2="221.9" stroke="#c70022" stroke-width="1"/>
<line x1="498.3" y1="219.4" x2="503.5" y2="219.4" stroke="#c70022" stroke-width="1"/>
<line x1="498.3" y1="221.9" x2="503.5" y2="221.9" stroke="#c70022" stroke-width="1"/>
<line x1="32.9" y1="317.0" x2="32.9" y2="408.3" stroke="#111" stroke-width="1.2"/>
<line x1="29.9" y1="404.10" x2="32.9" y2="404.10" stroke="#111" stroke-width="1"/>
<text x="27.0" y="406.95000000000005" font-size="8.0" fill="#111" text-anchor="end" font-weight="normal" stroke="#111" stroke-width="0.25" >0</text>
<line x1="29.9" y1="387.58" x2="32.9" y2="387.58" stroke="#111" stroke-width="1"/>
<text x="27.0" y="390.43000000000006" font-size="8.0" fill="#111" text-anchor="end" font-weight="normal" stroke="#111" stroke-width="0.25" >20</text>
<line x1="29.9" y1="371.06" x2="32.9" y2="371.06" stroke="#111" stroke-width="1"/>
<text x="27.0" y="373.91" font-size="8.0" fill="#111" text-anchor="end" font-weight="normal" stroke="#111" stroke-width="0.25" >40</text>
<line x1="29.9" y1="354.54" x2="32.9" y2="354.54" stroke="#111" stroke-width="1"/>
<text x="27.0" y="357.39000000000004" font-size="8.0" fill="#111" text-anchor="end" font-weight="normal" stroke="#111" stroke-width="0.25" >60</text>
<line x1="29.9" y1="338.02" x2="32.9" y2="338.02" stroke="#111" stroke-width="1"/>
<text x="27.0" y="340.87000000000006" font-size="8.0" fill="#111" text-anchor="end" font-weight="normal" stroke="#111" stroke-width="0.25" >80</text>
<line x1="29.9" y1="321.50" x2="32.9" y2="321.50" stroke="#111" stroke-width="1"/>
<text x="27.0" y="324.35" font-size="8.0" fill="#111" text-anchor="end" font-weight="normal" stroke="#111" stroke-width="0.25" >100</text>
<line x1="42.0" y1="413.1" x2="171.5" y2="413.1" stroke="#111" stroke-width="1.2"/>
<line x1="62.2" y1="413.1" x2="62.2" y2="415.90000000000003" stroke="#111" stroke-width="1"/>
<text x="61.6" y="424.6" font-size="8.1" fill="#222" text-anchor="middle" font-weight="normal" stroke="#222" stroke-width="0.15" >CMP</text>
<line x1="106.8" y1="413.1" x2="106.8" y2="415.90000000000003" stroke="#111" stroke-width="1"/>
<text x="106.2" y="424.6" font-size="8.1" fill="#222" text-anchor="middle" font-weight="normal" stroke="#222" stroke-width="0.15" >GMP</text>
<line x1="151.5" y1="413.1" x2="151.5" y2="415.90000000000003" stroke="#111" stroke-width="1"/>
<text x="150.9" y="424.6" font-size="8.1" fill="#222" text-anchor="middle" font-weight="normal" stroke="#222" stroke-width="0.15" >MEP</text>
<text x="111.55" y="316.0" font-size="8.7" fill="#111" text-anchor="middle" font-weight="normal" stroke="#111" stroke-width="0.2" >E 15.5</text>
<text x="40.0" y="322.50000000000006" font-size="7.2" fill="#2a64a8" text-anchor="start" font-weight="normal" >WT=13</text>
<text x="40.0" y="331.50000000000006" font-size="7.2" fill="#d0203a" text-anchor="start" font-weight="normal" >KO=7</text>
<circle cx="54.0" cy="381.8" r="2.0" fill="#124d8c"/>
<circle cx="54.0" cy="384.3" r="2.0" fill="#124d8c"/>
<circle cx="51.5" cy="385.9" r="2.0" fill="#124d8c"/>
<circle cx="54.0" cy="387.6" r="2.0" fill="#124d8c"/>
<circle cx="56.5" cy="387.6" r="2.0" fill="#124d8c"/>
<circle cx="51.5" cy="388.4" r="2.0" fill="#124d8c"/>
<circle cx="49.0" cy="389.2" r="2.0" fill="#124d8c"/>
<circle cx="54.0" cy="390.1" r="2.0" fill="#124d8c"/>
<circle cx="51.5" cy="391.7" r="2.0" fill="#124d8c"/>
<circle cx="54.0" cy="394.2" r="2.0" fill="#124d8c"/>
<circle cx="51.5" cy="395.8" r="2.0" fill="#124d8c"/>
<circle cx="54.0" cy="397.5" r="2.0" fill="#124d8c"/>
<circle cx="51.5" cy="398.3" r="2.0" fill="#124d8c"/>
<line x1="48.4" y1="390.1" x2="59.6" y2="390.1" stroke="#124d8c" stroke-width="1.2"/>
<line x1="54.0" y1="385.1" x2="54.0" y2="395.0" stroke="#124d8c" stroke-width="1"/>
<line x1="51.4" y1="385.1" x2="56.6" y2="385.1" stroke="#124d8c" stroke-width="1"/>
<line x1="51.4" y1="395.0" x2="56.6" y2="395.0" stroke="#124d8c" stroke-width="1"/>
<path d="M68.1,386.9 L70.4,383.0 L72.7,386.9Z" fill="#c70022"/>
<path d="M65.6,387.7 L67.9,383.8 L70.2,387.7Z" fill="#c70022"/>
<path d="M70.6,388.6 L72.9,384.7 L75.2,388.6Z" fill="#c70022"/>
<path d="M68.1,389.4 L70.4,385.5 L72.7,389.4Z" fill="#c70022"/>
<path d="M63.1,389.4 L65.4,385.5 L67.7,389.4Z" fill="#c70022"/>
<path d="M68.1,393.5 L70.4,389.6 L72.7,393.5Z" fill="#c70022"/>
<path d="M68.1,398.5 L70.4,394.6 L72.7,398.5Z" fill="#c70022"/>
<line x1="64.8" y1="388.4" x2="76.0" y2="388.4" stroke="#c70022" stroke-width="1.2"/>
<line x1="70.4" y1="384.3" x2="70.4" y2="392.5" stroke="#c70022" stroke-width="1"/>
<line x1="67.8" y1="384.3" x2="73.0" y2="384.3" stroke="#c70022" stroke-width="1"/>
<line x1="67.8" y1="392.5" x2="73.0" y2="392.5" stroke="#c70022" stroke-width="1"/>
<circle cx="98.6" cy="392.5" r="2.0" fill="#124d8c"/>
<circle cx="96.1" cy="393.4" r="2.0" fill="#124d8c"/>
<circle cx="101.1" cy="394.2" r="2.0" fill="#124d8c"/>
<circle cx="93.6" cy="394.2" r="2.0" fill="#124d8c"/>
<circle cx="103.6" cy="394.2" r="2.0" fill="#124d8c"/>
<circle cx="98.6" cy="395.0" r="2.0" fill="#124d8c"/>
<circle cx="98.6" cy="395.0" r="2.0" fill="#124d8c"/>
<circle cx="96.1" cy="395.8" r="2.0" fill="#124d8c"/>
<circle cx="98.6" cy="395.8" r="2.0" fill="#124d8c"/>
<circle cx="101.1" cy="396.7" r="2.0" fill="#124d8c"/>
<circle cx="93.6" cy="396.7" r="2.0" fill="#124d8c"/>
<circle cx="103.6" cy="397.5" r="2.0" fill="#124d8c"/>
<circle cx="98.6" cy="398.3" r="2.0" fill="#124d8c"/>
<line x1="93.0" y1="395.4" x2="104.2" y2="395.4" stroke="#124d8c" stroke-width="1.2"/>
<line x1="98.6" y1="393.8" x2="98.6" y2="397.1" stroke="#124d8c" stroke-width="1"/>
<line x1="96.0" y1="393.8" x2="101.2" y2="393.8" stroke="#124d8c" stroke-width="1"/>
<line x1="96.0" y1="397.1" x2="101.2" y2="397.1" stroke="#124d8c" stroke-width="1"/>
<path d="M112.7,388.6 L115.0,384.7 L117.3,388.6Z" fill="#c70022"/>
<path d="M110.2,390.2 L112.5,386.3 L114.8,390.2Z" fill="#c70022"/>
<path d="M112.7,391.9 L115.0,388.0 L117.3,391.9Z" fill="#c70022"/>
<path d="M110.2,392.7 L112.5,388.8 L114.8,392.7Z" fill="#c70022"/>
<path d="M115.2,393.5 L117.5,389.6 L119.8,393.5Z" fill="#c70022"/>
<path d="M112.7,395.2 L115.0,391.3 L117.3,395.2Z" fill="#c70022"/>
<path d="M110.2,396.0 L112.5,392.1 L114.8,396.0Z" fill="#c70022"/>
<line x1="109.4" y1="390.9" x2="120.6" y2="390.9" stroke="#c70022" stroke-width="1.2"/>
<line x1="115.0" y1="388.4" x2="115.0" y2="393.4" stroke="#c70022" stroke-width="1"/>
<line x1="112.4" y1="388.4" x2="117.6" y2="388.4" stroke="#c70022" stroke-width="1"/>
<line x1="112.4" y1="393.4" x2="117.6" y2="393.4" stroke="#c70022" stroke-width="1"/>
<circle cx="143.3" cy="336.4" r="2.0" fill="#124d8c"/>
<circle cx="143.3" cy="339.7" r="2.0" fill="#124d8c"/>
<circle cx="143.3" cy="344.6" r="2.0" fill="#124d8c"/>
<circle cx="140.8" cy="346.3" r="2.0" fill="#124d8c"/>
<circle cx="145.8" cy="346.3" r="2.0" fill="#124d8c"/>
<circle cx="143.3" cy="347.9" r="2.0" fill="#124d8c"/>
<circle cx="140.8" cy="348.8" r="2.0" fill="#124d8c"/>
<circle cx="145.8" cy="349.6" r="2.0" fill="#124d8c"/>
<circle cx="143.3" cy="350.4" r="2.0" fill="#124d8c"/>
<circle cx="140.8" cy="351.2" r="2.0" fill="#124d8c"/>
<circle cx="145.8" cy="352.1" r="2.0" fill="#124d8c"/>
<circle cx="143.3" cy="354.5" r="2.0" fill="#124d8c"/>
<circle cx="140.8" cy="356.2" r="2.0" fill="#124d8c"/>
<line x1="137.7" y1="347.9" x2="148.9" y2="347.9" stroke="#124d8c" stroke-width="1.2"/>
<line x1="143.3" y1="342.2" x2="143.3" y2="353.7" stroke="#124d8c" stroke-width="1"/>
<line x1="140.7" y1="342.2" x2="145.9" y2="342.2" stroke="#124d8c" stroke-width="1"/>
<line x1="140.7" y1="353.7" x2="145.9" y2="353.7" stroke="#124d8c" stroke-width="1"/>
<path d="M157.4,339.8 L159.7,335.9 L162.0,339.8Z" fill="#c70022"/>
<path d="M157.4,354.7 L159.7,350.8 L162.0,354.7Z" fill="#c70022"/>
<path d="M154.9,356.3 L157.2,352.4 L159.5,356.3Z" fill="#c70022"/>
<path d="M157.4,358.0 L159.7,354.1 L162.0,358.0Z" fill="#c70022"/>
<path d="M154.9,359.6 L157.2,355.7 L159.5,359.6Z" fill="#c70022"/>
<path d="M157.4,361.3 L159.7,357.4 L162.0,361.3Z" fill="#c70022"/>
<path d="M154.9,362.9 L157.2,359.0 L159.5,362.9Z" fill="#c70022"/>
<line x1="154.1" y1="355.4" x2="165.3" y2="355.4" stroke="#c70022" stroke-width="1.2"/>
<line x1="159.7" y1="347.9" x2="159.7" y2="362.8" stroke="#c70022" stroke-width="1"/>
<line x1="157.1" y1="347.9" x2="162.3" y2="347.9" stroke="#c70022" stroke-width="1"/>
<line x1="157.1" y1="362.8" x2="162.3" y2="362.8" stroke="#c70022" stroke-width="1"/>
<line x1="207.6" y1="317.0" x2="207.6" y2="408.3" stroke="#111" stroke-width="1.2"/>
<line x1="204.6" y1="404.10" x2="207.6" y2="404.10" stroke="#111" stroke-width="1"/>
<text x="201.7" y="406.95000000000005" font-size="8.0" fill="#111" text-anchor="end" font-weight="normal" stroke="#111" stroke-width="0.25" >0</text>
<line x1="204.6" y1="387.58" x2="207.6" y2="387.58" stroke="#111" stroke-width="1"/>
<text x="201.7" y="390.43000000000006" font-size="8.0" fill="#111" text-anchor="end" font-weight="normal" stroke="#111" stroke-width="0.25" >20</text>
<line x1="204.6" y1="371.06" x2="207.6" y2="371.06" stroke="#111" stroke-width="1"/>
<text x="201.7" y="373.91" font-size="8.0" fill="#111" text-anchor="end" font-weight="normal" stroke="#111" stroke-width="0.25" >40</text>
<line x1="204.6" y1="354.54" x2="207.6" y2="354.54" stroke="#111" stroke-width="1"/>
<text x="201.7" y="357.39000000000004" font-size="8.0" fill="#111" text-anchor="end" font-weight="normal" stroke="#111" stroke-width="0.25" >60</text>
<line x1="204.6" y1="338.02" x2="207.6" y2="338.02" stroke="#111" stroke-width="1"/>
<text x="201.7" y="340.87000000000006" font-size="8.0" fill="#111" text-anchor="end" font-weight="normal" stroke="#111" stroke-width="0.25" >80</text>
<line x1="204.6" y1="321.50" x2="207.6" y2="321.50" stroke="#111" stroke-width="1"/>
<text x="201.7" y="324.35" font-size="8.0" fill="#111" text-anchor="end" font-weight="normal" stroke="#111" stroke-width="0.25" >100</text>
<line x1="217.3" y1="413.1" x2="346.0" y2="413.1" stroke="#111" stroke-width="1.2"/>
<line x1="236.8" y1="413.1" x2="236.8" y2="415.90000000000003" stroke="#111" stroke-width="1"/>
<text x="236.20000000000002" y="424.6" font-size="8.1" fill="#222" text-anchor="middle" font-weight="normal" stroke="#222" stroke-width="0.15" >CMP</text>
<line x1="281.5" y1="413.1" x2="281.5" y2="415.90000000000003" stroke="#111" stroke-width="1"/>
<text x="280.9" y="424.6" font-size="8.1" fill="#222" text-anchor="middle" font-weight="normal" stroke="#222" stroke-width="0.15" >GMP</text>
<line x1="326.2" y1="413.1" x2="326.2" y2="415.90000000000003" stroke="#111" stroke-width="1"/>
<text x="325.59999999999997" y="424.6" font-size="8.1" fill="#222" text-anchor="middle" font-weight="normal" stroke="#222" stroke-width="0.15" >MEP</text>
<text x="282.8" y="316.0" font-size="8.7" fill="#111" text-anchor="middle" font-weight="normal" stroke="#111" stroke-width="0.2" >E 16</text>
<text x="214.4" y="322.50000000000006" font-size="7.2" fill="#2a64a8" text-anchor="start" font-weight="normal" >WT=5</text>
<text x="214.4" y="331.50000000000006" font-size="7.2" fill="#d0203a" text-anchor="start" font-weight="normal" >KO=4</text>
<circle cx="228.6" cy="390.9" r="2.0" fill="#124d8c"/>
<circle cx="226.1" cy="391.7" r="2.0" fill="#124d8c"/>
<circle cx="231.1" cy="392.5" r="2.0" fill="#124d8c"/>
<circle cx="223.6" cy="392.5" r="2.0" fill="#124d8c"/>
<circle cx="228.6" cy="393.4" r="2.0" fill="#124d8c"/>
<line x1="223.0" y1="392.3" x2="234.2" y2="392.3" stroke="#124d8c" stroke-width="1.2"/>
<line x1="228.6" y1="391.5" x2="228.6" y2="393.1" stroke="#124d8c" stroke-width="1"/>
<line x1="226.0" y1="391.5" x2="231.2" y2="391.5" stroke="#124d8c" stroke-width="1"/>
<line x1="226.0" y1="393.1" x2="231.2" y2="393.1" stroke="#124d8c" stroke-width="1"/>
<path d="M242.7,396.0 L245.0,392.1 L247.3,396.0Z" fill="#c70022"/>
<path d="M240.2,396.0 L242.5,392.1 L244.8,396.0Z" fill="#c70022"/>
<path d="M245.2,396.8 L247.5,392.9 L249.8,396.8Z" fill="#c70022"/>
<path d="M237.7,396.8 L240.0,392.9 L242.3,396.8Z" fill="#c70022"/>
<line x1="239.4" y1="394.6" x2="250.6" y2="394.6" stroke="#c70022" stroke-width="1.2"/>
<line x1="245.0" y1="394.2" x2="245.0" y2="395.0" stroke="#c70022" stroke-width="1"/>
<line x1="242.4" y1="394.2" x2="247.6" y2="394.2" stroke="#c70022" stroke-width="1"/>
<line x1="242.4" y1="395.0" x2="247.6" y2="395.0" stroke="#c70022" stroke-width="1"/>
<circle cx="273.3" cy="384.3" r="2.0" fill="#124d8c"/>
<circle cx="273.3" cy="386.8" r="2.0" fill="#124d8c"/>
<circle cx="270.8" cy="387.6" r="2.0" fill="#124d8c"/>
<circle cx="275.8" cy="387.6" r="2.0" fill="#124d8c"/>
<circle cx="268.3" cy="388.4" r="2.0" fill="#124d8c"/>
<line x1="267.7" y1="386.9" x2="278.9" y2="386.9" stroke="#124d8c" stroke-width="1.2"/>
<line x1="273.3" y1="385.3" x2="273.3" y2="388.6" stroke="#124d8c" stroke-width="1"/>
<line x1="270.7" y1="385.3" x2="275.9" y2="385.3" stroke="#124d8c" stroke-width="1"/>
<line x1="270.7" y1="388.6" x2="275.9" y2="388.6" stroke="#124d8c" stroke-width="1"/>
<path d="M287.4,385.3 L289.7,381.4 L292.0,385.3Z" fill="#c70022"/>
<path d="M287.4,387.7 L289.7,383.8 L292.0,387.7Z" fill="#c70022"/>
<path d="M287.4,391.0 L289.7,387.1 L292.0,391.0Z" fill="#c70022"/>
<path d="M287.4,394.3 L289.7,390.4 L292.0,394.3Z" fill="#c70022"/>
<line x1="284.1" y1="387.6" x2="295.3" y2="387.6" stroke="#c70022" stroke-width="1.2"/>
<line x1="289.7" y1="383.9" x2="289.7" y2="391.3" stroke="#c70022" stroke-width="1"/>
<line x1="287.1" y1="383.9" x2="292.3" y2="383.9" stroke="#c70022" stroke-width="1"/>
<line x1="287.1" y1="391.3" x2="292.3" y2="391.3" stroke="#c70022" stroke-width="1"/>
<circle cx="318.0" cy="343.8" r="2.0" fill="#124d8c"/>
<circle cx="318.0" cy="346.3" r="2.0" fill="#124d8c"/>
<circle cx="315.5" cy="347.9" r="2.0" fill="#124d8c"/>
<circle cx="318.0" cy="349.6" r="2.0" fill="#124d8c"/>
<circle cx="315.5" cy="351.2" r="2.0" fill="#124d8c"/>
<line x1="312.4" y1="347.9" x2="323.6" y2="347.9" stroke="#124d8c" stroke-width="1.2"/>
<line x1="318.0" y1="345.0" x2="318.0" y2="350.8" stroke="#124d8c" stroke-width="1"/>
<line x1="315.4" y1="345.0" x2="320.6" y2="345.0" stroke="#124d8c" stroke-width="1"/>
<line x1="315.4" y1="350.8" x2="320.6" y2="350.8" stroke="#124d8c" stroke-width="1"/>
<path d="M332.1,341.5 L334.4,337.6 L336.7,341.5Z" fill="#c70022"/>
<path d="M332.1,346.4 L334.4,342.5 L336.7,346.4Z" fill="#c70022"/>
<path d="M329.6,348.1 L331.9,344.2 L334.2,348.1Z" fill="#c70022"/>
<path d="M332.1,351.4 L334.4,347.5 L336.7,351.4Z" fill="#c70022"/>
<line x1="328.8" y1="345.0" x2="340.0" y2="345.0" stroke="#c70022" stroke-width="1.2"/>
<line x1="334.4" y1="340.9" x2="334.4" y2="349.2" stroke="#c70022" stroke-width="1"/>
<line x1="331.8" y1="340.9" x2="337.0" y2="340.9" stroke="#c70022" stroke-width="1"/>
<line x1="331.8" y1="349.2" x2="337.0" y2="349.2" stroke="#c70022" stroke-width="1"/>
<line x1="383.3" y1="323.6" x2="383.3" y2="405.4" stroke="#111" stroke-width="1.2"/>
<line x1="380.3" y1="401.70" x2="383.3" y2="401.70" stroke="#111" stroke-width="1"/>
<text x="379.3" y="404.55" font-size="8.0" fill="#111" text-anchor="end" font-weight="normal" stroke="#111" stroke-width="0.25" >0</text>
<line x1="380.3" y1="391.05" x2="383.3" y2="391.05" stroke="#111" stroke-width="1"/>
<text x="379.3" y="393.90000000000003" font-size="8.0" fill="#111" text-anchor="end" font-weight="normal" stroke="#111" stroke-width="0.25" >5</text>
<line x1="380.3" y1="380.40" x2="383.3" y2="380.40" stroke="#111" stroke-width="1"/>
<text x="379.3" y="383.25" font-size="8.0" fill="#111" text-anchor="end" font-weight="normal" stroke="#111" stroke-width="0.25" >10</text>
<line x1="380.3" y1="369.75" x2="383.3" y2="369.75" stroke="#111" stroke-width="1"/>
<text x="379.3" y="372.6" font-size="8.0" fill="#111" text-anchor="end" font-weight="normal" stroke="#111" stroke-width="0.25" >15</text>
<line x1="380.3" y1="359.10" x2="383.3" y2="359.10" stroke="#111" stroke-width="1"/>
<text x="379.3" y="361.95000000000005" font-size="8.0" fill="#111" text-anchor="end" font-weight="normal" stroke="#111" stroke-width="0.25" >20</text>
<line x1="380.3" y1="348.45" x2="383.3" y2="348.45" stroke="#111" stroke-width="1"/>
<text x="379.3" y="351.3" font-size="8.0" fill="#111" text-anchor="end" font-weight="normal" stroke="#111" stroke-width="0.25" >25</text>
<line x1="380.3" y1="337.80" x2="383.3" y2="337.80" stroke="#111" stroke-width="1"/>
<text x="379.3" y="340.65000000000003" font-size="8.0" fill="#111" text-anchor="end" font-weight="normal" stroke="#111" stroke-width="0.25" >30</text>
<line x1="380.3" y1="327.15" x2="383.3" y2="327.15" stroke="#111" stroke-width="1"/>
<text x="379.3" y="330.0" font-size="8.0" fill="#111" text-anchor="end" font-weight="normal" stroke="#111" stroke-width="0.25" >35</text>
<line x1="389.2" y1="407.4" x2="506.6" y2="407.4" stroke="#111" stroke-width="1.2"/>
<line x1="402.4" y1="407.4" x2="402.4" y2="410.2" stroke="#111" stroke-width="1"/>
<text x="402.4" y="418.6" font-size="7.6" fill="#222" text-anchor="middle" font-weight="normal" stroke="#222" stroke-width="0.15" >E14</text>
<line x1="432.8" y1="407.4" x2="432.8" y2="410.2" stroke="#111" stroke-width="1"/>
<text x="432.8" y="418.6" font-size="7.6" fill="#222" text-anchor="middle" font-weight="normal" stroke="#222" stroke-width="0.15" >E15</text>
<line x1="463.4" y1="407.4" x2="463.4" y2="410.2" stroke="#111" stroke-width="1"/>
<text x="463.4" y="418.6" font-size="7.6" fill="#222" text-anchor="middle" font-weight="normal" stroke="#222" stroke-width="0.15" >E15.5</text>
<line x1="493.7" y1="407.4" x2="493.7" y2="410.2" stroke="#111" stroke-width="1"/>
<text x="493.7" y="418.6" font-size="7.6" fill="#222" text-anchor="middle" font-weight="normal" stroke="#222" stroke-width="0.15" >E16</text>
<text x="439.1" y="317.9" font-size="9.2" fill="#111" text-anchor="middle" font-weight="normal" stroke="#111" stroke-width="0.2" >GMP</text>
<text x="388.2" y="325.49999999999994" font-size="7.2" fill="#2a64a8" text-anchor="start" font-weight="normal" >WT</text>
<text x="388.2" y="334.49999999999994" font-size="7.2" fill="#d0203a" text-anchor="start" font-weight="normal" >KO</text>
<circle cx="396.6" cy="389.3" r="2.0" fill="#124d8c"/>
<circle cx="394.1" cy="389.8" r="2.0" fill="#124d8c"/>
<circle cx="399.1" cy="390.0" r="2.0" fill="#124d8c"/>
<circle cx="391.6" cy="390.6" r="2.0" fill="#124d8c"/>
<line x1="391.0" y1="390.0" x2="402.2" y2="390.0" stroke="#124d8c" stroke-width="1.2"/>
<line x1="396.6" y1="389.3" x2="396.6" y2="390.6" stroke="#124d8c" stroke-width="1"/>
<line x1="394.0" y1="389.3" x2="399.2" y2="389.3" stroke="#124d8c" stroke-width="1"/>
<line x1="394.0" y1="390.6" x2="399.2" y2="390.6" stroke="#124d8c" stroke-width="1"/>
<path d="M405.9,395.0 L408.2,391.1 L410.5,395.0Z" fill="#c70022"/>
<path d="M403.4,396.0 L405.7,392.1 L408.0,396.0Z" fill="#c70022"/>
<path d="M407.1,397.1 L409.4,393.2 L411.8,397.1Z" fill="#c70022"/>
<line x1="402.6" y1="394.2" x2="413.8" y2="394.2" stroke="#c70022" stroke-width="1.2"/>
<line x1="408.2" y1="393.2" x2="408.2" y2="395.3" stroke="#c70022" stroke-width="1"/>
<line x1="405.6" y1="393.2" x2="410.8" y2="393.2" stroke="#c70022" stroke-width="1"/>
<line x1="405.6" y1="395.3" x2="410.8" y2="395.3" stroke="#c70022" stroke-width="1"/>
<circle cx="427.0" cy="345.7" r="2.0" fill="#124d8c"/>
<circle cx="424.5" cy="346.3" r="2.0" fill="#124d8c"/>
<line x1="421.4" y1="345.9" x2="432.6" y2="345.9" stroke="#124d8c" stroke-width="1.2"/>
<line x1="427.0" y1="345.5" x2="427.0" y2="346.3" stroke="#124d8c" stroke-width="1"/>
<line x1="424.4" y1="345.5" x2="429.6" y2="345.5" stroke="#124d8c" stroke-width="1"/>
<line x1="424.4" y1="346.3" x2="429.6" y2="346.3" stroke="#124d8c" stroke-width="1"/>
<path d="M436.3,341.7 L438.6,337.8 L440.9,341.7Z" fill="#c70022"/>
<path d="M436.3,346.0 L438.6,342.1 L440.9,346.0Z" fill="#c70022"/>
<path d="M435.1,348.1 L437.4,344.2 L439.7,348.1Z" fill="#c70022"/>
<path d="M436.3,350.2 L438.6,346.3 L440.9,350.2Z" fill="#c70022"/>
<line x1="433.0" y1="344.2" x2="444.2" y2="344.2" stroke="#c70022" stroke-width="1.2"/>
<line x1="438.6" y1="340.6" x2="438.6" y2="347.8" stroke="#c70022" stroke-width="1"/>
<line x1="436.0" y1="340.6" x2="441.2" y2="340.6" stroke="#c70022" stroke-width="1"/>
<line x1="436.0" y1="347.8" x2="441.2" y2="347.8" stroke="#c70022" stroke-width="1"/>
<circle cx="457.6" cy="371.9" r="2.0" fill="#124d8c"/>
<circle cx="456.3" cy="374.0" r="2.0" fill="#124d8c"/>
<circle cx="457.6" cy="376.1" r="2.0" fill="#124d8c"/>
<circle cx="455.1" cy="376.1" r="2.0" fill="#124d8c"/>
<circle cx="460.1" cy="376.1" r="2.0" fill="#124d8c"/>
<circle cx="456.3" cy="378.3" r="2.0" fill="#124d8c"/>
<circle cx="458.8" cy="378.3" r="2.0" fill="#124d8c"/>
<circle cx="457.6" cy="380.4" r="2.0" fill="#124d8c"/>
<circle cx="455.1" cy="380.4" r="2.0" fill="#124d8c"/>
<circle cx="456.3" cy="382.5" r="2.0" fill="#124d8c"/>
<circle cx="458.8" cy="382.5" r="2.0" fill="#124d8c"/>
<circle cx="457.6" cy="384.7" r="2.0" fill="#124d8c"/>
<circle cx="456.3" cy="386.8" r="2.0" fill="#124d8c"/>
<line x1="452.0" y1="378.3" x2="463.2" y2="378.3" stroke="#124d8c" stroke-width="1.2"/>
<line x1="457.6" y1="374.0" x2="457.6" y2="382.5" stroke="#124d8c" stroke-width="1"/>
<line x1="455.0" y1="374.0" x2="460.2" y2="374.0" stroke="#124d8c" stroke-width="1"/>
<line x1="455.0" y1="382.5" x2="460.2" y2="382.5" stroke="#124d8c" stroke-width="1"/>
<path d="M466.9,358.8 L469.2,354.9 L471.5,358.8Z" fill="#c70022"/>
<path d="M466.9,363.0 L469.2,359.1 L471.5,363.0Z" fill="#c70022"/>
<path d="M466.9,367.3 L469.2,363.4 L471.5,367.3Z" fill="#c70022"/>
<path d="M465.6,369.4 L467.9,365.5 L470.2,369.4Z" fill="#c70022"/>
<path d="M466.9,371.6 L469.2,367.6 L471.5,371.6Z" fill="#c70022"/>
<path d="M466.9,375.8 L469.2,371.9 L471.5,375.8Z" fill="#c70022"/>
<path d="M465.6,377.9 L467.9,374.0 L470.2,377.9Z" fill="#c70022"/>
<line x1="463.6" y1="366.6" x2="474.8" y2="366.6" stroke="#c70022" stroke-width="1.2"/>
<line x1="469.2" y1="360.2" x2="469.2" y2="372.9" stroke="#c70022" stroke-width="1"/>
<line x1="466.6" y1="360.2" x2="471.8" y2="360.2" stroke="#c70022" stroke-width="1"/>
<line x1="466.6" y1="372.9" x2="471.8" y2="372.9" stroke="#c70022" stroke-width="1"/>
<circle cx="487.9" cy="350.6" r="2.0" fill="#124d8c"/>
<circle cx="487.9" cy="359.1" r="2.0" fill="#124d8c"/>
<circle cx="486.6" cy="361.2" r="2.0" fill="#124d8c"/>
<circle cx="487.9" cy="363.4" r="2.0" fill="#124d8c"/>
<circle cx="486.6" cy="365.5" r="2.0" fill="#124d8c"/>
<line x1="482.3" y1="360.2" x2="493.5" y2="360.2" stroke="#124d8c" stroke-width="1.2"/>
<line x1="487.9" y1="354.4" x2="487.9" y2="365.9" stroke="#124d8c" stroke-width="1"/>
<line x1="485.3" y1="354.4" x2="490.5" y2="354.4" stroke="#124d8c" stroke-width="1"/>
<line x1="485.3" y1="365.9" x2="490.5" y2="365.9" stroke="#124d8c" stroke-width="1"/>
<path d="M497.2,352.4 L499.5,348.5 L501.8,352.4Z" fill="#c70022"/>
<path d="M497.2,360.9 L499.5,357.0 L501.8,360.9Z" fill="#c70022"/>
<path d="M497.2,369.4 L499.5,365.5 L501.8,369.4Z" fill="#c70022"/>
<path d="M497.2,377.9 L499.5,374.0 L501.8,377.9Z" fill="#c70022"/>
<line x1="493.9" y1="361.2" x2="505.1" y2="361.2" stroke="#c70022" stroke-width="1.2"/>
<line x1="499.5" y1="350.6" x2="499.5" y2="371.9" stroke="#c70022" stroke-width="1"/>
<line x1="496.9" y1="350.6" x2="502.1" y2="350.6" stroke="#c70022" stroke-width="1"/>
<line x1="496.9" y1="371.9" x2="502.1" y2="371.9" stroke="#c70022" stroke-width="1"/>
<path d="M396.4,383.6 V376.3 H408.6 V383.6" fill="none" stroke="#222" stroke-width="1"/>
<text x="402.6" y="378.2" font-size="8.5" fill="#111" text-anchor="middle" font-weight="bold" stroke="#111" stroke-width="0.3" >*</text>
<text transform="translate(10.6,231.7) rotate(-90) scale(0.78,1)" x="0" y="0" font-size="10" fill="#222" font-weight="normal" text-anchor="middle" dominant-baseline="central">%</text>
<text transform="translate(185.0,231.7) rotate(-90) scale(0.78,1)" x="0" y="0" font-size="10" fill="#222" font-weight="normal" text-anchor="middle" dominant-baseline="central">%</text>
<text transform="translate(355.2,231.7) rotate(-90) scale(0.78,1)" x="0" y="0" font-size="10" fill="#222" font-weight="normal" text-anchor="middle" dominant-baseline="central">%</text>
<text transform="translate(10.6,363.4) rotate(-90) scale(0.78,1)" x="0" y="0" font-size="10" fill="#222" font-weight="normal" text-anchor="middle" dominant-baseline="central">%</text>
<text transform="translate(185.0,363.4) rotate(-90) scale(0.78,1)" x="0" y="0" font-size="10" fill="#222" font-weight="normal" text-anchor="middle" dominant-baseline="central">%</text>
<text transform="translate(361.7,364.0) rotate(-90) scale(0.78,1)" x="0" y="0" font-size="10" fill="#222" font-weight="normal" text-anchor="middle" dominant-baseline="central">%</text>
<rect x="0.5" y="0.5" width="519" height="431" fill="none" stroke="#000" stroke-width="1.2"/>
</svg></body></html>
